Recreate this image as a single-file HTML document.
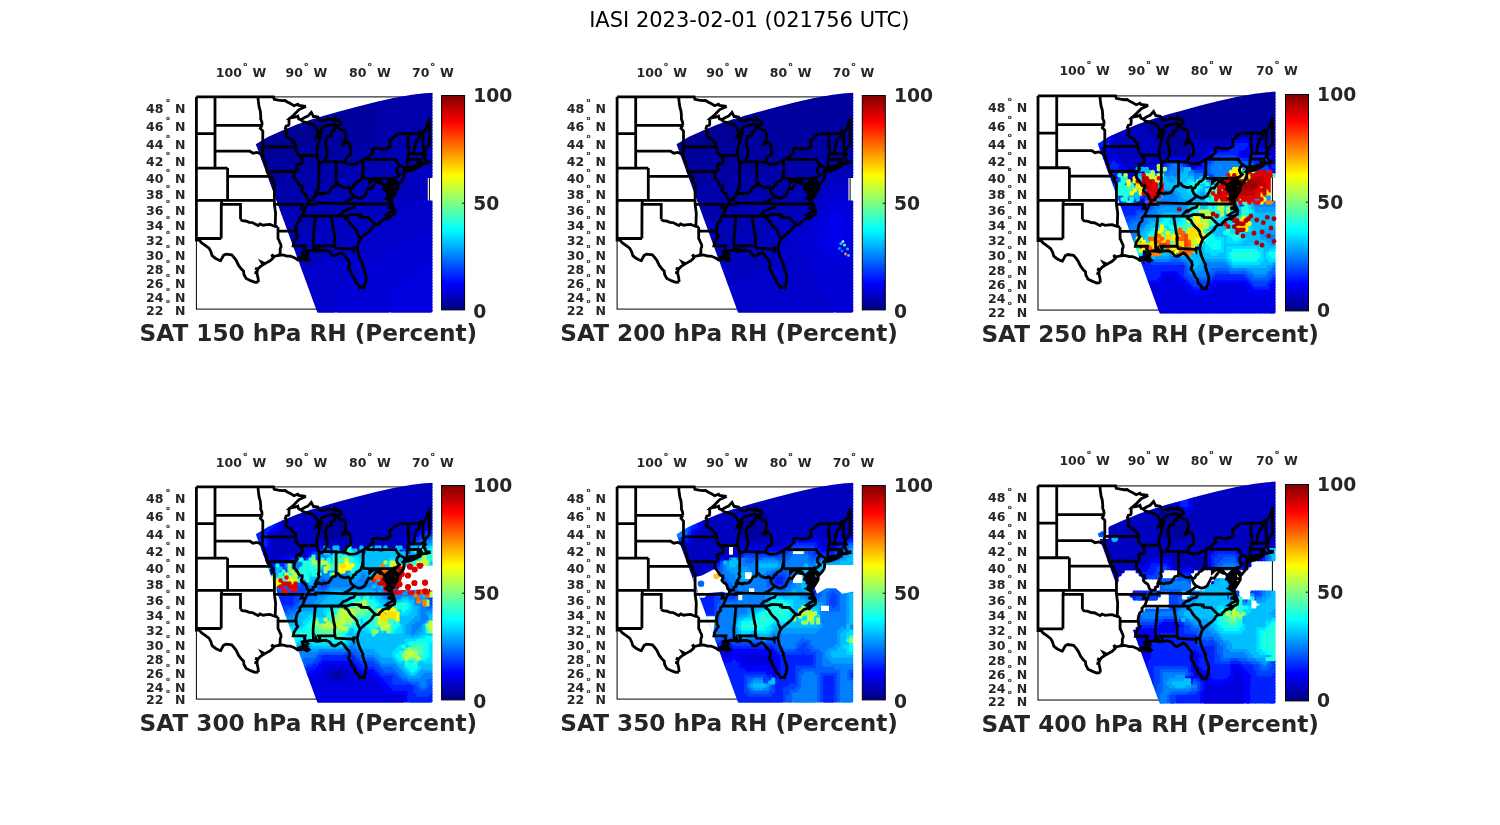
<!DOCTYPE html><html><head><meta charset="utf-8"><title>IASI</title><style>html,body{margin:0;padding:0;background:#fff}svg{display:block}text{font-family:"DejaVu Sans","Liberation Sans",sans-serif}.b{font-weight:bold;fill:#262626}.t{font-size:12.5px}.r{font-size:5.8px}.c{font-size:18.75px}.l{font-size:23.2px}</style></head><body>
<svg width="1500" height="825" viewBox="0 0 1500 825">
<defs>
<path id="st" d="M196.4,96.9 271.0,96.9 273.5,96.9 274.2,99.3 278.3,100.2 282.0,100.7 284.9,100.5 287.7,102.3 289.6,103.1 294.0,105.7 297.8,104.2 298.7,105.4 306.0,106.4M196.4,96.9 196.4,240.2 199.4,240.2M215.0,96.9 215.0,168.1M196.4,133.7 215.0,133.7M215.0,125.3 262.1,125.3M215.0,151.2 249.9,151.2 253.1,153.2 256.9,152.4 259.4,153.3 261.3,154.6 262.8,155.6M196.4,168.1 227.6,168.1M227.6,168.1 227.6,200.4M227.6,176.4 270.0,176.4M196.4,200.4 274.4,200.4M221.6,200.4 221.6,204.3 221.3,204.3 221.2,238.5M221.2,238.5 198.8,238.5 199.4,240.2M221.6,204.3 240.5,204.3 240.5,219.3M240.5,219.3 242.4,220.7 245.5,221.0 249.3,222.4 252.4,222.6 255.0,223.9 258.1,225.5 260.0,223.9 263.1,225.2 266.9,224.7 270.1,224.5 272.6,225.5 275.2,226.3 278.0,227.0M278.0,227.0 278.0,238.5 278.9,240.0 279.4,241.5 280.8,244.4 281.1,246.6 280.2,248.8 280.2,252.5 279.2,255.4M274.4,200.4 274.4,204.3 275.6,213.0 275.2,226.3M274.4,200.4 274.4,183.7 272.6,181.7 271.3,180.0 272.6,178.4 272.0,177.2 270.0,176.4M270.0,176.4 268.5,173.9 267.1,171.5 266.6,168.1 266.1,165.6 265.0,162.2 263.8,158.9 262.8,155.6M267.1,171.6 292.6,171.4 294.5,173.2M262.8,146.9 295.8,146.9M262.8,155.6 261.9,153.8 262.8,150.3 261.9,146.9M262.8,146.9 262.8,131.1 260.3,128.4 262.1,125.3M262.1,125.3 261.9,122.1 260.6,118.9 260.8,116.6 260.3,111.0 259.1,107.0 258.4,101.7 257.9,96.9M290.2,118.0 289.0,118.8 289.0,124.1 288.7,125.2 286.1,126.1 285.3,128.4 286.8,130.2 286.1,133.7 285.8,136.0 287.7,137.6 290.9,139.0 293.1,142.1 295.6,143.9 295.8,146.9M295.8,146.9 296.5,150.3 296.2,152.1 299.4,155.5 302.2,158.9 302.5,161.4 301.2,163.5 296.8,164.8 296.5,168.1 297.5,168.9 296.5,170.6 294.6,171.8 294.5,173.2M294.5,173.2 294.0,176.4 294.6,178.4 297.2,181.3 299.0,184.5 299.7,185.5 302.2,185.7 302.2,187.7 301.2,190.5 302.8,192.5 305.3,194.1 306.6,196.5 306.9,198.5 308.8,200.4M299.4,155.5 317.3,155.5M319.0,162.2 319.0,181.7 318.2,183.7 319.2,186.5 317.6,189.3 316.4,190.9 315.7,193.3 315.4,194.1M336.1,162.2 336.1,183.7M323.6,161.7 336.2,161.7 336.2,162.2 344.7,162.2M363.1,159.9 363.1,178.6M367.9,157.4 367.9,159.7 395.7,159.7 397.6,163.1 399.8,165.1M363.1,178.6 392.9,178.6 394.1,177.7 395.3,178.0M399.8,165.1 397.1,168.2 396.6,170.6 397.6,173.1 399.5,174.7 397.3,176.8 395.3,178.0 394.4,179.6M392.9,178.6 392.9,188.8 397.6,188.8M399.8,165.1 404.8,168.1M406.3,168.1 407.4,166.4 407.0,165.6 407.4,159.3 408.8,153.3 408.9,146.0 408.0,146.0 408.3,133.7M407.4,159.4 418.1,159.5 420.7,159.6 420.7,160.6 422.3,163.9M418.1,159.5 418.1,164.8 417.7,165.4M408.8,153.5 421.2,153.8 423.1,152.5 424.2,152.3M413.9,153.5 414.3,148.6 415.5,144.3 416.5,140.8 419.3,138.2 419.9,133.7M425.0,150.6 423.2,147.8 422.9,131.1M399.8,133.7 419.9,133.7 420.6,131.5 422.6,131.1 424.0,131.5 426.9,127.0 427.8,123.4 429.1,121.2 429.4,118.4 429.4,144.7M399.8,133.7 396.0,135.1 392.9,138.2 389.7,140.8 390.4,146.5 386.6,148.6 381.5,149.1 375.9,148.2 372.4,149.0 372.5,151.6 373.3,152.5 367.9,157.4 363.1,159.9 355.7,163.9 349.4,164.3 347.5,163.5 344.7,162.2 345.6,159.7 346.9,157.2 350.7,154.6 351.2,151.2 350.1,145.2 347.5,142.1 345.0,143.4 341.9,145.6 344.4,141.7 345.6,139.0 345.6,133.7 344.4,130.6 340.6,129.3 336.5,126.8 334.9,127.5 334.3,130.6 331.2,132.0 331.2,135.5 327.1,136.4 325.5,141.7 325.8,145.2 327.4,151.2 326.8,156.3 324.9,159.7 323.6,161.7 321.1,162.7 319.0,162.2 318.6,161.0 317.3,157.2 317.3,155.5 316.7,151.2 317.9,145.2 319.2,140.8 320.5,135.5 322.3,131.5 319.8,134.6 317.6,136.8 316.0,137.7 316.7,135.1 318.6,132.9M318.6,132.9 317.3,130.6 315.4,126.6 312.9,124.8 309.1,123.4 302.8,121.6 300.9,119.8M318.6,132.9 322.3,127.5 325.5,126.1 329.3,125.2 334.9,124.3 336.8,125.7 340.0,124.8 341.2,123.9 340.6,122.1 339.0,120.2 337.5,120.7 334.9,118.0 334.6,120.2 328.0,118.9 324.9,120.7 319.8,120.2 317.9,117.0 314.8,116.4 313.5,116.6 311.3,112.4 307.9,116.1 304.7,117.5 300.9,119.8 298.7,118.9 297.8,116.1 295.9,117.0 290.2,118.0 294.0,114.7 299.0,109.6 306.0,106.4M363.1,171.1 362.6,173.1 362.0,176.4 361.1,179.2 358.9,181.3 356.7,182.1 355.4,184.5 353.8,184.9 352.6,187.7 350.1,189.2 348.5,186.9 345.6,187.7 343.1,187.3 340.0,186.1 338.1,183.7 336.1,183.7 335.6,186.1 332.4,186.9 330.2,190.4 328.6,192.5 325.5,193.3 323.6,192.9 321.7,194.1 318.6,192.9 316.4,194.1 315.4,194.1 315.4,196.5 313.2,197.3 312.9,199.9 308.8,200.4M307.1,204.3 315.7,204.3 315.7,202.9 343.2,203.6 355.8,203.6 355.8,204.0 392.2,204.0M343.2,203.6 346.9,201.6 349.4,200.0 351.9,198.1 354.0,196.2 351.3,193.7 350.1,190.9 350.1,189.2M354.0,196.2 358.2,198.1 360.8,198.1 364.5,196.1 366.4,192.5 368.6,188.1 371.5,188.5 373.3,185.7 376.8,181.3 380.0,183.3 380.8,181.9M380.8,181.9 379.0,179.6 376.5,179.5 374.0,180.0 372.1,180.8 369.7,182.9 369.7,178.6M380.8,181.9 382.2,183.7 385.0,185.7 383.7,189.3 385.3,190.1 389.7,192.9M355.8,203.6 353.8,207.3 350.1,208.2 346.9,210.2 343.1,211.6 339.3,216.0M346.9,216.0 301.6,216.0M346.9,216.0 351.3,214.4 359.8,214.8 359.8,215.6 360.8,215.2 361.5,217.3 368.4,217.5 375.6,224.7M346.9,216.0 345.3,218.2 348.2,220.2 350.1,223.6 352.6,226.6 354.5,228.1 357.0,231.1 357.6,234.1 359.5,237.8 360.8,238.3M331.2,216.0 333.8,232.1 334.9,236.3 334.6,241.5 334.9,245.9 335.8,248.1 352.5,249.0 353.5,250.6 353.8,247.7 357.3,248.1M334.9,245.9 318.6,245.9 319.8,248.5 319.2,251.0M314.8,216.0 315.4,216.7 313.1,239.3 313.5,250.6M308.8,200.4 308.5,203.6 306.6,204.3 306.3,206.3 305.3,208.2 303.8,212.1 302.8,214.8 301.6,216.0 299.7,218.2 300.0,220.5 297.5,222.8 296.5,225.8 295.9,228.8 296.2,231.1 296.5,234.8 297.8,236.3 295.9,239.3 294.0,242.2 293.2,245.9 305.2,245.9 304.4,248.5 306.0,251.7M278.0,230.9 296.1,231.1M274.4,204.3 302.5,204.3 301.1,208.2 305.3,208.2M199.4,240.2 201.4,242.6 205.2,245.3 209.0,248.2 210.9,251.7 212.1,255.7 215.3,258.2 219.7,260.4 220.6,260.6 223.5,255.4 226.0,254.1 231.7,254.9 234.2,257.7 236.4,260.8 238.6,265.4 241.4,269.1 243.6,271.1 243.9,274.3 246.1,278.5 251.2,280.9 255.0,282.3 258.4,282.0M258.4,282.0 258.1,278.1 256.9,273.2 257.5,269.7 260.0,266.8 263.1,264.7 266.3,262.9 270.1,260.8 273.2,257.9 273.9,256.4 278.3,255.5 279.2,255.4 282.7,254.9 287.1,256.2 290.2,256.1 292.1,256.8 295.3,258.2 297.8,260.0 300.9,259.7 303.5,259.0 307.2,260.8 309.1,259.7 306.6,257.5 306.0,255.4 307.9,253.9 306.6,252.5 306.0,251.7 309.7,250.4 313.5,250.6 315.4,251.0 316.0,248.5 316.7,250.3 317.6,251.4 319.2,251.0 325.5,250.3 329.3,251.7 332.4,255.4 334.9,256.1 339.0,253.6 341.2,252.5 343.8,254.6 346.9,259.0 349.1,261.1 349.7,264.7 348.5,268.6 350.7,271.4 352.6,276.0 354.8,278.8 355.7,282.3 358.9,285.5 359.5,287.8 363.6,287.2 364.5,285.1 365.8,282.3 366.2,276.0 364.2,270.4 362.6,265.4 363.1,264.3 360.8,260.0 358.6,254.6 357.6,250.3 357.3,248.1 358.2,243.7 359.5,240.4 360.8,238.3 363.6,235.9 366.7,233.3 370.5,230.3 371.8,228.8 373.3,226.2 375.6,224.7 379.0,224.5 379.6,222.8 383.4,219.4 387.5,218.2 388.5,218.9 391.0,216.0 394.6,214.2 395.1,210.6 393.2,206.7 392.2,204.0 391.6,201.2 389.7,200.8 389.1,198.9 389.7,196.1 389.7,192.9 389.1,190.1 388.5,185.3 389.1,182.5 391.3,180.0 391.9,180.0 390.4,184.5 389.7,186.9 391.0,190.1 392.6,192.9 391.9,196.5 391.6,199.2 392.9,197.3 395.4,193.3 397.3,190.1 397.6,188.9 397.3,186.1 395.4,183.7 394.4,180.4 394.4,179.6 394.8,180.8 397.3,182.9 398.5,185.1 401.7,181.3 403.6,178.4 404.2,173.1 402.9,172.2 404.2,170.6 404.8,168.1 406.3,168.1 410.5,166.4 414.9,165.8 417.7,165.4 419.9,165.0 420.6,162.7 420.7,161.4 421.5,162.2 421.8,164.2 422.3,163.9 425.3,163.5 429.4,162.7 429.4,161.8 426.2,161.6 425.3,159.7 424.7,158.0 423.1,157.2 423.7,155.9 425.6,154.2 424.2,152.3 425.0,150.6 425.9,148.6 428.1,146.0 429.4,144.7M404.2,171.6 408.6,171.2 413.7,169.5 417.6,167.5 414.9,167.3 413.0,168.5 409.2,168.8 405.8,169.8 404.2,171.6M387.5,218.2 388.5,216.0 385.9,215.2 388.5,213.3 392.2,211.3 392.9,208.6 387.8,208.2 391.6,206.7 392.2,204.0M385.3,185.3 388.5,182.1 389.1,186.1 385.9,187.7 389.1,189.3 389.7,192.5 385.9,190.9 388.5,194.9 389.7,197.3 386.6,195.7 389.1,198.5 386.6,198.9 389.7,200.8M392.9,182.1 391.0,185.3 393.5,187.7 391.6,190.1 394.1,192.5 392.9,195.7M300.9,252.5 304.1,251.0 302.8,253.9 306.0,256.1 302.2,256.8 304.1,258.2 300.3,258.2 302.2,259.7 297.2,258.2M273.2,257.9 271.7,254.6 273.5,256.4M263.1,264.7 261.6,262.2 264.4,263.6M257.5,269.7 255.3,268.4 258.1,268.8M256.9,273.2 254.6,272.5 256.9,272.7M363.6,287.2 364.8,288.9" fill="none" stroke="#000" stroke-width="2.8" stroke-linejoin="miter" stroke-miterlimit="4" stroke-linecap="butt"/>
<linearGradient id="jet" x1="0" y1="0" x2="0" y2="1"><stop offset="0" stop-color="#800000"/><stop offset="0.125" stop-color="#ff0000"/><stop offset="0.375" stop-color="#ffff00"/><stop offset="0.625" stop-color="#00ffff"/><stop offset="0.875" stop-color="#0000ff"/><stop offset="1" stop-color="#000080"/></linearGradient>
<clipPath id="sw"><polygon points="255.8,144.3 267.8,137 282.3,130.4 296.9,124.6 311.4,119.5 325.9,115.2 337.3,112.1 356,106.9 374.7,102.3 393.4,98.1 412,94.8 424.2,93.3 429.8,92.9 436,92.4 436,316 319,316 316.6,310.5"/></clipPath>
</defs>
<rect width="1500" height="825" fill="#fff"/>
<text x="749.3" y="26.6" text-anchor="middle" font-size="21" fill="#000">IASI 2023-02-01 (021756 UTC)</text>
<g transform="translate(0.00,0.00)">
<g transform="translate(196.40,96.90) scale(1,1) translate(-196.40,-96.90)">
<rect x="196.4" y="96.9" width="233.0" height="212.2" fill="#fff" stroke="#000" stroke-width="1"/>
<g clip-path="url(#sw)" fill="none" stroke-width="4.6" stroke-linecap="round"><path stroke="#000095" d="M316.5,115.5h0m3,0h0m3,0h0M307.5,118.5h0m3,0h0m3,0h0m3,0h0m3,0h0m3,0h0M298.5,121.5h0m3,0h0m3,0h0m3,0h0m3,0h0m3,0h0m3,0h0m3,0h0m3,0h0M289.5,124.5h0m3,0h0m3,0h0m3,0h0m3,0h0m3,0h0m3,0h0m3,0h0m3,0h0m3,0h0m3,0h0m3,0h0M283.5,127.5h0m3,0h0m3,0h0m3,0h0m3,0h0m3,0h0m3,0h0m3,0h0m3,0h0m3,0h0m3,0h0m3,0h0m3,0h0m3,0h0M277.5,130.5h0m3,0h0m3,0h0m3,0h0m3,0h0m3,0h0m3,0h0m3,0h0m3,0h0m3,0h0m3,0h0m3,0h0m3,0h0m3,0h0m3,0h0m3,0h0M268.5,133.5h0m3,0h0m3,0h0m3,0h0m3,0h0m3,0h0m3,0h0m3,0h0m3,0h0m3,0h0m3,0h0m3,0h0m3,0h0m3,0h0m3,0h0m3,0h0m3,0h0m3,0h0m3,0h0M265.5,136.5h0m3,0h0m3,0h0m3,0h0m3,0h0m3,0h0m3,0h0m3,0h0m3,0h0m3,0h0m3,0h0m3,0h0m3,0h0m3,0h0m3,0h0m3,0h0m3,0h0m3,0h0m3,0h0m3,0h0M259.5,139.5h0m3,0h0m3,0h0m3,0h0m3,0h0m3,0h0m3,0h0m3,0h0m3,0h0m3,0h0m3,0h0m3,0h0m3,0h0m3,0h0m3,0h0m3,0h0m3,0h0m3,0h0m3,0h0m3,0h0m3,0h0m3,0h0M253.5,142.5h0m3,0h0m3,0h0m3,0h0m3,0h0m3,0h0m3,0h0m3,0h0m3,0h0m3,0h0m3,0h0m3,0h0m3,0h0m3,0h0m3,0h0m3,0h0m3,0h0m3,0h0m3,0h0m3,0h0M253.5,145.5h0m3,0h0m3,0h0m3,0h0m3,0h0m3,0h0m3,0h0m3,0h0m3,0h0m3,0h0m3,0h0m3,0h0m3,0h0m3,0h0m3,0h0m3,0h0m3,0h0m3,0h0M256.5,148.5h0m3,0h0m3,0h0m3,0h0m3,0h0m3,0h0m3,0h0m3,0h0m3,0h0m3,0h0m3,0h0m3,0h0m3,0h0m3,0h0M256.5,151.5h0m3,0h0m3,0h0m3,0h0m3,0h0m3,0h0m3,0h0m3,0h0m3,0h0m3,0h0m3,0h0M256.5,154.5h0m3,0h0m3,0h0m3,0h0m3,0h0m3,0h0m3,0h0m3,0h0m3,0h0M259.5,157.5h0m3,0h0m3,0h0m3,0h0m3,0h0m3,0h0"/><path stroke="#00009f" d="M370.5,100.5h0m3,0h0m3,0h0M358.5,103.5h0m3,0h0m3,0h0m3,0h0m3,0h0m3,0h0m3,0h0M346.5,106.5h0m3,0h0m3,0h0m3,0h0m3,0h0m3,0h0m3,0h0m3,0h0m3,0h0m3,0h0m3,0h0M337.5,109.5h0m3,0h0m3,0h0m3,0h0m3,0h0m3,0h0m3,0h0m3,0h0m3,0h0m3,0h0m3,0h0m3,0h0m3,0h0m3,0h0M325.5,112.5h0m3,0h0m3,0h0m3,0h0m3,0h0m3,0h0m3,0h0m3,0h0m3,0h0m3,0h0m3,0h0m3,0h0m3,0h0m3,0h0m3,0h0m3,0h0m3,0h0m3,0h0M325.5,115.5h0m3,0h0m3,0h0m3,0h0m3,0h0m3,0h0m3,0h0m3,0h0m3,0h0m3,0h0m3,0h0m3,0h0m3,0h0m3,0h0m3,0h0m3,0h0m3,0h0m3,0h0M325.5,118.5h0m3,0h0m3,0h0m3,0h0m3,0h0m3,0h0m3,0h0m3,0h0m3,0h0m3,0h0m3,0h0m3,0h0m3,0h0m3,0h0m3,0h0m3,0h0m3,0h0m3,0h0M325.5,121.5h0m3,0h0m3,0h0m3,0h0m3,0h0m3,0h0m3,0h0m3,0h0m3,0h0m3,0h0m3,0h0m3,0h0m3,0h0m3,0h0m3,0h0m3,0h0m3,0h0m3,0h0M325.5,124.5h0m3,0h0m3,0h0m3,0h0m3,0h0m3,0h0m3,0h0m3,0h0m3,0h0m3,0h0m3,0h0m3,0h0m3,0h0m3,0h0m3,0h0m3,0h0m3,0h0m3,0h0M325.5,127.5h0m3,0h0m3,0h0m3,0h0m3,0h0m3,0h0m3,0h0m3,0h0m3,0h0m3,0h0m3,0h0m3,0h0m3,0h0m3,0h0m3,0h0m3,0h0m3,0h0m3,0h0M325.5,130.5h0m3,0h0m3,0h0m3,0h0m3,0h0m3,0h0m3,0h0m3,0h0m3,0h0m3,0h0m3,0h0m3,0h0m3,0h0m3,0h0m3,0h0m3,0h0m3,0h0m3,0h0M325.5,133.5h0m3,0h0m3,0h0m3,0h0m3,0h0m3,0h0m3,0h0m3,0h0m3,0h0m3,0h0m3,0h0m3,0h0m3,0h0m3,0h0m3,0h0m3,0h0m3,0h0m3,0h0M325.5,136.5h0m3,0h0m3,0h0m3,0h0m3,0h0m3,0h0m3,0h0m3,0h0m3,0h0m3,0h0m3,0h0m3,0h0m3,0h0m3,0h0m3,0h0m3,0h0m3,0h0m3,0h0M325.5,139.5h0m3,0h0m3,0h0m3,0h0m3,0h0m3,0h0m3,0h0m3,0h0m3,0h0m3,0h0m3,0h0m3,0h0m3,0h0m3,0h0m3,0h0m3,0h0m3,0h0m3,0h0M313.5,142.5h0m3,0h0m3,0h0m3,0h0m3,0h0m3,0h0m3,0h0m3,0h0m3,0h0m3,0h0m3,0h0m3,0h0m3,0h0m3,0h0m3,0h0m3,0h0m3,0h0m3,0h0m3,0h0M307.5,145.5h0m3,0h0m3,0h0m3,0h0m3,0h0m3,0h0m3,0h0m3,0h0m3,0h0m3,0h0m3,0h0m3,0h0m3,0h0m3,0h0m3,0h0m3,0h0m3,0h0m3,0h0M298.5,148.5h0m3,0h0m3,0h0m3,0h0m3,0h0m3,0h0m3,0h0m3,0h0m3,0h0m3,0h0m3,0h0m3,0h0m3,0h0m3,0h0m3,0h0m3,0h0m3,0h0m3,0h0M289.5,151.5h0m3,0h0m3,0h0m3,0h0m3,0h0m3,0h0m3,0h0m3,0h0m3,0h0m3,0h0m3,0h0m3,0h0m3,0h0m3,0h0m3,0h0m3,0h0m3,0h0m3,0h0m3,0h0M283.5,154.5h0m3,0h0m3,0h0m3,0h0m3,0h0m3,0h0m3,0h0m3,0h0m3,0h0m3,0h0m3,0h0m3,0h0m3,0h0m3,0h0m3,0h0m3,0h0m3,0h0m3,0h0m3,0h0M277.5,157.5h0m3,0h0m3,0h0m3,0h0m3,0h0m3,0h0m3,0h0m3,0h0m3,0h0m3,0h0m3,0h0m3,0h0m3,0h0m3,0h0m3,0h0m3,0h0m3,0h0m3,0h0M259.5,160.5h0m3,0h0m3,0h0m3,0h0m3,0h0m3,0h0m3,0h0m3,0h0m3,0h0m3,0h0m3,0h0m3,0h0m3,0h0m3,0h0m3,0h0m3,0h0m3,0h0m3,0h0m3,0h0m3,0h0m3,0h0m3,0h0M262.5,163.5h0m3,0h0m3,0h0m3,0h0m3,0h0m3,0h0m3,0h0m3,0h0m3,0h0m3,0h0m3,0h0m3,0h0m3,0h0m3,0h0m3,0h0m3,0h0m3,0h0m3,0h0m3,0h0M262.5,166.5h0m3,0h0m3,0h0m3,0h0m3,0h0m3,0h0m3,0h0m3,0h0m3,0h0m3,0h0m3,0h0m3,0h0m3,0h0m3,0h0m3,0h0m3,0h0m3,0h0M262.5,169.5h0m3,0h0m3,0h0m3,0h0m3,0h0m3,0h0m3,0h0m3,0h0m3,0h0m3,0h0m3,0h0m3,0h0m3,0h0m3,0h0m3,0h0M265.5,172.5h0m3,0h0m3,0h0m3,0h0m3,0h0m3,0h0m3,0h0m3,0h0m3,0h0m3,0h0m3,0h0m3,0h0M265.5,175.5h0m3,0h0m3,0h0m3,0h0m3,0h0m3,0h0m3,0h0m3,0h0m3,0h0m3,0h0M265.5,178.5h0m3,0h0m3,0h0m3,0h0m3,0h0m3,0h0m3,0h0m3,0h0M268.5,181.5h0m3,0h0m3,0h0m3,0h0m3,0h0m3,0h0M268.5,184.5h0m3,0h0m3,0h0m3,0h0M268.5,187.5h0m3,0h0"/><path stroke="#0000aa" d="M415.5,91.5h0m3,0h0m3,0h0m3,0h0m3,0h0m3,0h0M397.5,94.5h0m3,0h0m3,0h0m3,0h0m3,0h0m3,0h0m3,0h0m3,0h0m3,0h0m3,0h0m3,0h0m3,0h0M382.5,97.5h0m3,0h0m3,0h0m3,0h0m3,0h0m3,0h0m3,0h0m3,0h0m3,0h0m3,0h0m3,0h0m3,0h0m3,0h0m3,0h0m3,0h0m3,0h0m3,0h0M379.5,100.5h0m3,0h0m3,0h0m3,0h0m3,0h0m3,0h0m3,0h0m3,0h0m3,0h0m3,0h0m3,0h0m3,0h0m3,0h0m3,0h0m3,0h0m3,0h0m3,0h0m3,0h0M379.5,103.5h0m3,0h0m3,0h0m3,0h0m3,0h0m3,0h0m3,0h0m3,0h0m3,0h0m3,0h0m3,0h0m3,0h0m3,0h0m3,0h0m3,0h0m3,0h0m3,0h0m3,0h0M379.5,106.5h0m3,0h0m3,0h0m3,0h0m3,0h0m3,0h0m3,0h0m3,0h0m3,0h0m3,0h0m3,0h0m3,0h0m3,0h0m3,0h0m3,0h0m3,0h0m3,0h0m3,0h0M379.5,109.5h0m3,0h0m3,0h0m3,0h0m3,0h0m3,0h0m3,0h0m3,0h0m3,0h0m3,0h0m3,0h0m3,0h0m3,0h0m3,0h0m3,0h0m3,0h0m3,0h0m3,0h0M379.5,112.5h0m3,0h0m3,0h0m3,0h0m3,0h0m3,0h0m3,0h0m3,0h0m3,0h0m3,0h0m3,0h0m3,0h0m3,0h0m3,0h0m3,0h0m3,0h0m3,0h0m3,0h0M379.5,115.5h0m3,0h0m3,0h0m3,0h0m3,0h0m3,0h0m3,0h0m3,0h0m3,0h0m3,0h0m3,0h0m3,0h0m3,0h0m3,0h0m3,0h0m3,0h0m3,0h0m3,0h0M379.5,118.5h0m3,0h0m3,0h0m3,0h0m3,0h0m3,0h0m3,0h0m3,0h0m3,0h0m3,0h0m3,0h0m3,0h0m3,0h0m3,0h0m3,0h0m3,0h0m3,0h0m3,0h0M379.5,121.5h0m3,0h0m3,0h0m3,0h0m3,0h0m3,0h0m3,0h0m3,0h0m3,0h0m3,0h0m3,0h0m3,0h0m3,0h0m3,0h0m3,0h0m3,0h0m3,0h0m3,0h0M379.5,124.5h0m3,0h0m3,0h0m3,0h0m3,0h0m3,0h0m3,0h0m3,0h0m3,0h0m3,0h0m3,0h0m3,0h0m3,0h0m3,0h0m3,0h0m3,0h0m3,0h0m3,0h0M379.5,127.5h0m3,0h0m3,0h0m3,0h0m3,0h0m3,0h0m3,0h0m3,0h0m3,0h0m3,0h0m3,0h0m3,0h0m3,0h0m3,0h0m3,0h0m3,0h0m3,0h0m3,0h0M379.5,130.5h0m3,0h0m3,0h0m3,0h0m3,0h0m3,0h0m3,0h0m3,0h0m3,0h0m3,0h0m3,0h0m3,0h0m3,0h0m3,0h0m3,0h0m3,0h0m3,0h0m3,0h0M379.5,133.5h0m3,0h0m3,0h0m3,0h0m3,0h0m3,0h0m3,0h0m3,0h0m3,0h0m3,0h0m3,0h0m3,0h0m3,0h0m3,0h0m3,0h0m3,0h0m3,0h0m3,0h0M379.5,136.5h0m3,0h0m3,0h0m3,0h0m3,0h0m3,0h0m3,0h0m3,0h0m3,0h0m3,0h0m3,0h0m3,0h0m3,0h0m3,0h0m3,0h0m3,0h0m3,0h0m3,0h0M379.5,139.5h0m3,0h0m3,0h0m3,0h0m3,0h0m3,0h0m3,0h0m3,0h0m3,0h0m3,0h0m3,0h0m3,0h0m3,0h0m3,0h0m3,0h0m3,0h0m3,0h0m3,0h0M370.5,142.5h0m3,0h0m3,0h0m3,0h0m3,0h0m3,0h0m3,0h0m3,0h0m3,0h0m3,0h0m3,0h0m3,0h0m3,0h0m3,0h0m3,0h0m3,0h0m3,0h0m3,0h0m3,0h0M361.5,145.5h0m3,0h0m3,0h0m3,0h0m3,0h0m3,0h0m3,0h0m3,0h0m3,0h0m3,0h0m3,0h0m3,0h0m3,0h0m3,0h0m3,0h0m3,0h0m3,0h0m3,0h0m3,0h0M352.5,148.5h0m3,0h0m3,0h0m3,0h0m3,0h0m3,0h0m3,0h0m3,0h0m3,0h0m3,0h0m3,0h0m3,0h0m3,0h0m3,0h0m3,0h0m3,0h0m3,0h0m3,0h0m3,0h0M346.5,151.5h0m3,0h0m3,0h0m3,0h0m3,0h0m3,0h0m3,0h0m3,0h0m3,0h0m3,0h0m3,0h0m3,0h0m3,0h0m3,0h0m3,0h0m3,0h0m3,0h0m3,0h0M340.5,154.5h0m3,0h0m3,0h0m3,0h0m3,0h0m3,0h0m3,0h0m3,0h0m3,0h0m3,0h0m3,0h0m3,0h0m3,0h0m3,0h0m3,0h0m3,0h0m3,0h0m3,0h0M331.5,157.5h0m3,0h0m3,0h0m3,0h0m3,0h0m3,0h0m3,0h0m3,0h0m3,0h0m3,0h0m3,0h0m3,0h0m3,0h0m3,0h0m3,0h0m3,0h0m3,0h0m3,0h0m3,0h0M325.5,160.5h0m3,0h0m3,0h0m3,0h0m3,0h0m3,0h0m3,0h0m3,0h0m3,0h0m3,0h0m3,0h0m3,0h0m3,0h0m3,0h0m3,0h0m3,0h0m3,0h0m3,0h0m3,0h0M319.5,163.5h0m3,0h0m3,0h0m3,0h0m3,0h0m3,0h0m3,0h0m3,0h0m3,0h0m3,0h0m3,0h0m3,0h0m3,0h0m3,0h0m3,0h0m3,0h0m3,0h0m3,0h0m3,0h0M313.5,166.5h0m3,0h0m3,0h0m3,0h0m3,0h0m3,0h0m3,0h0m3,0h0m3,0h0m3,0h0m3,0h0m3,0h0m3,0h0m3,0h0m3,0h0m3,0h0m3,0h0m3,0h0m3,0h0M307.5,169.5h0m3,0h0m3,0h0m3,0h0m3,0h0m3,0h0m3,0h0m3,0h0m3,0h0m3,0h0m3,0h0m3,0h0m3,0h0m3,0h0m3,0h0m3,0h0m3,0h0m3,0h0m3,0h0M301.5,172.5h0m3,0h0m3,0h0m3,0h0m3,0h0m3,0h0m3,0h0m3,0h0m3,0h0m3,0h0m3,0h0m3,0h0m3,0h0m3,0h0m3,0h0m3,0h0m3,0h0m3,0h0m3,0h0M295.5,175.5h0m3,0h0m3,0h0m3,0h0m3,0h0m3,0h0m3,0h0m3,0h0m3,0h0m3,0h0m3,0h0m3,0h0m3,0h0m3,0h0m3,0h0m3,0h0m3,0h0m3,0h0m3,0h0M289.5,178.5h0m3,0h0m3,0h0m3,0h0m3,0h0m3,0h0m3,0h0m3,0h0m3,0h0m3,0h0m3,0h0m3,0h0m3,0h0m3,0h0m3,0h0m3,0h0m3,0h0m3,0h0m3,0h0M286.5,181.5h0m3,0h0m3,0h0m3,0h0m3,0h0m3,0h0m3,0h0m3,0h0m3,0h0m3,0h0m3,0h0m3,0h0m3,0h0m3,0h0m3,0h0m3,0h0m3,0h0m3,0h0M280.5,184.5h0m3,0h0m3,0h0m3,0h0m3,0h0m3,0h0m3,0h0m3,0h0m3,0h0m3,0h0m3,0h0m3,0h0m3,0h0m3,0h0m3,0h0m3,0h0m3,0h0m3,0h0M274.5,187.5h0m3,0h0m3,0h0m3,0h0m3,0h0m3,0h0m3,0h0m3,0h0m3,0h0m3,0h0m3,0h0m3,0h0m3,0h0m3,0h0m3,0h0m3,0h0m3,0h0m3,0h0M271.5,190.5h0m3,0h0m3,0h0m3,0h0m3,0h0m3,0h0m3,0h0m3,0h0m3,0h0m3,0h0m3,0h0m3,0h0m3,0h0m3,0h0m3,0h0m3,0h0m3,0h0m3,0h0M271.5,193.5h0m3,0h0m3,0h0m3,0h0m3,0h0m3,0h0m3,0h0m3,0h0m3,0h0m3,0h0m3,0h0m3,0h0m3,0h0m3,0h0m3,0h0m3,0h0M274.5,196.5h0m3,0h0m3,0h0m3,0h0m3,0h0m3,0h0m3,0h0m3,0h0m3,0h0m3,0h0m3,0h0m3,0h0m3,0h0M274.5,199.5h0m3,0h0m3,0h0m3,0h0m3,0h0m3,0h0m3,0h0m3,0h0m3,0h0m3,0h0m3,0h0M274.5,202.5h0m3,0h0m3,0h0m3,0h0m3,0h0m3,0h0m3,0h0m3,0h0m3,0h0m3,0h0M277.5,205.5h0m3,0h0m3,0h0m3,0h0m3,0h0m3,0h0m3,0h0M277.5,208.5h0m3,0h0m3,0h0m3,0h0m3,0h0M277.5,211.5h0m3,0h0m3,0h0m3,0h0M280.5,214.5h0"/><path stroke="#0000b5" d="M427.5,142.5h0m3,0h0M418.5,145.5h0m3,0h0m3,0h0m3,0h0m3,0h0M409.5,148.5h0m3,0h0m3,0h0m3,0h0m3,0h0m3,0h0m3,0h0m3,0h0M400.5,151.5h0m3,0h0m3,0h0m3,0h0m3,0h0m3,0h0m3,0h0m3,0h0m3,0h0m3,0h0m3,0h0M394.5,154.5h0m3,0h0m3,0h0m3,0h0m3,0h0m3,0h0m3,0h0m3,0h0m3,0h0m3,0h0m3,0h0m3,0h0m3,0h0M388.5,157.5h0m3,0h0m3,0h0m3,0h0m3,0h0m3,0h0m3,0h0m3,0h0m3,0h0m3,0h0m3,0h0m3,0h0m3,0h0m3,0h0m3,0h0M382.5,160.5h0m3,0h0m3,0h0m3,0h0m3,0h0m3,0h0m3,0h0m3,0h0m3,0h0m3,0h0m3,0h0m3,0h0m3,0h0m3,0h0m3,0h0m3,0h0m3,0h0M376.5,163.5h0m3,0h0m3,0h0m3,0h0m3,0h0m3,0h0m3,0h0m3,0h0m3,0h0m3,0h0m3,0h0m3,0h0m3,0h0m3,0h0m3,0h0m3,0h0m3,0h0m3,0h0M370.5,166.5h0m3,0h0m3,0h0m3,0h0m3,0h0m3,0h0m3,0h0m3,0h0m3,0h0m3,0h0m3,0h0m3,0h0m3,0h0m3,0h0m3,0h0m3,0h0m3,0h0m3,0h0M364.5,169.5h0m3,0h0m3,0h0m3,0h0m3,0h0m3,0h0m3,0h0m3,0h0m3,0h0m3,0h0m3,0h0m3,0h0m3,0h0m3,0h0m3,0h0m3,0h0m3,0h0m3,0h0M358.5,172.5h0m3,0h0m3,0h0m3,0h0m3,0h0m3,0h0m3,0h0m3,0h0m3,0h0m3,0h0m3,0h0m3,0h0m3,0h0m3,0h0m3,0h0m3,0h0m3,0h0m3,0h0M352.5,175.5h0m3,0h0m3,0h0m3,0h0m3,0h0m3,0h0m3,0h0m3,0h0m3,0h0m3,0h0m3,0h0m3,0h0m3,0h0m3,0h0m3,0h0m3,0h0m3,0h0m3,0h0M346.5,178.5h0m3,0h0m3,0h0m3,0h0m3,0h0m3,0h0m3,0h0m3,0h0m3,0h0m3,0h0m3,0h0m3,0h0m3,0h0m3,0h0m3,0h0m3,0h0m3,0h0m3,0h0M340.5,181.5h0m3,0h0m3,0h0m3,0h0m3,0h0m3,0h0m3,0h0m3,0h0m3,0h0m3,0h0m3,0h0m3,0h0m3,0h0m3,0h0m3,0h0m3,0h0m3,0h0m3,0h0m3,0h0M334.5,184.5h0m3,0h0m3,0h0m3,0h0m3,0h0m3,0h0m3,0h0m3,0h0m3,0h0m3,0h0m3,0h0m3,0h0m3,0h0m3,0h0m3,0h0m3,0h0m3,0h0m3,0h0m3,0h0M328.5,187.5h0m3,0h0m3,0h0m3,0h0m3,0h0m3,0h0m3,0h0m3,0h0m3,0h0m3,0h0m3,0h0m3,0h0m3,0h0m3,0h0m3,0h0m3,0h0m3,0h0m3,0h0m3,0h0M325.5,190.5h0m3,0h0m3,0h0m3,0h0m3,0h0m3,0h0m3,0h0m3,0h0m3,0h0m3,0h0m3,0h0m3,0h0m3,0h0m3,0h0m3,0h0m3,0h0m3,0h0m3,0h0M319.5,193.5h0m3,0h0m3,0h0m3,0h0m3,0h0m3,0h0m3,0h0m3,0h0m3,0h0m3,0h0m3,0h0m3,0h0m3,0h0m3,0h0m3,0h0m3,0h0m3,0h0m3,0h0M313.5,196.5h0m3,0h0m3,0h0m3,0h0m3,0h0m3,0h0m3,0h0m3,0h0m3,0h0m3,0h0m3,0h0m3,0h0m3,0h0m3,0h0m3,0h0m3,0h0m3,0h0m3,0h0m3,0h0M307.5,199.5h0m3,0h0m3,0h0m3,0h0m3,0h0m3,0h0m3,0h0m3,0h0m3,0h0m3,0h0m3,0h0m3,0h0m3,0h0m3,0h0m3,0h0m3,0h0m3,0h0m3,0h0m3,0h0M304.5,202.5h0m3,0h0m3,0h0m3,0h0m3,0h0m3,0h0m3,0h0m3,0h0m3,0h0m3,0h0m3,0h0m3,0h0m3,0h0m3,0h0m3,0h0m3,0h0m3,0h0m3,0h0M298.5,205.5h0m3,0h0m3,0h0m3,0h0m3,0h0m3,0h0m3,0h0m3,0h0m3,0h0m3,0h0m3,0h0m3,0h0m3,0h0m3,0h0m3,0h0m3,0h0m3,0h0m3,0h0m3,0h0M292.5,208.5h0m3,0h0m3,0h0m3,0h0m3,0h0m3,0h0m3,0h0m3,0h0m3,0h0m3,0h0m3,0h0m3,0h0m3,0h0m3,0h0m3,0h0m3,0h0m3,0h0m3,0h0m3,0h0M289.5,211.5h0m3,0h0m3,0h0m3,0h0m3,0h0m3,0h0m3,0h0m3,0h0m3,0h0m3,0h0m3,0h0m3,0h0m3,0h0m3,0h0m3,0h0m3,0h0m3,0h0m3,0h0M283.5,214.5h0m3,0h0m3,0h0m3,0h0m3,0h0m3,0h0m3,0h0m3,0h0m3,0h0m3,0h0m3,0h0m3,0h0m3,0h0m3,0h0m3,0h0m3,0h0m3,0h0m3,0h0m3,0h0M280.5,217.5h0m3,0h0m3,0h0m3,0h0m3,0h0m3,0h0m3,0h0m3,0h0m3,0h0m3,0h0m3,0h0m3,0h0m3,0h0m3,0h0m3,0h0m3,0h0m3,0h0m3,0h0M280.5,220.5h0m3,0h0m3,0h0m3,0h0m3,0h0m3,0h0m3,0h0m3,0h0m3,0h0m3,0h0m3,0h0m3,0h0m3,0h0m3,0h0m3,0h0m3,0h0M283.5,223.5h0m3,0h0m3,0h0m3,0h0m3,0h0m3,0h0m3,0h0m3,0h0m3,0h0m3,0h0m3,0h0m3,0h0m3,0h0m3,0h0M283.5,226.5h0m3,0h0m3,0h0m3,0h0m3,0h0m3,0h0m3,0h0m3,0h0m3,0h0m3,0h0m3,0h0m3,0h0M286.5,229.5h0m3,0h0m3,0h0m3,0h0m3,0h0m3,0h0m3,0h0m3,0h0m3,0h0m3,0h0M286.5,232.5h0m3,0h0m3,0h0m3,0h0m3,0h0m3,0h0m3,0h0m3,0h0M286.5,235.5h0m3,0h0m3,0h0m3,0h0m3,0h0m3,0h0M289.5,238.5h0m3,0h0m3,0h0m3,0h0M289.5,241.5h0m3,0h0M289.5,244.5h0"/><path stroke="#0000bf" d="M430.5,163.5h0M424.5,166.5h0m3,0h0m3,0h0M418.5,169.5h0m3,0h0m3,0h0m3,0h0m3,0h0M412.5,172.5h0m3,0h0m3,0h0m3,0h0m3,0h0m3,0h0m3,0h0M406.5,175.5h0m3,0h0m3,0h0m3,0h0m3,0h0m3,0h0m3,0h0m3,0h0m3,0h0M400.5,178.5h0m3,0h0m3,0h0m3,0h0m3,0h0m3,0h0m3,0h0m3,0h0m3,0h0m3,0h0m3,0h0M397.5,181.5h0m3,0h0m3,0h0m3,0h0m3,0h0m3,0h0m3,0h0m3,0h0m3,0h0m3,0h0m3,0h0m3,0h0M391.5,184.5h0m3,0h0m3,0h0m3,0h0m3,0h0m3,0h0m3,0h0m3,0h0m3,0h0m3,0h0m3,0h0m3,0h0m3,0h0m3,0h0M385.5,187.5h0m3,0h0m3,0h0m3,0h0m3,0h0m3,0h0m3,0h0m3,0h0m3,0h0m3,0h0m3,0h0m3,0h0m3,0h0m3,0h0m3,0h0m3,0h0M379.5,190.5h0m3,0h0m3,0h0m3,0h0m3,0h0m3,0h0m3,0h0m3,0h0m3,0h0m3,0h0m3,0h0m3,0h0m3,0h0m3,0h0m3,0h0m3,0h0m3,0h0m3,0h0M373.5,193.5h0m3,0h0m3,0h0m3,0h0m3,0h0m3,0h0m3,0h0m3,0h0m3,0h0m3,0h0m3,0h0m3,0h0m3,0h0m3,0h0m3,0h0m3,0h0m3,0h0m3,0h0m3,0h0M370.5,196.5h0m3,0h0m3,0h0m3,0h0m3,0h0m3,0h0m3,0h0m3,0h0m3,0h0m3,0h0m3,0h0m3,0h0m3,0h0m3,0h0m3,0h0m3,0h0m3,0h0m3,0h0M364.5,199.5h0m3,0h0m3,0h0m3,0h0m3,0h0m3,0h0m3,0h0m3,0h0m3,0h0m3,0h0m3,0h0m3,0h0m3,0h0m3,0h0m3,0h0m3,0h0m3,0h0m3,0h0m3,0h0M358.5,202.5h0m3,0h0m3,0h0m3,0h0m3,0h0m3,0h0m3,0h0m3,0h0m3,0h0m3,0h0m3,0h0m3,0h0m3,0h0m3,0h0m3,0h0m3,0h0m3,0h0m3,0h0m3,0h0M355.5,205.5h0m3,0h0m3,0h0m3,0h0m3,0h0m3,0h0m3,0h0m3,0h0m3,0h0m3,0h0m3,0h0m3,0h0m3,0h0m3,0h0m3,0h0m3,0h0m3,0h0m3,0h0M349.5,208.5h0m3,0h0m3,0h0m3,0h0m3,0h0m3,0h0m3,0h0m3,0h0m3,0h0m3,0h0m3,0h0m3,0h0m3,0h0m3,0h0m3,0h0m3,0h0m3,0h0m3,0h0M343.5,211.5h0m3,0h0m3,0h0m3,0h0m3,0h0m3,0h0m3,0h0m3,0h0m3,0h0m3,0h0m3,0h0m3,0h0m3,0h0m3,0h0m3,0h0m3,0h0m3,0h0m3,0h0m3,0h0M340.5,214.5h0m3,0h0m3,0h0m3,0h0m3,0h0m3,0h0m3,0h0m3,0h0m3,0h0m3,0h0m3,0h0m3,0h0m3,0h0m3,0h0m3,0h0m3,0h0m3,0h0m3,0h0M334.5,217.5h0m3,0h0m3,0h0m3,0h0m3,0h0m3,0h0m3,0h0m3,0h0m3,0h0m3,0h0m3,0h0m3,0h0m3,0h0m3,0h0m3,0h0m3,0h0m3,0h0m3,0h0m3,0h0M328.5,220.5h0m3,0h0m3,0h0m3,0h0m3,0h0m3,0h0m3,0h0m3,0h0m3,0h0m3,0h0m3,0h0m3,0h0m3,0h0m3,0h0m3,0h0m3,0h0m3,0h0m3,0h0m3,0h0M325.5,223.5h0m3,0h0m3,0h0m3,0h0m3,0h0m3,0h0m3,0h0m3,0h0m3,0h0m3,0h0m3,0h0m3,0h0m3,0h0m3,0h0m3,0h0m3,0h0m3,0h0m3,0h0M319.5,226.5h0m3,0h0m3,0h0m3,0h0m3,0h0m3,0h0m3,0h0m3,0h0m3,0h0m3,0h0m3,0h0m3,0h0m3,0h0m3,0h0m3,0h0m3,0h0m3,0h0m3,0h0m3,0h0M316.5,229.5h0m3,0h0m3,0h0m3,0h0m3,0h0m3,0h0m3,0h0m3,0h0m3,0h0m3,0h0m3,0h0m3,0h0m3,0h0m3,0h0m3,0h0m3,0h0m3,0h0m3,0h0M310.5,232.5h0m3,0h0m3,0h0m3,0h0m3,0h0m3,0h0m3,0h0m3,0h0m3,0h0m3,0h0m3,0h0m3,0h0m3,0h0m3,0h0m3,0h0m3,0h0m3,0h0m3,0h0m3,0h0M304.5,235.5h0m3,0h0m3,0h0m3,0h0m3,0h0m3,0h0m3,0h0m3,0h0m3,0h0m3,0h0m3,0h0m3,0h0m3,0h0m3,0h0m3,0h0m3,0h0m3,0h0m3,0h0m3,0h0M301.5,238.5h0m3,0h0m3,0h0m3,0h0m3,0h0m3,0h0m3,0h0m3,0h0m3,0h0m3,0h0m3,0h0m3,0h0m3,0h0m3,0h0m3,0h0m3,0h0m3,0h0m3,0h0M295.5,241.5h0m3,0h0m3,0h0m3,0h0m3,0h0m3,0h0m3,0h0m3,0h0m3,0h0m3,0h0m3,0h0m3,0h0m3,0h0m3,0h0m3,0h0m3,0h0m3,0h0m3,0h0m3,0h0M292.5,244.5h0m3,0h0m3,0h0m3,0h0m3,0h0m3,0h0m3,0h0m3,0h0m3,0h0m3,0h0m3,0h0m3,0h0m3,0h0m3,0h0m3,0h0m3,0h0m3,0h0m3,0h0M292.5,247.5h0m3,0h0m3,0h0m3,0h0m3,0h0m3,0h0m3,0h0m3,0h0m3,0h0m3,0h0m3,0h0m3,0h0m3,0h0m3,0h0m3,0h0m3,0h0m3,0h0M292.5,250.5h0m3,0h0m3,0h0m3,0h0m3,0h0m3,0h0m3,0h0m3,0h0m3,0h0m3,0h0m3,0h0m3,0h0m3,0h0m3,0h0m3,0h0M295.5,253.5h0m3,0h0m3,0h0m3,0h0m3,0h0m3,0h0m3,0h0m3,0h0m3,0h0m3,0h0m3,0h0m3,0h0m3,0h0M295.5,256.5h0m3,0h0m3,0h0m3,0h0m3,0h0m3,0h0m3,0h0m3,0h0m3,0h0m3,0h0m3,0h0M295.5,259.5h0m3,0h0m3,0h0m3,0h0m3,0h0m3,0h0m3,0h0m3,0h0m3,0h0m3,0h0M298.5,262.5h0m3,0h0m3,0h0m3,0h0m3,0h0m3,0h0m3,0h0M298.5,265.5h0m3,0h0m3,0h0m3,0h0m3,0h0m3,0h0M298.5,268.5h0m3,0h0m3,0h0m3,0h0M301.5,271.5h0m3,0h0"/><path stroke="#0000ca" d="M430.5,193.5h0M424.5,196.5h0m3,0h0m3,0h0M421.5,199.5h0m3,0h0m3,0h0m3,0h0M415.5,202.5h0m3,0h0m3,0h0m3,0h0m3,0h0m3,0h0M409.5,205.5h0m3,0h0m3,0h0m3,0h0m3,0h0m3,0h0m3,0h0m3,0h0M403.5,208.5h0m3,0h0m3,0h0m3,0h0m3,0h0m3,0h0m3,0h0m3,0h0m3,0h0m3,0h0M400.5,211.5h0m3,0h0m3,0h0m3,0h0m3,0h0m3,0h0m3,0h0m3,0h0m3,0h0m3,0h0m3,0h0M394.5,214.5h0m3,0h0m3,0h0m3,0h0m3,0h0m3,0h0m3,0h0m3,0h0m3,0h0m3,0h0m3,0h0m3,0h0m3,0h0M391.5,217.5h0m3,0h0m3,0h0m3,0h0m3,0h0m3,0h0m3,0h0m3,0h0m3,0h0m3,0h0m3,0h0m3,0h0m3,0h0m3,0h0M385.5,220.5h0m3,0h0m3,0h0m3,0h0m3,0h0m3,0h0m3,0h0m3,0h0m3,0h0m3,0h0m3,0h0m3,0h0m3,0h0m3,0h0m3,0h0m3,0h0M379.5,223.5h0m3,0h0m3,0h0m3,0h0m3,0h0m3,0h0m3,0h0m3,0h0m3,0h0m3,0h0m3,0h0m3,0h0m3,0h0m3,0h0m3,0h0m3,0h0m3,0h0m3,0h0M376.5,226.5h0m3,0h0m3,0h0m3,0h0m3,0h0m3,0h0m3,0h0m3,0h0m3,0h0m3,0h0m3,0h0m3,0h0m3,0h0m3,0h0m3,0h0m3,0h0m3,0h0m3,0h0M370.5,229.5h0m3,0h0m3,0h0m3,0h0m3,0h0m3,0h0m3,0h0m3,0h0m3,0h0m3,0h0m3,0h0m3,0h0m3,0h0m3,0h0m3,0h0m3,0h0m3,0h0m3,0h0m3,0h0M367.5,232.5h0m3,0h0m3,0h0m3,0h0m3,0h0m3,0h0m3,0h0m3,0h0m3,0h0m3,0h0m3,0h0m3,0h0m3,0h0m3,0h0m3,0h0m3,0h0m3,0h0m3,0h0M361.5,235.5h0m3,0h0m3,0h0m3,0h0m3,0h0m3,0h0m3,0h0m3,0h0m3,0h0m3,0h0m3,0h0m3,0h0m3,0h0m3,0h0m3,0h0m3,0h0m3,0h0m3,0h0m3,0h0M355.5,238.5h0m3,0h0m3,0h0m3,0h0m3,0h0m3,0h0m3,0h0m3,0h0m3,0h0m3,0h0m3,0h0m3,0h0m3,0h0m3,0h0m3,0h0m3,0h0m3,0h0m3,0h0m3,0h0M352.5,241.5h0m3,0h0m3,0h0m3,0h0m3,0h0m3,0h0m3,0h0m3,0h0m3,0h0m3,0h0m3,0h0m3,0h0m3,0h0m3,0h0m3,0h0m3,0h0m3,0h0m3,0h0M346.5,244.5h0m3,0h0m3,0h0m3,0h0m3,0h0m3,0h0m3,0h0m3,0h0m3,0h0m3,0h0m3,0h0m3,0h0m3,0h0m3,0h0m3,0h0m3,0h0m3,0h0m3,0h0m3,0h0M343.5,247.5h0m3,0h0m3,0h0m3,0h0m3,0h0m3,0h0m3,0h0m3,0h0m3,0h0m3,0h0m3,0h0m3,0h0m3,0h0m3,0h0m3,0h0m3,0h0m3,0h0m3,0h0M337.5,250.5h0m3,0h0m3,0h0m3,0h0m3,0h0m3,0h0m3,0h0m3,0h0m3,0h0m3,0h0m3,0h0m3,0h0m3,0h0m3,0h0m3,0h0m3,0h0m3,0h0m3,0h0m3,0h0M334.5,253.5h0m3,0h0m3,0h0m3,0h0m3,0h0m3,0h0m3,0h0m3,0h0m3,0h0m3,0h0m3,0h0m3,0h0m3,0h0m3,0h0m3,0h0m3,0h0m3,0h0m3,0h0M328.5,256.5h0m3,0h0m3,0h0m3,0h0m3,0h0m3,0h0m3,0h0m3,0h0m3,0h0m3,0h0m3,0h0m3,0h0m3,0h0m3,0h0m3,0h0m3,0h0m3,0h0m3,0h0m3,0h0M325.5,259.5h0m3,0h0m3,0h0m3,0h0m3,0h0m3,0h0m3,0h0m3,0h0m3,0h0m3,0h0m3,0h0m3,0h0m3,0h0m3,0h0m3,0h0m3,0h0m3,0h0m3,0h0M319.5,262.5h0m3,0h0m3,0h0m3,0h0m3,0h0m3,0h0m3,0h0m3,0h0m3,0h0m3,0h0m3,0h0m3,0h0m3,0h0m3,0h0m3,0h0m3,0h0m3,0h0m3,0h0m3,0h0M316.5,265.5h0m3,0h0m3,0h0m3,0h0m3,0h0m3,0h0m3,0h0m3,0h0m3,0h0m3,0h0m3,0h0m3,0h0m3,0h0m3,0h0m3,0h0m3,0h0m3,0h0m3,0h0M310.5,268.5h0m3,0h0m3,0h0m3,0h0m3,0h0m3,0h0m3,0h0m3,0h0m3,0h0m3,0h0m3,0h0m3,0h0m3,0h0m3,0h0m3,0h0m3,0h0m3,0h0m3,0h0m3,0h0M307.5,271.5h0m3,0h0m3,0h0m3,0h0m3,0h0m3,0h0m3,0h0m3,0h0m3,0h0m3,0h0m3,0h0m3,0h0m3,0h0m3,0h0m3,0h0m3,0h0m3,0h0m3,0h0M301.5,274.5h0m3,0h0m3,0h0m3,0h0m3,0h0m3,0h0m3,0h0m3,0h0m3,0h0m3,0h0m3,0h0m3,0h0m3,0h0m3,0h0m3,0h0m3,0h0m3,0h0m3,0h0m3,0h0M301.5,277.5h0m3,0h0m3,0h0m3,0h0m3,0h0m3,0h0m3,0h0m3,0h0m3,0h0m3,0h0m3,0h0m3,0h0m3,0h0m3,0h0m3,0h0m3,0h0m3,0h0m3,0h0M304.5,280.5h0m3,0h0m3,0h0m3,0h0m3,0h0m3,0h0m3,0h0m3,0h0m3,0h0m3,0h0m3,0h0m3,0h0m3,0h0m3,0h0m3,0h0M304.5,283.5h0m3,0h0m3,0h0m3,0h0m3,0h0m3,0h0m3,0h0m3,0h0m3,0h0m3,0h0m3,0h0m3,0h0m3,0h0m3,0h0M307.5,286.5h0m3,0h0m3,0h0m3,0h0m3,0h0m3,0h0m3,0h0m3,0h0m3,0h0m3,0h0m3,0h0M307.5,289.5h0m3,0h0m3,0h0m3,0h0m3,0h0m3,0h0m3,0h0m3,0h0m3,0h0m3,0h0M307.5,292.5h0m3,0h0m3,0h0m3,0h0m3,0h0m3,0h0m3,0h0m3,0h0m3,0h0m3,0h0M310.5,295.5h0m3,0h0m3,0h0m3,0h0m3,0h0m3,0h0m3,0h0m3,0h0m3,0h0M310.5,298.5h0m3,0h0m3,0h0m3,0h0m3,0h0m3,0h0m3,0h0m3,0h0m3,0h0M310.5,301.5h0m3,0h0m3,0h0m3,0h0m3,0h0m3,0h0m3,0h0m3,0h0m3,0h0M313.5,304.5h0m3,0h0m3,0h0m3,0h0m3,0h0m3,0h0m3,0h0m3,0h0M313.5,307.5h0m3,0h0m3,0h0m3,0h0m3,0h0m3,0h0m3,0h0m3,0h0M313.5,310.5h0m3,0h0m3,0h0m3,0h0m3,0h0m3,0h0m3,0h0m3,0h0"/><path stroke="#0000d4" d="M430.5,226.5h0M427.5,229.5h0m3,0h0M421.5,232.5h0m3,0h0m3,0h0m3,0h0M418.5,235.5h0m3,0h0m3,0h0m3,0h0m3,0h0M412.5,238.5h0m3,0h0m3,0h0m3,0h0m3,0h0m3,0h0m3,0h0M406.5,241.5h0m3,0h0m3,0h0m3,0h0m3,0h0m3,0h0m3,0h0m3,0h0m3,0h0M403.5,244.5h0m3,0h0m3,0h0m3,0h0m3,0h0m3,0h0m3,0h0m3,0h0m3,0h0m3,0h0M397.5,247.5h0m3,0h0m3,0h0m3,0h0m3,0h0m3,0h0m3,0h0m3,0h0m3,0h0m3,0h0m3,0h0m3,0h0M394.5,250.5h0m3,0h0m3,0h0m3,0h0m3,0h0m3,0h0m3,0h0m3,0h0m3,0h0m3,0h0m3,0h0m3,0h0m3,0h0M388.5,253.5h0m3,0h0m3,0h0m3,0h0m3,0h0m3,0h0m3,0h0m3,0h0m3,0h0m3,0h0m3,0h0m3,0h0m3,0h0m3,0h0m3,0h0M385.5,256.5h0m3,0h0m3,0h0m3,0h0m3,0h0m3,0h0m3,0h0m3,0h0m3,0h0m3,0h0m3,0h0m3,0h0m3,0h0m3,0h0m3,0h0m3,0h0M379.5,259.5h0m3,0h0m3,0h0m3,0h0m3,0h0m3,0h0m3,0h0m3,0h0m3,0h0m3,0h0m3,0h0m3,0h0m3,0h0m3,0h0m3,0h0m3,0h0m3,0h0m3,0h0M376.5,262.5h0m3,0h0m3,0h0m3,0h0m3,0h0m3,0h0m3,0h0m3,0h0m3,0h0m3,0h0m3,0h0m3,0h0m3,0h0m3,0h0m3,0h0m3,0h0m3,0h0m3,0h0m3,0h0M370.5,265.5h0m3,0h0m3,0h0m3,0h0m3,0h0m3,0h0m3,0h0m3,0h0m3,0h0m3,0h0m3,0h0m3,0h0m3,0h0m3,0h0m3,0h0m3,0h0m3,0h0m3,0h0m3,0h0M367.5,268.5h0m3,0h0m3,0h0m3,0h0m3,0h0m3,0h0m3,0h0m3,0h0m3,0h0m3,0h0m3,0h0m3,0h0m3,0h0m3,0h0m3,0h0m3,0h0m3,0h0m3,0h0M361.5,271.5h0m3,0h0m3,0h0m3,0h0m3,0h0m3,0h0m3,0h0m3,0h0m3,0h0m3,0h0m3,0h0m3,0h0m3,0h0m3,0h0m3,0h0m3,0h0m3,0h0m3,0h0m3,0h0M358.5,274.5h0m3,0h0m3,0h0m3,0h0m3,0h0m3,0h0m3,0h0m3,0h0m3,0h0m3,0h0m3,0h0m3,0h0m3,0h0m3,0h0m3,0h0m3,0h0m3,0h0m3,0h0m3,0h0M355.5,277.5h0m3,0h0m3,0h0m3,0h0m3,0h0m3,0h0m3,0h0m3,0h0m3,0h0m3,0h0m3,0h0m3,0h0m3,0h0m3,0h0m3,0h0m3,0h0m3,0h0m3,0h0M349.5,280.5h0m3,0h0m3,0h0m3,0h0m3,0h0m3,0h0m3,0h0m3,0h0m3,0h0m3,0h0m3,0h0m3,0h0m3,0h0m3,0h0m3,0h0m3,0h0m3,0h0m3,0h0m3,0h0M346.5,283.5h0m3,0h0m3,0h0m3,0h0m3,0h0m3,0h0m3,0h0m3,0h0m3,0h0m3,0h0m3,0h0m3,0h0m3,0h0m3,0h0m3,0h0m3,0h0m3,0h0m3,0h0M340.5,286.5h0m3,0h0m3,0h0m3,0h0m3,0h0m3,0h0m3,0h0m3,0h0m3,0h0m3,0h0m3,0h0m3,0h0m3,0h0m3,0h0m3,0h0m3,0h0m3,0h0m3,0h0m3,0h0M337.5,289.5h0m3,0h0m3,0h0m3,0h0m3,0h0m3,0h0m3,0h0m3,0h0m3,0h0m3,0h0m3,0h0m3,0h0m3,0h0m3,0h0m3,0h0m3,0h0m3,0h0m3,0h0M337.5,292.5h0m3,0h0m3,0h0m3,0h0m3,0h0m3,0h0m3,0h0m3,0h0m3,0h0m3,0h0m3,0h0m3,0h0m3,0h0m3,0h0m3,0h0m3,0h0m3,0h0m3,0h0M337.5,295.5h0m3,0h0m3,0h0m3,0h0m3,0h0m3,0h0m3,0h0m3,0h0m3,0h0m3,0h0m3,0h0m3,0h0m3,0h0m3,0h0m3,0h0m3,0h0m3,0h0m3,0h0M337.5,298.5h0m3,0h0m3,0h0m3,0h0m3,0h0m3,0h0m3,0h0m3,0h0m3,0h0m3,0h0m3,0h0m3,0h0m3,0h0m3,0h0m3,0h0m3,0h0m3,0h0m3,0h0M337.5,301.5h0m3,0h0m3,0h0m3,0h0m3,0h0m3,0h0m3,0h0m3,0h0m3,0h0m3,0h0m3,0h0m3,0h0m3,0h0m3,0h0m3,0h0m3,0h0m3,0h0m3,0h0M337.5,304.5h0m3,0h0m3,0h0m3,0h0m3,0h0m3,0h0m3,0h0m3,0h0m3,0h0m3,0h0m3,0h0m3,0h0m3,0h0m3,0h0m3,0h0m3,0h0m3,0h0m3,0h0M337.5,307.5h0m3,0h0m3,0h0m3,0h0m3,0h0m3,0h0m3,0h0m3,0h0m3,0h0m3,0h0m3,0h0m3,0h0m3,0h0m3,0h0m3,0h0m3,0h0m3,0h0m3,0h0M337.5,310.5h0m3,0h0m3,0h0m3,0h0m3,0h0m3,0h0m3,0h0m3,0h0m3,0h0m3,0h0m3,0h0m3,0h0m3,0h0m3,0h0m3,0h0m3,0h0m3,0h0m3,0h0"/><path stroke="#0000df" d="M427.5,265.5h0m3,0h0M421.5,268.5h0m3,0h0m3,0h0m3,0h0M418.5,271.5h0m3,0h0m3,0h0m3,0h0m3,0h0M415.5,274.5h0m3,0h0m3,0h0m3,0h0m3,0h0m3,0h0M409.5,277.5h0m3,0h0m3,0h0m3,0h0m3,0h0m3,0h0m3,0h0m3,0h0M406.5,280.5h0m3,0h0m3,0h0m3,0h0m3,0h0m3,0h0m3,0h0m3,0h0m3,0h0M400.5,283.5h0m3,0h0m3,0h0m3,0h0m3,0h0m3,0h0m3,0h0m3,0h0m3,0h0m3,0h0m3,0h0M397.5,286.5h0m3,0h0m3,0h0m3,0h0m3,0h0m3,0h0m3,0h0m3,0h0m3,0h0m3,0h0m3,0h0m3,0h0M391.5,289.5h0m3,0h0m3,0h0m3,0h0m3,0h0m3,0h0m3,0h0m3,0h0m3,0h0m3,0h0m3,0h0m3,0h0m3,0h0m3,0h0M391.5,292.5h0m3,0h0m3,0h0m3,0h0m3,0h0m3,0h0m3,0h0m3,0h0m3,0h0m3,0h0m3,0h0m3,0h0m3,0h0m3,0h0M391.5,295.5h0m3,0h0m3,0h0m3,0h0m3,0h0m3,0h0m3,0h0m3,0h0m3,0h0m3,0h0m3,0h0m3,0h0m3,0h0m3,0h0M391.5,298.5h0m3,0h0m3,0h0m3,0h0m3,0h0m3,0h0m3,0h0m3,0h0m3,0h0m3,0h0m3,0h0m3,0h0m3,0h0m3,0h0M391.5,301.5h0m3,0h0m3,0h0m3,0h0m3,0h0m3,0h0m3,0h0m3,0h0m3,0h0m3,0h0m3,0h0m3,0h0m3,0h0m3,0h0M391.5,304.5h0m3,0h0m3,0h0m3,0h0m3,0h0m3,0h0m3,0h0m3,0h0m3,0h0m3,0h0m3,0h0m3,0h0m3,0h0m3,0h0M391.5,307.5h0m3,0h0m3,0h0m3,0h0m3,0h0m3,0h0m3,0h0m3,0h0m3,0h0m3,0h0m3,0h0m3,0h0m3,0h0m3,0h0M391.5,310.5h0m3,0h0m3,0h0m3,0h0m3,0h0m3,0h0m3,0h0m3,0h0m3,0h0m3,0h0m3,0h0m3,0h0m3,0h0m3,0h0"/><path d="M427.8,178h6v22.5h-6z" fill="#fff" stroke="none"/><path d="M429.4,177.5V201" stroke="#000" stroke-width="1" stroke-linecap="butt"/></g>
<use href="#st"/>
</g>
<text class="b t" x="241.9" y="76.8" text-anchor="end">100</text><text class="b r" x="245.3" y="65.8" text-anchor="middle">o</text><text class="b t" x="252.5" y="76.8">W</text>
<text class="b t" x="303.0" y="76.8" text-anchor="end">90</text><text class="b r" x="306.3" y="65.8" text-anchor="middle">o</text><text class="b t" x="313.5" y="76.8">W</text>
<text class="b t" x="366.4" y="76.8" text-anchor="end">80</text><text class="b r" x="369.8" y="65.8" text-anchor="middle">o</text><text class="b t" x="377.0" y="76.8">W</text>
<text class="b t" x="429.4" y="76.8" text-anchor="end">70</text><text class="b r" x="432.7" y="65.8" text-anchor="middle">o</text><text class="b t" x="439.9" y="76.8">W</text>
<text class="b t" x="163.5" y="314.7" text-anchor="end">22</text>
<text class="b r" x="167.9" y="303.4" text-anchor="middle">o</text>
<text class="b t" x="174.9" y="314.7">N</text>
<text class="b t" x="163.5" y="302.0" text-anchor="end">24</text>
<text class="b r" x="167.9" y="290.7" text-anchor="middle">o</text>
<text class="b t" x="174.9" y="302.0">N</text>
<text class="b t" x="163.5" y="288.1" text-anchor="end">26</text>
<text class="b r" x="167.9" y="276.8" text-anchor="middle">o</text>
<text class="b t" x="174.9" y="288.1">N</text>
<text class="b t" x="163.5" y="274.0" text-anchor="end">28</text>
<text class="b r" x="167.9" y="262.7" text-anchor="middle">o</text>
<text class="b t" x="174.9" y="274.0">N</text>
<text class="b t" x="163.5" y="259.7" text-anchor="end">30</text>
<text class="b r" x="167.9" y="248.4" text-anchor="middle">o</text>
<text class="b t" x="174.9" y="259.7">N</text>
<text class="b t" x="163.5" y="245.0" text-anchor="end">32</text>
<text class="b r" x="167.9" y="233.7" text-anchor="middle">o</text>
<text class="b t" x="174.9" y="245.0">N</text>
<text class="b t" x="163.5" y="230.1" text-anchor="end">34</text>
<text class="b r" x="167.9" y="218.8" text-anchor="middle">o</text>
<text class="b t" x="174.9" y="230.1">N</text>
<text class="b t" x="163.5" y="214.7" text-anchor="end">36</text>
<text class="b r" x="167.9" y="203.4" text-anchor="middle">o</text>
<text class="b t" x="174.9" y="214.7">N</text>
<text class="b t" x="163.5" y="199.0" text-anchor="end">38</text>
<text class="b r" x="167.9" y="187.7" text-anchor="middle">o</text>
<text class="b t" x="174.9" y="199.0">N</text>
<text class="b t" x="163.5" y="182.9" text-anchor="end">40</text>
<text class="b r" x="167.9" y="171.6" text-anchor="middle">o</text>
<text class="b t" x="174.9" y="182.9">N</text>
<text class="b t" x="163.5" y="166.2" text-anchor="end">42</text>
<text class="b r" x="167.9" y="154.9" text-anchor="middle">o</text>
<text class="b t" x="174.9" y="166.2">N</text>
<text class="b t" x="163.5" y="149.0" text-anchor="end">44</text>
<text class="b r" x="167.9" y="137.7" text-anchor="middle">o</text>
<text class="b t" x="174.9" y="149.0">N</text>
<text class="b t" x="163.5" y="131.3" text-anchor="end">46</text>
<text class="b r" x="167.9" y="120.0" text-anchor="middle">o</text>
<text class="b t" x="174.9" y="131.3">N</text>
<text class="b t" x="163.5" y="112.9" text-anchor="end">48</text>
<text class="b r" x="167.9" y="101.6" text-anchor="middle">o</text>
<text class="b t" x="174.9" y="112.9">N</text>
<rect x="441.6" y="95.5" width="23" height="214.4" fill="url(#jet)" stroke="#000" stroke-width="1"/>
<path d="M464.6,203.2h-2.6" stroke="#111" stroke-width="1"/>
<text class="b c" x="473.2" y="102.3">100</text>
<text class="b c" x="473.2" y="209.8">50</text>
<text class="b c" x="473.2" y="317.6">0</text>
<text class="b l" x="139.6" y="340.8">SAT 150 hPa RH (Percent)</text>
</g>
<g transform="translate(420.70,0.00)">
<g transform="translate(196.40,96.90) scale(1,1) translate(-196.40,-96.90)">
<rect x="196.4" y="96.9" width="233.0" height="212.2" fill="#fff" stroke="#000" stroke-width="1"/>
<g clip-path="url(#sw)" fill="none" stroke-width="4.6" stroke-linecap="round"><path stroke="#000095" d="M316.5,115.5h0m3,0h0m3,0h0M307.5,118.5h0m3,0h0m3,0h0m3,0h0m3,0h0m3,0h0M298.5,121.5h0m3,0h0m3,0h0m3,0h0m3,0h0m3,0h0m3,0h0m3,0h0m3,0h0M289.5,124.5h0m3,0h0m3,0h0m3,0h0m3,0h0m3,0h0m3,0h0m3,0h0m3,0h0m3,0h0m3,0h0m3,0h0M283.5,127.5h0m3,0h0m3,0h0m3,0h0m3,0h0m3,0h0m3,0h0m3,0h0m3,0h0m3,0h0m3,0h0m3,0h0m3,0h0m3,0h0M277.5,130.5h0m3,0h0m3,0h0m3,0h0m3,0h0m3,0h0m3,0h0m3,0h0m3,0h0m3,0h0m3,0h0m3,0h0m3,0h0m3,0h0m3,0h0m3,0h0M268.5,133.5h0m3,0h0m3,0h0m3,0h0m3,0h0m3,0h0m3,0h0m3,0h0m3,0h0m3,0h0m3,0h0m3,0h0m3,0h0m3,0h0m3,0h0m3,0h0m3,0h0m3,0h0m3,0h0M265.5,136.5h0m3,0h0m3,0h0m3,0h0m3,0h0m3,0h0m3,0h0m3,0h0m3,0h0m3,0h0m3,0h0m3,0h0m3,0h0m3,0h0m3,0h0m3,0h0m3,0h0m3,0h0m3,0h0m3,0h0M259.5,139.5h0m3,0h0m3,0h0m3,0h0m3,0h0m3,0h0m3,0h0m3,0h0m3,0h0m3,0h0m3,0h0m3,0h0m3,0h0m3,0h0m3,0h0m3,0h0m3,0h0m3,0h0m3,0h0m3,0h0m3,0h0m3,0h0M253.5,142.5h0m3,0h0m3,0h0m3,0h0m3,0h0m3,0h0m3,0h0m3,0h0m3,0h0m3,0h0m3,0h0m3,0h0m3,0h0m3,0h0m3,0h0m3,0h0m3,0h0m3,0h0m3,0h0m3,0h0m3,0h0M253.5,145.5h0m3,0h0m3,0h0m3,0h0m3,0h0m3,0h0m3,0h0m3,0h0m3,0h0m3,0h0m3,0h0m3,0h0m3,0h0m3,0h0m3,0h0m3,0h0m3,0h0M256.5,148.5h0m3,0h0m3,0h0m3,0h0m3,0h0m3,0h0m3,0h0m3,0h0m3,0h0m3,0h0m3,0h0m3,0h0M256.5,151.5h0m3,0h0m3,0h0m3,0h0m3,0h0m3,0h0m3,0h0m3,0h0"/><path stroke="#00009f" d="M415.5,91.5h0m3,0h0m3,0h0m3,0h0m3,0h0m3,0h0M397.5,94.5h0m3,0h0m3,0h0m3,0h0m3,0h0m3,0h0m3,0h0m3,0h0m3,0h0m3,0h0m3,0h0m3,0h0M382.5,97.5h0m3,0h0m3,0h0m3,0h0m3,0h0m3,0h0m3,0h0m3,0h0m3,0h0m3,0h0m3,0h0m3,0h0m3,0h0m3,0h0m3,0h0m3,0h0m3,0h0M370.5,100.5h0m3,0h0m3,0h0m3,0h0m3,0h0m3,0h0m3,0h0m3,0h0m3,0h0m3,0h0m3,0h0m3,0h0m3,0h0m3,0h0m3,0h0m3,0h0m3,0h0m3,0h0m3,0h0m3,0h0m3,0h0M358.5,103.5h0m3,0h0m3,0h0m3,0h0m3,0h0m3,0h0m3,0h0m3,0h0m3,0h0m3,0h0m3,0h0m3,0h0m3,0h0m3,0h0m3,0h0m3,0h0m3,0h0m3,0h0m3,0h0m3,0h0m3,0h0m3,0h0m3,0h0m3,0h0m3,0h0M346.5,106.5h0m3,0h0m3,0h0m3,0h0m3,0h0m3,0h0m3,0h0m3,0h0m3,0h0m3,0h0m3,0h0m3,0h0m3,0h0m3,0h0m3,0h0m3,0h0m3,0h0m3,0h0m3,0h0m3,0h0m3,0h0m3,0h0m3,0h0m3,0h0m3,0h0m3,0h0m3,0h0m3,0h0m3,0h0M337.5,109.5h0m3,0h0m3,0h0m3,0h0m3,0h0m3,0h0m3,0h0m3,0h0m3,0h0m3,0h0m3,0h0m3,0h0m3,0h0m3,0h0m3,0h0m3,0h0m3,0h0m3,0h0m3,0h0m3,0h0m3,0h0m3,0h0m3,0h0m3,0h0m3,0h0m3,0h0m3,0h0m3,0h0m3,0h0m3,0h0m3,0h0m3,0h0M325.5,112.5h0m3,0h0m3,0h0m3,0h0m3,0h0m3,0h0m3,0h0m3,0h0m3,0h0m3,0h0m3,0h0m3,0h0m3,0h0m3,0h0m3,0h0m3,0h0m3,0h0m3,0h0m3,0h0m3,0h0m3,0h0m3,0h0m3,0h0m3,0h0m3,0h0m3,0h0m3,0h0m3,0h0m3,0h0m3,0h0m3,0h0m3,0h0m3,0h0m3,0h0m3,0h0m3,0h0M325.5,115.5h0m3,0h0m3,0h0m3,0h0m3,0h0m3,0h0m3,0h0m3,0h0m3,0h0m3,0h0m3,0h0m3,0h0m3,0h0m3,0h0m3,0h0m3,0h0m3,0h0m3,0h0m3,0h0m3,0h0m3,0h0m3,0h0m3,0h0m3,0h0m3,0h0m3,0h0m3,0h0m3,0h0m3,0h0m3,0h0m3,0h0m3,0h0m3,0h0m3,0h0m3,0h0m3,0h0M325.5,118.5h0m3,0h0m3,0h0m3,0h0m3,0h0m3,0h0m3,0h0m3,0h0m3,0h0m3,0h0m3,0h0m3,0h0m3,0h0m3,0h0m3,0h0m3,0h0m3,0h0m3,0h0m3,0h0m3,0h0m3,0h0m3,0h0m3,0h0m3,0h0m3,0h0m3,0h0m3,0h0m3,0h0m3,0h0m3,0h0m3,0h0m3,0h0m3,0h0m3,0h0m3,0h0m3,0h0M325.5,121.5h0m3,0h0m3,0h0m3,0h0m3,0h0m3,0h0m3,0h0m3,0h0m3,0h0m3,0h0m3,0h0m3,0h0m3,0h0m3,0h0m3,0h0m3,0h0m3,0h0m3,0h0m3,0h0m3,0h0m3,0h0m3,0h0m3,0h0m3,0h0m3,0h0m3,0h0m3,0h0m3,0h0m3,0h0m3,0h0m3,0h0m3,0h0m3,0h0m3,0h0m3,0h0m3,0h0M325.5,124.5h0m3,0h0m3,0h0m3,0h0m3,0h0m3,0h0m3,0h0m3,0h0m3,0h0m3,0h0m3,0h0m3,0h0m3,0h0m3,0h0m3,0h0m3,0h0m3,0h0m3,0h0m3,0h0m3,0h0m3,0h0m3,0h0m3,0h0m3,0h0m3,0h0m3,0h0m3,0h0m3,0h0m3,0h0m3,0h0m3,0h0m3,0h0m3,0h0m3,0h0m3,0h0m3,0h0M325.5,127.5h0m3,0h0m3,0h0m3,0h0m3,0h0m3,0h0m3,0h0m3,0h0m3,0h0m3,0h0m3,0h0m3,0h0m3,0h0m3,0h0m3,0h0m3,0h0m3,0h0m3,0h0m3,0h0m3,0h0m3,0h0m3,0h0m3,0h0m3,0h0m3,0h0m3,0h0m3,0h0m3,0h0m3,0h0m3,0h0m3,0h0m3,0h0m3,0h0m3,0h0m3,0h0m3,0h0M325.5,130.5h0m3,0h0m3,0h0m3,0h0m3,0h0m3,0h0m3,0h0m3,0h0m3,0h0m3,0h0m3,0h0m3,0h0m3,0h0m3,0h0m3,0h0m3,0h0m3,0h0m3,0h0m3,0h0m3,0h0m3,0h0m3,0h0m3,0h0m3,0h0m3,0h0m3,0h0m3,0h0m3,0h0m3,0h0m3,0h0m3,0h0m3,0h0m3,0h0m3,0h0m3,0h0m3,0h0M325.5,133.5h0m3,0h0m3,0h0m3,0h0m3,0h0m3,0h0m3,0h0m3,0h0m3,0h0m3,0h0m3,0h0m3,0h0m3,0h0m3,0h0m3,0h0m3,0h0m3,0h0m3,0h0m3,0h0m3,0h0m3,0h0m3,0h0m3,0h0m3,0h0m3,0h0m3,0h0m3,0h0m3,0h0m3,0h0m3,0h0m3,0h0m3,0h0m3,0h0m3,0h0m3,0h0m3,0h0M325.5,136.5h0m3,0h0m3,0h0m3,0h0m3,0h0m3,0h0m3,0h0m3,0h0m3,0h0m3,0h0m3,0h0m3,0h0m3,0h0m3,0h0m3,0h0m3,0h0m3,0h0m3,0h0m3,0h0m3,0h0m3,0h0m3,0h0m3,0h0m3,0h0m3,0h0m3,0h0m3,0h0m3,0h0m3,0h0m3,0h0m3,0h0m3,0h0m3,0h0m3,0h0m3,0h0m3,0h0M325.5,139.5h0m3,0h0m3,0h0m3,0h0m3,0h0m3,0h0m3,0h0m3,0h0m3,0h0m3,0h0m3,0h0m3,0h0m3,0h0m3,0h0m3,0h0m3,0h0m3,0h0m3,0h0m3,0h0m3,0h0m3,0h0m3,0h0m3,0h0m3,0h0m3,0h0m3,0h0m3,0h0m3,0h0m3,0h0m3,0h0m3,0h0m3,0h0m3,0h0m3,0h0m3,0h0m3,0h0M316.5,142.5h0m3,0h0m3,0h0m3,0h0m3,0h0m3,0h0m3,0h0m3,0h0m3,0h0m3,0h0m3,0h0m3,0h0m3,0h0m3,0h0m3,0h0m3,0h0m3,0h0m3,0h0m3,0h0m3,0h0m3,0h0m3,0h0m3,0h0m3,0h0m3,0h0m3,0h0m3,0h0m3,0h0m3,0h0m3,0h0m3,0h0m3,0h0m3,0h0m3,0h0m3,0h0m3,0h0m3,0h0m3,0h0m3,0h0M304.5,145.5h0m3,0h0m3,0h0m3,0h0m3,0h0m3,0h0m3,0h0m3,0h0m3,0h0m3,0h0m3,0h0m3,0h0m3,0h0m3,0h0m3,0h0m3,0h0m3,0h0m3,0h0m3,0h0m3,0h0m3,0h0m3,0h0m3,0h0m3,0h0m3,0h0m3,0h0m3,0h0m3,0h0m3,0h0m3,0h0m3,0h0m3,0h0m3,0h0m3,0h0m3,0h0m3,0h0M292.5,148.5h0m3,0h0m3,0h0m3,0h0m3,0h0m3,0h0m3,0h0m3,0h0m3,0h0m3,0h0m3,0h0m3,0h0m3,0h0m3,0h0m3,0h0m3,0h0m3,0h0m3,0h0m3,0h0m3,0h0m3,0h0m3,0h0m3,0h0m3,0h0m3,0h0m3,0h0m3,0h0m3,0h0m3,0h0m3,0h0m3,0h0m3,0h0m3,0h0m3,0h0m3,0h0m3,0h0m3,0h0M280.5,151.5h0m3,0h0m3,0h0m3,0h0m3,0h0m3,0h0m3,0h0m3,0h0m3,0h0m3,0h0m3,0h0m3,0h0m3,0h0m3,0h0m3,0h0m3,0h0m3,0h0m3,0h0m3,0h0m3,0h0m3,0h0m3,0h0m3,0h0m3,0h0m3,0h0m3,0h0m3,0h0m3,0h0m3,0h0m3,0h0m3,0h0m3,0h0m3,0h0m3,0h0m3,0h0m3,0h0m3,0h0m3,0h0m3,0h0m3,0h0M256.5,154.5h0m3,0h0m3,0h0m3,0h0m3,0h0m3,0h0m3,0h0m3,0h0m3,0h0m3,0h0m3,0h0m3,0h0m3,0h0m3,0h0m3,0h0m3,0h0m3,0h0m3,0h0m3,0h0m3,0h0m3,0h0m3,0h0m3,0h0m3,0h0m3,0h0m3,0h0m3,0h0m3,0h0m3,0h0m3,0h0m3,0h0m3,0h0m3,0h0m3,0h0m3,0h0m3,0h0m3,0h0m3,0h0m3,0h0m3,0h0m3,0h0m3,0h0m3,0h0m3,0h0m3,0h0m3,0h0M259.5,157.5h0m3,0h0m3,0h0m3,0h0m3,0h0m3,0h0m3,0h0m3,0h0m3,0h0m3,0h0m3,0h0m3,0h0m3,0h0m3,0h0m3,0h0m3,0h0m3,0h0m3,0h0m3,0h0m3,0h0m3,0h0m3,0h0m3,0h0m3,0h0m3,0h0m3,0h0m3,0h0m3,0h0m3,0h0m3,0h0m3,0h0m3,0h0m3,0h0m3,0h0m3,0h0m3,0h0m3,0h0m3,0h0m3,0h0m3,0h0m3,0h0m3,0h0m3,0h0M259.5,160.5h0m3,0h0m3,0h0m3,0h0m3,0h0m3,0h0m3,0h0m3,0h0m3,0h0m3,0h0m3,0h0m3,0h0m3,0h0m3,0h0m3,0h0m3,0h0m3,0h0m3,0h0m3,0h0m3,0h0m3,0h0m3,0h0m3,0h0m3,0h0m3,0h0m3,0h0m3,0h0m3,0h0m3,0h0m3,0h0m3,0h0m3,0h0m3,0h0m3,0h0m3,0h0m3,0h0m3,0h0m3,0h0m3,0h0m3,0h0M262.5,163.5h0m3,0h0m3,0h0m3,0h0m3,0h0m3,0h0m3,0h0m3,0h0m3,0h0m3,0h0m3,0h0m3,0h0m3,0h0m3,0h0m3,0h0m3,0h0m3,0h0m3,0h0m3,0h0m3,0h0m3,0h0m3,0h0m3,0h0m3,0h0m3,0h0m3,0h0m3,0h0m3,0h0m3,0h0m3,0h0m3,0h0m3,0h0m3,0h0m3,0h0m3,0h0m3,0h0M262.5,166.5h0m3,0h0m3,0h0m3,0h0m3,0h0m3,0h0m3,0h0m3,0h0m3,0h0m3,0h0m3,0h0m3,0h0m3,0h0m3,0h0m3,0h0m3,0h0m3,0h0m3,0h0m3,0h0m3,0h0m3,0h0m3,0h0m3,0h0m3,0h0m3,0h0m3,0h0m3,0h0m3,0h0m3,0h0m3,0h0m3,0h0m3,0h0M262.5,169.5h0m3,0h0m3,0h0m3,0h0m3,0h0m3,0h0m3,0h0m3,0h0m3,0h0m3,0h0m3,0h0m3,0h0m3,0h0m3,0h0m3,0h0m3,0h0m3,0h0m3,0h0m3,0h0m3,0h0m3,0h0m3,0h0m3,0h0m3,0h0m3,0h0m3,0h0m3,0h0m3,0h0M265.5,172.5h0m3,0h0m3,0h0m3,0h0m3,0h0m3,0h0m3,0h0m3,0h0m3,0h0m3,0h0m3,0h0m3,0h0m3,0h0m3,0h0m3,0h0m3,0h0m3,0h0m3,0h0m3,0h0m3,0h0m3,0h0m3,0h0m3,0h0M265.5,175.5h0m3,0h0m3,0h0m3,0h0m3,0h0m3,0h0m3,0h0m3,0h0m3,0h0m3,0h0m3,0h0m3,0h0m3,0h0m3,0h0m3,0h0m3,0h0m3,0h0m3,0h0m3,0h0M265.5,178.5h0m3,0h0m3,0h0m3,0h0m3,0h0m3,0h0m3,0h0m3,0h0m3,0h0m3,0h0m3,0h0m3,0h0m3,0h0m3,0h0m3,0h0M268.5,181.5h0m3,0h0m3,0h0m3,0h0m3,0h0m3,0h0m3,0h0m3,0h0m3,0h0m3,0h0M268.5,184.5h0m3,0h0m3,0h0m3,0h0m3,0h0m3,0h0M268.5,187.5h0m3,0h0"/><path stroke="#0000aa" d="M412.5,145.5h0m3,0h0m3,0h0m3,0h0m3,0h0m3,0h0m3,0h0M403.5,148.5h0m3,0h0m3,0h0m3,0h0m3,0h0m3,0h0m3,0h0m3,0h0m3,0h0m3,0h0M400.5,151.5h0m3,0h0m3,0h0m3,0h0m3,0h0m3,0h0m3,0h0m3,0h0m3,0h0m3,0h0m3,0h0M394.5,154.5h0m3,0h0m3,0h0m3,0h0m3,0h0m3,0h0m3,0h0m3,0h0m3,0h0m3,0h0m3,0h0m3,0h0m3,0h0M388.5,157.5h0m3,0h0m3,0h0m3,0h0m3,0h0m3,0h0m3,0h0m3,0h0m3,0h0m3,0h0m3,0h0m3,0h0m3,0h0m3,0h0m3,0h0M379.5,160.5h0m3,0h0m3,0h0m3,0h0m3,0h0m3,0h0m3,0h0m3,0h0m3,0h0m3,0h0m3,0h0m3,0h0m3,0h0m3,0h0m3,0h0m3,0h0m3,0h0m3,0h0M370.5,163.5h0m3,0h0m3,0h0m3,0h0m3,0h0m3,0h0m3,0h0m3,0h0m3,0h0m3,0h0m3,0h0m3,0h0m3,0h0M358.5,166.5h0m3,0h0m3,0h0m3,0h0m3,0h0m3,0h0m3,0h0m3,0h0m3,0h0m3,0h0m3,0h0m3,0h0m3,0h0m3,0h0m3,0h0m3,0h0M346.5,169.5h0m3,0h0m3,0h0m3,0h0m3,0h0m3,0h0m3,0h0m3,0h0m3,0h0m3,0h0m3,0h0m3,0h0m3,0h0m3,0h0m3,0h0m3,0h0m3,0h0m3,0h0m3,0h0M334.5,172.5h0m3,0h0m3,0h0m3,0h0m3,0h0m3,0h0m3,0h0m3,0h0m3,0h0m3,0h0m3,0h0m3,0h0m3,0h0m3,0h0m3,0h0m3,0h0m3,0h0m3,0h0m3,0h0m3,0h0m3,0h0m3,0h0M322.5,175.5h0m3,0h0m3,0h0m3,0h0m3,0h0m3,0h0m3,0h0m3,0h0m3,0h0m3,0h0m3,0h0m3,0h0m3,0h0m3,0h0m3,0h0m3,0h0m3,0h0m3,0h0m3,0h0m3,0h0m3,0h0m3,0h0m3,0h0m3,0h0m3,0h0M310.5,178.5h0m3,0h0m3,0h0m3,0h0m3,0h0m3,0h0m3,0h0m3,0h0m3,0h0m3,0h0m3,0h0m3,0h0m3,0h0m3,0h0m3,0h0m3,0h0m3,0h0m3,0h0m3,0h0m3,0h0m3,0h0m3,0h0m3,0h0m3,0h0m3,0h0m3,0h0m3,0h0m3,0h0M298.5,181.5h0m3,0h0m3,0h0m3,0h0m3,0h0m3,0h0m3,0h0m3,0h0m3,0h0m3,0h0m3,0h0m3,0h0m3,0h0m3,0h0m3,0h0m3,0h0m3,0h0m3,0h0m3,0h0m3,0h0m3,0h0m3,0h0m3,0h0m3,0h0m3,0h0m3,0h0m3,0h0m3,0h0m3,0h0m3,0h0m3,0h0M286.5,184.5h0m3,0h0m3,0h0m3,0h0m3,0h0m3,0h0m3,0h0m3,0h0m3,0h0m3,0h0m3,0h0m3,0h0m3,0h0m3,0h0m3,0h0m3,0h0m3,0h0m3,0h0m3,0h0m3,0h0m3,0h0m3,0h0m3,0h0m3,0h0m3,0h0m3,0h0m3,0h0m3,0h0m3,0h0m3,0h0m3,0h0m3,0h0m3,0h0m3,0h0M274.5,187.5h0m3,0h0m3,0h0m3,0h0m3,0h0m3,0h0m3,0h0m3,0h0m3,0h0m3,0h0m3,0h0m3,0h0m3,0h0m3,0h0m3,0h0m3,0h0m3,0h0m3,0h0m3,0h0m3,0h0m3,0h0m3,0h0m3,0h0m3,0h0m3,0h0m3,0h0m3,0h0m3,0h0m3,0h0m3,0h0m3,0h0m3,0h0m3,0h0m3,0h0m3,0h0m3,0h0m3,0h0M271.5,190.5h0m3,0h0m3,0h0m3,0h0m3,0h0m3,0h0m3,0h0m3,0h0m3,0h0m3,0h0m3,0h0m3,0h0m3,0h0m3,0h0m3,0h0m3,0h0m3,0h0m3,0h0m3,0h0m3,0h0m3,0h0m3,0h0m3,0h0m3,0h0m3,0h0m3,0h0m3,0h0m3,0h0m3,0h0m3,0h0m3,0h0m3,0h0m3,0h0m3,0h0m3,0h0m3,0h0M271.5,193.5h0m3,0h0m3,0h0m3,0h0m3,0h0m3,0h0m3,0h0m3,0h0m3,0h0m3,0h0m3,0h0m3,0h0m3,0h0m3,0h0m3,0h0m3,0h0m3,0h0m3,0h0m3,0h0m3,0h0m3,0h0m3,0h0m3,0h0m3,0h0m3,0h0m3,0h0m3,0h0m3,0h0m3,0h0m3,0h0m3,0h0m3,0h0m3,0h0m3,0h0M274.5,196.5h0m3,0h0m3,0h0m3,0h0m3,0h0m3,0h0m3,0h0m3,0h0m3,0h0m3,0h0m3,0h0m3,0h0m3,0h0m3,0h0m3,0h0m3,0h0m3,0h0m3,0h0m3,0h0m3,0h0m3,0h0m3,0h0m3,0h0m3,0h0m3,0h0m3,0h0m3,0h0m3,0h0m3,0h0m3,0h0M274.5,199.5h0m3,0h0m3,0h0m3,0h0m3,0h0m3,0h0m3,0h0m3,0h0m3,0h0m3,0h0m3,0h0m3,0h0m3,0h0m3,0h0m3,0h0m3,0h0m3,0h0m3,0h0m3,0h0m3,0h0m3,0h0m3,0h0m3,0h0m3,0h0m3,0h0m3,0h0m3,0h0m3,0h0M274.5,202.5h0m3,0h0m3,0h0m3,0h0m3,0h0m3,0h0m3,0h0m3,0h0m3,0h0m3,0h0m3,0h0m3,0h0m3,0h0m3,0h0m3,0h0m3,0h0m3,0h0m3,0h0m3,0h0m3,0h0m3,0h0m3,0h0m3,0h0m3,0h0m3,0h0M277.5,205.5h0m3,0h0m3,0h0m3,0h0m3,0h0m3,0h0m3,0h0m3,0h0m3,0h0m3,0h0m3,0h0m3,0h0m3,0h0m3,0h0m3,0h0m3,0h0m3,0h0m3,0h0m3,0h0m3,0h0m3,0h0M277.5,208.5h0m3,0h0m3,0h0m3,0h0m3,0h0m3,0h0m3,0h0m3,0h0m3,0h0m3,0h0m3,0h0m3,0h0m3,0h0m3,0h0m3,0h0m3,0h0m3,0h0M277.5,211.5h0m3,0h0m3,0h0m3,0h0m3,0h0m3,0h0m3,0h0m3,0h0m3,0h0m3,0h0m3,0h0m3,0h0m3,0h0M280.5,214.5h0m3,0h0m3,0h0m3,0h0m3,0h0m3,0h0m3,0h0m3,0h0M280.5,217.5h0m3,0h0m3,0h0m3,0h0"/><path stroke="#0000b5" d="M409.5,163.5h0m3,0h0m3,0h0m3,0h0m3,0h0m3,0h0m3,0h0m3,0h0M406.5,166.5h0m3,0h0m3,0h0m3,0h0m3,0h0m3,0h0m3,0h0m3,0h0m3,0h0M403.5,169.5h0m3,0h0m3,0h0m3,0h0m3,0h0m3,0h0m3,0h0m3,0h0m3,0h0m3,0h0M400.5,172.5h0m3,0h0m3,0h0m3,0h0m3,0h0m3,0h0m6,0h0m3,0h0m3,0h0m3,0h0M397.5,175.5h0m3,0h0m3,0h0m3,0h0m3,0h0m21,0h0M394.5,178.5h0m3,0h0m3,0h0m3,0h0M391.5,181.5h0m3,0h0m3,0h0m3,0h0M388.5,184.5h0m3,0h0m3,0h0m3,0h0m3,0h0M385.5,187.5h0m3,0h0m3,0h0m3,0h0m3,0h0M379.5,190.5h0m3,0h0m3,0h0m3,0h0m3,0h0m3,0h0M373.5,193.5h0m3,0h0m3,0h0m3,0h0m3,0h0m3,0h0m3,0h0m3,0h0M364.5,196.5h0m3,0h0m3,0h0m3,0h0m3,0h0m3,0h0m3,0h0m3,0h0m3,0h0m3,0h0M358.5,199.5h0m3,0h0m3,0h0m3,0h0m3,0h0m3,0h0m3,0h0m3,0h0m3,0h0m3,0h0m3,0h0M349.5,202.5h0m3,0h0m3,0h0m3,0h0m3,0h0m3,0h0m3,0h0m3,0h0m3,0h0m3,0h0m3,0h0m3,0h0m3,0h0M340.5,205.5h0m3,0h0m3,0h0m3,0h0m3,0h0m3,0h0m3,0h0m3,0h0m3,0h0m3,0h0m3,0h0m3,0h0m3,0h0m3,0h0m3,0h0M328.5,208.5h0m3,0h0m3,0h0m3,0h0m3,0h0m3,0h0m3,0h0m3,0h0m3,0h0m3,0h0m3,0h0m3,0h0m3,0h0m3,0h0m3,0h0m3,0h0m3,0h0m3,0h0M316.5,211.5h0m3,0h0m3,0h0m3,0h0m3,0h0m3,0h0m3,0h0m3,0h0m3,0h0m3,0h0m3,0h0m3,0h0m3,0h0m3,0h0m3,0h0m3,0h0m3,0h0m3,0h0m3,0h0m3,0h0M304.5,214.5h0m3,0h0m3,0h0m3,0h0m3,0h0m3,0h0m3,0h0m3,0h0m3,0h0m3,0h0m3,0h0m3,0h0m3,0h0m3,0h0m3,0h0m3,0h0m3,0h0m3,0h0m3,0h0m3,0h0m3,0h0m3,0h0m3,0h0M292.5,217.5h0m3,0h0m3,0h0m3,0h0m3,0h0m3,0h0m3,0h0m3,0h0m3,0h0m3,0h0m3,0h0m3,0h0m3,0h0m3,0h0m3,0h0m3,0h0m3,0h0m3,0h0m3,0h0m3,0h0m3,0h0m3,0h0m3,0h0m3,0h0m3,0h0M280.5,220.5h0m3,0h0m3,0h0m3,0h0m3,0h0m3,0h0m3,0h0m3,0h0m3,0h0m3,0h0m3,0h0m3,0h0m3,0h0m3,0h0m3,0h0m3,0h0m3,0h0m3,0h0m3,0h0m3,0h0m3,0h0m3,0h0m3,0h0m3,0h0m3,0h0m3,0h0m3,0h0m3,0h0M283.5,223.5h0m3,0h0m3,0h0m3,0h0m3,0h0m3,0h0m3,0h0m3,0h0m3,0h0m3,0h0m3,0h0m3,0h0m3,0h0m3,0h0m3,0h0m3,0h0m3,0h0m3,0h0m3,0h0m3,0h0m3,0h0m3,0h0m3,0h0m3,0h0m3,0h0m3,0h0M283.5,226.5h0m3,0h0m3,0h0m3,0h0m3,0h0m3,0h0m3,0h0m3,0h0m3,0h0m3,0h0m3,0h0m3,0h0m3,0h0m3,0h0m3,0h0m3,0h0m3,0h0m3,0h0m3,0h0m3,0h0m3,0h0m3,0h0m3,0h0m3,0h0m3,0h0M286.5,229.5h0m3,0h0m3,0h0m3,0h0m3,0h0m3,0h0m3,0h0m3,0h0m3,0h0m3,0h0m3,0h0m3,0h0m3,0h0m3,0h0m3,0h0m3,0h0m3,0h0m3,0h0m3,0h0m3,0h0m3,0h0m3,0h0M286.5,232.5h0m3,0h0m3,0h0m3,0h0m3,0h0m3,0h0m3,0h0m3,0h0m3,0h0m3,0h0m3,0h0m3,0h0m3,0h0m3,0h0m3,0h0m3,0h0m3,0h0m3,0h0m3,0h0m3,0h0m3,0h0M286.5,235.5h0m3,0h0m3,0h0m3,0h0m3,0h0m3,0h0m3,0h0m3,0h0m3,0h0m3,0h0m3,0h0m3,0h0m3,0h0m3,0h0m3,0h0m3,0h0m3,0h0m3,0h0m3,0h0m3,0h0M289.5,238.5h0m3,0h0m3,0h0m3,0h0m3,0h0m3,0h0m3,0h0m3,0h0m3,0h0m3,0h0m3,0h0m3,0h0m3,0h0m3,0h0m3,0h0m3,0h0m3,0h0M289.5,241.5h0m3,0h0m3,0h0m3,0h0m3,0h0m3,0h0m3,0h0m3,0h0m3,0h0m3,0h0m3,0h0m3,0h0m3,0h0m3,0h0m3,0h0M289.5,244.5h0m3,0h0m3,0h0m3,0h0m3,0h0m3,0h0m3,0h0m3,0h0m3,0h0m3,0h0m3,0h0M292.5,247.5h0m3,0h0m3,0h0m3,0h0m3,0h0m3,0h0M292.5,250.5h0m3,0h0m3,0h0"/><path stroke="#0000bf" d="M418.5,172.5h0M412.5,175.5h0m3,0h0m3,0h0m3,0h0m3,0h0m3,0h0M406.5,178.5h0m3,0h0m3,0h0m3,0h0m3,0h0m3,0h0m3,0h0m3,0h0m3,0h0M403.5,181.5h0m3,0h0m3,0h0m3,0h0m3,0h0m3,0h0m3,0h0m3,0h0m3,0h0m3,0h0M403.5,184.5h0m3,0h0m3,0h0m18,0h0m3,0h0M400.5,187.5h0m3,0h0m3,0h0m24,0h0M397.5,190.5h0m3,0h0m3,0h0M397.5,193.5h0m3,0h0M394.5,196.5h0m3,0h0m3,0h0M391.5,199.5h0m3,0h0m3,0h0M388.5,202.5h0m3,0h0m3,0h0m3,0h0M385.5,205.5h0m3,0h0m3,0h0m3,0h0M382.5,208.5h0m3,0h0m3,0h0m3,0h0M376.5,211.5h0m3,0h0m3,0h0m3,0h0m3,0h0m3,0h0M373.5,214.5h0m3,0h0m3,0h0m3,0h0m3,0h0m3,0h0M367.5,217.5h0m3,0h0m3,0h0m3,0h0m3,0h0m3,0h0m3,0h0M364.5,220.5h0m3,0h0m3,0h0m3,0h0m3,0h0m3,0h0m3,0h0M361.5,223.5h0m3,0h0m3,0h0m3,0h0m3,0h0m3,0h0m3,0h0M358.5,226.5h0m3,0h0m3,0h0m3,0h0m3,0h0m3,0h0m3,0h0M352.5,229.5h0m3,0h0m3,0h0m3,0h0m3,0h0m3,0h0m3,0h0m3,0h0M349.5,232.5h0m3,0h0m3,0h0m3,0h0m3,0h0m3,0h0m3,0h0m3,0h0M346.5,235.5h0m3,0h0m3,0h0m3,0h0m3,0h0m3,0h0m3,0h0m3,0h0M340.5,238.5h0m3,0h0m3,0h0m3,0h0m3,0h0m3,0h0m3,0h0m3,0h0m3,0h0m3,0h0M334.5,241.5h0m3,0h0m3,0h0m3,0h0m3,0h0m3,0h0m3,0h0m3,0h0m3,0h0m3,0h0m3,0h0M322.5,244.5h0m3,0h0m3,0h0m3,0h0m3,0h0m3,0h0m3,0h0m3,0h0m3,0h0m3,0h0m3,0h0m3,0h0m3,0h0m3,0h0m3,0h0M310.5,247.5h0m3,0h0m3,0h0m3,0h0m3,0h0m3,0h0m3,0h0m3,0h0m3,0h0m3,0h0m3,0h0m3,0h0m3,0h0m3,0h0m3,0h0m3,0h0m3,0h0m3,0h0M301.5,250.5h0m3,0h0m3,0h0m3,0h0m3,0h0m3,0h0m3,0h0m3,0h0m3,0h0m3,0h0m3,0h0m3,0h0m3,0h0m3,0h0m3,0h0m3,0h0m3,0h0m3,0h0m3,0h0m3,0h0m3,0h0M295.5,253.5h0m3,0h0m3,0h0m3,0h0m3,0h0m3,0h0m3,0h0m3,0h0m3,0h0m3,0h0m3,0h0m3,0h0m3,0h0m3,0h0m3,0h0m3,0h0m3,0h0m3,0h0m3,0h0m3,0h0m3,0h0m3,0h0m3,0h0M295.5,256.5h0m3,0h0m3,0h0m3,0h0m3,0h0m3,0h0m3,0h0m3,0h0m3,0h0m3,0h0m3,0h0m3,0h0m3,0h0m3,0h0m3,0h0m3,0h0m3,0h0m3,0h0m3,0h0m3,0h0m3,0h0m3,0h0M295.5,259.5h0m3,0h0m3,0h0m3,0h0m3,0h0m3,0h0m3,0h0m3,0h0m3,0h0m3,0h0m3,0h0m3,0h0m3,0h0m3,0h0m3,0h0m3,0h0m3,0h0m3,0h0m3,0h0m3,0h0m3,0h0m3,0h0M298.5,262.5h0m3,0h0m3,0h0m3,0h0m3,0h0m3,0h0m3,0h0m3,0h0m3,0h0m3,0h0m3,0h0m3,0h0m3,0h0m3,0h0m3,0h0m3,0h0m3,0h0m3,0h0m3,0h0m3,0h0M298.5,265.5h0m3,0h0m3,0h0m3,0h0m3,0h0m3,0h0m3,0h0m3,0h0m3,0h0m3,0h0m3,0h0m3,0h0m3,0h0m3,0h0m3,0h0m3,0h0m3,0h0m3,0h0m3,0h0M298.5,268.5h0m3,0h0m3,0h0m3,0h0m3,0h0m3,0h0m3,0h0m3,0h0m3,0h0m3,0h0m3,0h0m3,0h0m3,0h0m3,0h0m3,0h0m3,0h0m3,0h0m3,0h0M301.5,271.5h0m3,0h0m3,0h0m3,0h0m3,0h0m3,0h0m3,0h0m3,0h0m3,0h0m3,0h0m3,0h0m3,0h0m3,0h0m3,0h0m3,0h0m3,0h0M301.5,274.5h0m3,0h0m3,0h0m3,0h0m3,0h0m3,0h0m3,0h0m3,0h0m3,0h0m3,0h0m3,0h0m3,0h0m3,0h0M301.5,277.5h0m3,0h0m3,0h0m3,0h0m3,0h0m3,0h0m3,0h0m3,0h0m3,0h0m3,0h0M304.5,280.5h0m3,0h0m3,0h0m3,0h0m3,0h0M304.5,283.5h0"/><path stroke="#0000ca" d="M412.5,184.5h0m3,0h0m3,0h0m3,0h0m3,0h0M409.5,187.5h0m3,0h0m3,0h0m3,0h0m3,0h0m3,0h0m3,0h0M406.5,190.5h0m3,0h0m3,0h0m3,0h0m3,0h0m3,0h0m3,0h0m3,0h0m3,0h0M403.5,193.5h0m3,0h0m3,0h0m15,0h0m3,0h0m3,0h0M403.5,196.5h0m3,0h0m21,0h0m3,0h0M400.5,199.5h0m3,0h0m3,0h0m24,0h0M400.5,202.5h0m3,0h0M397.5,205.5h0m3,0h0M394.5,208.5h0m3,0h0m3,0h0M394.5,211.5h0m3,0h0M391.5,214.5h0m3,0h0m3,0h0M388.5,217.5h0m3,0h0m3,0h0M385.5,220.5h0m3,0h0m3,0h0M382.5,223.5h0m3,0h0m3,0h0m3,0h0M379.5,226.5h0m3,0h0m3,0h0m3,0h0M376.5,229.5h0m3,0h0m3,0h0m3,0h0M373.5,232.5h0m3,0h0m3,0h0m3,0h0m3,0h0M370.5,235.5h0m3,0h0m3,0h0m3,0h0m3,0h0M370.5,238.5h0m3,0h0m3,0h0m3,0h0m3,0h0M367.5,241.5h0m3,0h0m3,0h0m3,0h0m3,0h0M367.5,244.5h0m3,0h0m3,0h0m3,0h0m3,0h0M364.5,247.5h0m3,0h0m3,0h0m3,0h0m3,0h0m3,0h0M364.5,250.5h0m3,0h0m3,0h0m3,0h0m3,0h0m3,0h0M364.5,253.5h0m3,0h0m3,0h0m3,0h0m3,0h0m3,0h0M361.5,256.5h0m3,0h0m3,0h0m3,0h0m3,0h0m3,0h0m3,0h0M361.5,259.5h0m3,0h0m3,0h0m3,0h0m3,0h0m3,0h0m3,0h0m3,0h0M358.5,262.5h0m3,0h0m3,0h0m3,0h0m3,0h0m3,0h0m3,0h0m3,0h0m3,0h0M355.5,265.5h0m3,0h0m3,0h0m3,0h0m3,0h0m3,0h0m3,0h0m3,0h0m3,0h0m3,0h0m3,0h0M352.5,268.5h0m3,0h0m3,0h0m3,0h0m3,0h0m3,0h0m3,0h0m3,0h0m3,0h0m3,0h0m3,0h0m3,0h0m3,0h0M349.5,271.5h0m3,0h0m3,0h0m3,0h0m3,0h0m3,0h0m3,0h0m3,0h0m3,0h0m3,0h0m3,0h0m3,0h0m3,0h0m3,0h0M340.5,274.5h0m3,0h0m3,0h0m3,0h0m3,0h0m3,0h0m3,0h0m3,0h0m3,0h0m3,0h0m3,0h0m3,0h0m3,0h0m3,0h0m3,0h0m3,0h0m3,0h0m3,0h0M331.5,277.5h0m3,0h0m3,0h0m3,0h0m3,0h0m3,0h0m3,0h0m3,0h0m3,0h0m3,0h0m3,0h0m3,0h0m3,0h0m3,0h0m3,0h0m3,0h0m3,0h0m3,0h0m3,0h0m3,0h0m3,0h0m3,0h0M319.5,280.5h0m3,0h0m3,0h0m3,0h0m3,0h0m3,0h0m3,0h0m3,0h0m3,0h0m3,0h0m3,0h0m3,0h0m3,0h0m3,0h0m3,0h0m3,0h0m3,0h0m3,0h0m3,0h0m3,0h0m3,0h0m3,0h0m3,0h0m3,0h0m3,0h0m3,0h0M307.5,283.5h0m3,0h0m3,0h0m3,0h0m3,0h0m3,0h0m3,0h0m3,0h0m3,0h0m3,0h0m3,0h0m3,0h0m3,0h0m3,0h0m3,0h0m3,0h0m3,0h0m3,0h0m3,0h0m3,0h0m3,0h0m3,0h0m3,0h0m3,0h0m3,0h0m3,0h0m3,0h0m3,0h0m3,0h0m3,0h0m3,0h0M307.5,286.5h0m3,0h0m3,0h0m3,0h0m3,0h0m3,0h0m3,0h0m3,0h0m3,0h0m3,0h0m3,0h0m3,0h0m3,0h0m3,0h0m3,0h0m3,0h0m3,0h0m3,0h0m3,0h0m3,0h0m3,0h0m3,0h0m3,0h0m3,0h0m3,0h0m3,0h0m3,0h0m3,0h0m3,0h0m3,0h0m3,0h0M307.5,289.5h0m3,0h0m3,0h0m3,0h0m3,0h0m3,0h0m3,0h0m3,0h0m3,0h0m3,0h0m3,0h0m3,0h0m3,0h0m3,0h0m3,0h0m3,0h0m3,0h0m3,0h0m3,0h0m3,0h0m3,0h0m3,0h0m3,0h0m3,0h0m3,0h0m3,0h0m3,0h0m3,0h0m3,0h0m3,0h0M307.5,292.5h0m3,0h0m3,0h0m3,0h0m3,0h0m3,0h0m3,0h0m3,0h0m3,0h0m3,0h0m3,0h0m3,0h0m3,0h0m3,0h0m3,0h0m3,0h0m3,0h0m3,0h0m3,0h0m3,0h0m3,0h0m3,0h0m3,0h0m3,0h0m3,0h0m3,0h0m3,0h0m3,0h0m3,0h0m3,0h0m3,0h0M310.5,295.5h0m3,0h0m3,0h0m3,0h0m3,0h0m3,0h0m3,0h0m3,0h0m3,0h0m3,0h0m3,0h0m3,0h0m3,0h0m3,0h0m3,0h0m3,0h0m3,0h0m3,0h0m3,0h0m3,0h0m3,0h0m3,0h0m3,0h0m3,0h0m3,0h0m3,0h0m3,0h0m3,0h0m3,0h0m3,0h0m3,0h0M310.5,298.5h0m3,0h0m3,0h0m3,0h0m3,0h0m3,0h0m3,0h0m3,0h0m3,0h0m3,0h0m3,0h0m3,0h0m3,0h0m3,0h0m3,0h0m3,0h0m3,0h0m3,0h0m3,0h0m3,0h0m3,0h0m3,0h0m3,0h0m3,0h0m3,0h0m3,0h0m3,0h0m3,0h0m3,0h0m3,0h0m3,0h0m3,0h0M310.5,301.5h0m3,0h0m3,0h0m3,0h0m3,0h0m3,0h0m3,0h0m3,0h0m3,0h0m3,0h0m3,0h0m3,0h0m3,0h0m3,0h0m3,0h0m3,0h0m3,0h0m3,0h0m3,0h0m3,0h0m3,0h0m3,0h0m3,0h0m3,0h0m3,0h0m3,0h0m3,0h0m3,0h0m3,0h0m3,0h0m3,0h0m3,0h0m3,0h0M313.5,304.5h0m3,0h0m3,0h0m3,0h0m3,0h0m3,0h0m3,0h0m3,0h0m3,0h0m3,0h0m3,0h0m3,0h0m3,0h0m3,0h0m3,0h0m3,0h0m3,0h0m3,0h0m3,0h0m3,0h0m3,0h0m3,0h0m3,0h0m3,0h0m3,0h0m3,0h0m3,0h0m3,0h0m3,0h0m3,0h0m3,0h0m3,0h0m3,0h0M313.5,307.5h0m3,0h0m3,0h0m3,0h0m3,0h0m3,0h0m3,0h0m3,0h0m3,0h0m3,0h0m3,0h0m3,0h0m3,0h0m3,0h0m3,0h0m3,0h0m3,0h0m3,0h0m3,0h0m3,0h0m3,0h0m3,0h0m3,0h0m3,0h0m3,0h0m3,0h0m3,0h0m3,0h0m3,0h0m3,0h0m3,0h0m3,0h0m3,0h0m3,0h0M313.5,310.5h0m3,0h0m3,0h0m3,0h0m3,0h0m3,0h0m3,0h0m3,0h0m3,0h0m3,0h0m3,0h0m3,0h0m3,0h0m3,0h0m3,0h0m3,0h0m3,0h0m3,0h0m3,0h0m3,0h0m3,0h0m3,0h0m3,0h0m3,0h0m3,0h0m3,0h0m3,0h0m3,0h0m3,0h0m3,0h0m3,0h0m3,0h0m3,0h0m3,0h0"/><path stroke="#0000d4" d="M412.5,193.5h0m3,0h0m3,0h0m3,0h0M409.5,196.5h0m3,0h0m3,0h0m3,0h0m3,0h0m3,0h0M409.5,199.5h0m3,0h0m3,0h0m3,0h0m3,0h0m3,0h0m3,0h0M406.5,202.5h0m3,0h0m3,0h0m12,0h0m3,0h0m3,0h0M403.5,205.5h0m3,0h0m3,0h0m18,0h0m3,0h0M403.5,208.5h0m3,0h0m21,0h0m3,0h0M400.5,211.5h0m3,0h0m27,0h0M400.5,214.5h0m3,0h0m27,0h0M397.5,217.5h0m3,0h0m30,0h0M394.5,220.5h0m3,0h0m3,0h0m30,0h0M394.5,223.5h0m3,0h0M391.5,226.5h0m3,0h0m3,0h0M388.5,229.5h0m3,0h0m3,0h0m3,0h0M388.5,232.5h0m3,0h0m3,0h0M385.5,235.5h0m3,0h0m3,0h0m3,0h0M385.5,238.5h0m3,0h0m3,0h0m3,0h0m36,0h0M382.5,241.5h0m3,0h0m3,0h0m3,0h0m3,0h0m36,0h0M382.5,244.5h0m3,0h0m3,0h0m3,0h0m3,0h0m36,0h0M382.5,247.5h0m3,0h0m3,0h0m3,0h0m3,0h0m36,0h0M382.5,250.5h0m3,0h0m3,0h0m3,0h0m3,0h0m33,0h0m3,0h0M382.5,253.5h0m3,0h0m3,0h0m3,0h0m3,0h0m3,0h0m30,0h0m3,0h0M382.5,256.5h0m3,0h0m3,0h0m3,0h0m3,0h0m3,0h0m3,0h0m24,0h0m3,0h0m3,0h0M385.5,259.5h0m3,0h0m3,0h0m3,0h0m3,0h0m3,0h0m3,0h0m18,0h0m3,0h0m3,0h0m3,0h0M385.5,262.5h0m3,0h0m3,0h0m3,0h0m3,0h0m3,0h0m3,0h0m3,0h0m3,0h0m3,0h0m3,0h0m3,0h0m3,0h0m3,0h0m3,0h0m3,0h0M388.5,265.5h0m3,0h0m3,0h0m3,0h0m3,0h0m3,0h0m3,0h0m3,0h0m3,0h0m3,0h0m3,0h0m3,0h0m3,0h0m3,0h0m3,0h0M391.5,268.5h0m3,0h0m3,0h0m3,0h0m3,0h0m3,0h0m3,0h0m3,0h0m3,0h0m3,0h0m3,0h0m3,0h0m3,0h0m3,0h0M391.5,271.5h0m3,0h0m3,0h0m3,0h0m3,0h0m3,0h0m3,0h0m3,0h0m3,0h0m3,0h0m3,0h0m3,0h0m3,0h0m3,0h0M394.5,274.5h0m3,0h0m3,0h0m3,0h0m3,0h0m3,0h0m3,0h0m3,0h0m3,0h0m3,0h0m3,0h0m3,0h0m3,0h0M397.5,277.5h0m3,0h0m3,0h0m3,0h0m3,0h0m3,0h0m3,0h0m3,0h0m3,0h0m3,0h0m3,0h0m3,0h0M397.5,280.5h0m3,0h0m3,0h0m3,0h0m3,0h0m3,0h0m3,0h0m3,0h0m3,0h0m3,0h0m3,0h0m3,0h0M400.5,283.5h0m3,0h0m3,0h0m3,0h0m3,0h0m3,0h0m3,0h0m3,0h0m3,0h0m3,0h0m3,0h0M400.5,286.5h0m3,0h0m3,0h0m3,0h0m3,0h0m3,0h0m3,0h0m3,0h0m3,0h0m3,0h0m3,0h0M397.5,289.5h0m3,0h0m3,0h0m3,0h0m3,0h0m3,0h0m3,0h0m3,0h0m3,0h0m3,0h0m3,0h0m3,0h0M400.5,292.5h0m3,0h0m3,0h0m3,0h0m3,0h0m3,0h0m3,0h0m3,0h0m3,0h0m3,0h0m3,0h0M403.5,295.5h0m3,0h0m3,0h0m3,0h0m3,0h0m3,0h0m3,0h0m3,0h0m3,0h0m3,0h0M406.5,298.5h0m3,0h0m3,0h0m3,0h0m3,0h0m3,0h0m3,0h0m3,0h0m3,0h0M409.5,301.5h0m3,0h0m3,0h0m3,0h0m3,0h0m3,0h0m3,0h0m3,0h0M412.5,304.5h0m3,0h0m3,0h0m3,0h0m3,0h0m3,0h0m3,0h0M415.5,307.5h0m3,0h0m3,0h0m3,0h0m3,0h0m3,0h0M415.5,310.5h0m3,0h0m3,0h0m3,0h0m3,0h0m3,0h0"/><path stroke="#0000df" d="M415.5,202.5h0m3,0h0m3,0h0M412.5,205.5h0m3,0h0m3,0h0m3,0h0m3,0h0M409.5,208.5h0m3,0h0m3,0h0m3,0h0m3,0h0m3,0h0M406.5,211.5h0m3,0h0m3,0h0m3,0h0m3,0h0m3,0h0m3,0h0m3,0h0M406.5,214.5h0m3,0h0m12,0h0m3,0h0m3,0h0M403.5,217.5h0m3,0h0m3,0h0m15,0h0m3,0h0M403.5,220.5h0m3,0h0m18,0h0m3,0h0M400.5,223.5h0m3,0h0m3,0h0m18,0h0m3,0h0m3,0h0M400.5,226.5h0m3,0h0m3,0h0m21,0h0m3,0h0M400.5,229.5h0m3,0h0m24,0h0m3,0h0M397.5,232.5h0m3,0h0m3,0h0m21,0h0m3,0h0m3,0h0M397.5,235.5h0m3,0h0m3,0h0m21,0h0m3,0h0m3,0h0M397.5,238.5h0m3,0h0m3,0h0m21,0h0m3,0h0M397.5,241.5h0m3,0h0m3,0h0m21,0h0m3,0h0M397.5,244.5h0m3,0h0m3,0h0m3,0h0m15,0h0m3,0h0m3,0h0M397.5,247.5h0m3,0h0m3,0h0m3,0h0m3,0h0m3,0h0m3,0h0m3,0h0m3,0h0m3,0h0m3,0h0M397.5,250.5h0m3,0h0m3,0h0m3,0h0m3,0h0m3,0h0m3,0h0m3,0h0m3,0h0m3,0h0M400.5,253.5h0m3,0h0m3,0h0m3,0h0m3,0h0m3,0h0m3,0h0m3,0h0m3,0h0M403.5,256.5h0m3,0h0m3,0h0m3,0h0m3,0h0m3,0h0m3,0h0M406.5,259.5h0m3,0h0m3,0h0m3,0h0m3,0h0"/><path stroke="#0000ea" d="M412.5,214.5h0m3,0h0m3,0h0M412.5,217.5h0m3,0h0m3,0h0m3,0h0M409.5,220.5h0m3,0h0m3,0h0m3,0h0m3,0h0M409.5,223.5h0m3,0h0m3,0h0m3,0h0m3,0h0M409.5,226.5h0m3,0h0m3,0h0m3,0h0m3,0h0m3,0h0M406.5,229.5h0m3,0h0m3,0h0m3,0h0m3,0h0m3,0h0m3,0h0M406.5,232.5h0m3,0h0m3,0h0m3,0h0m3,0h0m3,0h0M406.5,235.5h0m3,0h0m3,0h0m3,0h0m3,0h0m3,0h0M406.5,238.5h0m3,0h0m3,0h0m3,0h0m3,0h0m3,0h0M406.5,241.5h0m3,0h0m3,0h0m3,0h0m3,0h0m3,0h0M409.5,244.5h0m3,0h0m3,0h0m3,0h0"/><path d="M427.8,178h6v22.5h-6z" fill="#fff" stroke="none"/><path d="M429.4,177.5V201" stroke="#000" stroke-width="1" stroke-linecap="butt"/><circle cx="420.3" cy="243.5" r="1.6" fill="#00d0ff" stroke="none"/><circle cx="423.8" cy="245.0" r="1.6" fill="#30ffd0" stroke="none"/><circle cx="426.8" cy="249.0" r="1.5" fill="#00c0ff" stroke="none"/><circle cx="422.3" cy="241.5" r="1.3" fill="#c0ffff" stroke="none"/><circle cx="424.8" cy="254.0" r="1.4" fill="#ff9000" stroke="none"/><circle cx="418.8" cy="248.5" r="1.4" fill="#00a0ff" stroke="none"/><circle cx="427.8" cy="255.5" r="1.3" fill="#40e0ff" stroke="none"/><circle cx="421.3" cy="251.0" r="1.3" fill="#0090ff" stroke="none"/></g>
<use href="#st"/>
</g>
<text class="b t" x="241.9" y="76.8" text-anchor="end">100</text><text class="b r" x="245.3" y="65.8" text-anchor="middle">o</text><text class="b t" x="252.5" y="76.8">W</text>
<text class="b t" x="303.0" y="76.8" text-anchor="end">90</text><text class="b r" x="306.3" y="65.8" text-anchor="middle">o</text><text class="b t" x="313.5" y="76.8">W</text>
<text class="b t" x="366.4" y="76.8" text-anchor="end">80</text><text class="b r" x="369.8" y="65.8" text-anchor="middle">o</text><text class="b t" x="377.0" y="76.8">W</text>
<text class="b t" x="429.4" y="76.8" text-anchor="end">70</text><text class="b r" x="432.7" y="65.8" text-anchor="middle">o</text><text class="b t" x="439.9" y="76.8">W</text>
<text class="b t" x="163.5" y="314.7" text-anchor="end">22</text>
<text class="b r" x="167.9" y="303.4" text-anchor="middle">o</text>
<text class="b t" x="174.9" y="314.7">N</text>
<text class="b t" x="163.5" y="302.0" text-anchor="end">24</text>
<text class="b r" x="167.9" y="290.7" text-anchor="middle">o</text>
<text class="b t" x="174.9" y="302.0">N</text>
<text class="b t" x="163.5" y="288.1" text-anchor="end">26</text>
<text class="b r" x="167.9" y="276.8" text-anchor="middle">o</text>
<text class="b t" x="174.9" y="288.1">N</text>
<text class="b t" x="163.5" y="274.0" text-anchor="end">28</text>
<text class="b r" x="167.9" y="262.7" text-anchor="middle">o</text>
<text class="b t" x="174.9" y="274.0">N</text>
<text class="b t" x="163.5" y="259.7" text-anchor="end">30</text>
<text class="b r" x="167.9" y="248.4" text-anchor="middle">o</text>
<text class="b t" x="174.9" y="259.7">N</text>
<text class="b t" x="163.5" y="245.0" text-anchor="end">32</text>
<text class="b r" x="167.9" y="233.7" text-anchor="middle">o</text>
<text class="b t" x="174.9" y="245.0">N</text>
<text class="b t" x="163.5" y="230.1" text-anchor="end">34</text>
<text class="b r" x="167.9" y="218.8" text-anchor="middle">o</text>
<text class="b t" x="174.9" y="230.1">N</text>
<text class="b t" x="163.5" y="214.7" text-anchor="end">36</text>
<text class="b r" x="167.9" y="203.4" text-anchor="middle">o</text>
<text class="b t" x="174.9" y="214.7">N</text>
<text class="b t" x="163.5" y="199.0" text-anchor="end">38</text>
<text class="b r" x="167.9" y="187.7" text-anchor="middle">o</text>
<text class="b t" x="174.9" y="199.0">N</text>
<text class="b t" x="163.5" y="182.9" text-anchor="end">40</text>
<text class="b r" x="167.9" y="171.6" text-anchor="middle">o</text>
<text class="b t" x="174.9" y="182.9">N</text>
<text class="b t" x="163.5" y="166.2" text-anchor="end">42</text>
<text class="b r" x="167.9" y="154.9" text-anchor="middle">o</text>
<text class="b t" x="174.9" y="166.2">N</text>
<text class="b t" x="163.5" y="149.0" text-anchor="end">44</text>
<text class="b r" x="167.9" y="137.7" text-anchor="middle">o</text>
<text class="b t" x="174.9" y="149.0">N</text>
<text class="b t" x="163.5" y="131.3" text-anchor="end">46</text>
<text class="b r" x="167.9" y="120.0" text-anchor="middle">o</text>
<text class="b t" x="174.9" y="131.3">N</text>
<text class="b t" x="163.5" y="112.9" text-anchor="end">48</text>
<text class="b r" x="167.9" y="101.6" text-anchor="middle">o</text>
<text class="b t" x="174.9" y="112.9">N</text>
<rect x="441.6" y="95.5" width="23" height="214.4" fill="url(#jet)" stroke="#000" stroke-width="1"/>
<path d="M464.6,203.2h-2.6" stroke="#111" stroke-width="1"/>
<text class="b c" x="473.2" y="102.3">100</text>
<text class="b c" x="473.2" y="209.8">50</text>
<text class="b c" x="473.2" y="317.6">0</text>
<text class="b l" x="139.6" y="340.8">SAT 200 hPa RH (Percent)</text>
</g>
<g transform="translate(841.60,-1.00)">
<g transform="translate(196.40,96.90) scale(1.006,1.0092) translate(-196.40,-96.90)">
<rect x="196.4" y="96.9" width="233.0" height="212.2" fill="#fff" stroke="#000" stroke-width="1"/>
<g clip-path="url(#sw)" fill="none" stroke-width="4.6" stroke-linecap="round"><path stroke="#00009f" d="M415.5,91.5h0m3,0h0m3,0h0m3,0h0m3,0h0m3,0h0M397.5,94.5h0m3,0h0m3,0h0m3,0h0m3,0h0m3,0h0m3,0h0m3,0h0m3,0h0m3,0h0m3,0h0m3,0h0M382.5,97.5h0m3,0h0m3,0h0m3,0h0m3,0h0m3,0h0m3,0h0m3,0h0m3,0h0m3,0h0m3,0h0m3,0h0m3,0h0m3,0h0m3,0h0m3,0h0m3,0h0M370.5,100.5h0m3,0h0m3,0h0m3,0h0m3,0h0m3,0h0m3,0h0m3,0h0m3,0h0m3,0h0m3,0h0m3,0h0m3,0h0m3,0h0m3,0h0m3,0h0m3,0h0m3,0h0m3,0h0m3,0h0m3,0h0M358.5,103.5h0m3,0h0m3,0h0m3,0h0m3,0h0m3,0h0m3,0h0m3,0h0m3,0h0m3,0h0m3,0h0m3,0h0m3,0h0m3,0h0m3,0h0m3,0h0m3,0h0m3,0h0m3,0h0m3,0h0m3,0h0m3,0h0m3,0h0m3,0h0m3,0h0M346.5,106.5h0m3,0h0m3,0h0m3,0h0m3,0h0m3,0h0m3,0h0m3,0h0m3,0h0m3,0h0m3,0h0m3,0h0m3,0h0m3,0h0m3,0h0m3,0h0m3,0h0m3,0h0m3,0h0m3,0h0m3,0h0m3,0h0m3,0h0m3,0h0m3,0h0m3,0h0m3,0h0m3,0h0m3,0h0M337.5,109.5h0m3,0h0m3,0h0m3,0h0m3,0h0m3,0h0m3,0h0m3,0h0m3,0h0m3,0h0m3,0h0m3,0h0m3,0h0m3,0h0m3,0h0m3,0h0m3,0h0m3,0h0m3,0h0m3,0h0m3,0h0m3,0h0m3,0h0m3,0h0m3,0h0m3,0h0m3,0h0m3,0h0m3,0h0m3,0h0m3,0h0m3,0h0M325.5,112.5h0m3,0h0m3,0h0m3,0h0m3,0h0m3,0h0m3,0h0m3,0h0m3,0h0m3,0h0m3,0h0m3,0h0m3,0h0m3,0h0m3,0h0m3,0h0m3,0h0m3,0h0m3,0h0m3,0h0m3,0h0m3,0h0m3,0h0m3,0h0m3,0h0m3,0h0m3,0h0m3,0h0m3,0h0m3,0h0m3,0h0m3,0h0m3,0h0m3,0h0m3,0h0m3,0h0M316.5,115.5h0m3,0h0m3,0h0m3,0h0m3,0h0m3,0h0m3,0h0m3,0h0m3,0h0m3,0h0m3,0h0m3,0h0m3,0h0m3,0h0m3,0h0m3,0h0m3,0h0m3,0h0m3,0h0m3,0h0m3,0h0m3,0h0m3,0h0m3,0h0m3,0h0m3,0h0m3,0h0m3,0h0m3,0h0m3,0h0m3,0h0m3,0h0m3,0h0m3,0h0m3,0h0m3,0h0m3,0h0m3,0h0m3,0h0M307.5,118.5h0m3,0h0m3,0h0m3,0h0m3,0h0m3,0h0m3,0h0m3,0h0m3,0h0m3,0h0m3,0h0m3,0h0m3,0h0m3,0h0m3,0h0m3,0h0m3,0h0m3,0h0m3,0h0m3,0h0m3,0h0m3,0h0m3,0h0m3,0h0m3,0h0m3,0h0m3,0h0m3,0h0m3,0h0m3,0h0m3,0h0m3,0h0m3,0h0m3,0h0m3,0h0m3,0h0m3,0h0m3,0h0m3,0h0m3,0h0m3,0h0m3,0h0M298.5,121.5h0m3,0h0m3,0h0m3,0h0m3,0h0m3,0h0m3,0h0m3,0h0m3,0h0m3,0h0m3,0h0m3,0h0m3,0h0m3,0h0m3,0h0m3,0h0m3,0h0m3,0h0m3,0h0m3,0h0m3,0h0m3,0h0m3,0h0m3,0h0m3,0h0m3,0h0m3,0h0m3,0h0m3,0h0m3,0h0m3,0h0m3,0h0m3,0h0m3,0h0m3,0h0m3,0h0m3,0h0m3,0h0m3,0h0m3,0h0m3,0h0m3,0h0m3,0h0m3,0h0m3,0h0M289.5,124.5h0m3,0h0m3,0h0m3,0h0m3,0h0m3,0h0m3,0h0m3,0h0m3,0h0m3,0h0m3,0h0m3,0h0m3,0h0m3,0h0m3,0h0m3,0h0m3,0h0m3,0h0m3,0h0m3,0h0m3,0h0m3,0h0m3,0h0m3,0h0m3,0h0m3,0h0m3,0h0m3,0h0m3,0h0m3,0h0m3,0h0m3,0h0m3,0h0m3,0h0m3,0h0m3,0h0m3,0h0m3,0h0m3,0h0m3,0h0m3,0h0m3,0h0m3,0h0m3,0h0m3,0h0m3,0h0m3,0h0m3,0h0M286.5,127.5h0m3,0h0m3,0h0m3,0h0m3,0h0m3,0h0m3,0h0m3,0h0m3,0h0m3,0h0m3,0h0m3,0h0m3,0h0m3,0h0m3,0h0m3,0h0m3,0h0m3,0h0m3,0h0m3,0h0m3,0h0m3,0h0m3,0h0m3,0h0m3,0h0m3,0h0m3,0h0m3,0h0m3,0h0m3,0h0m3,0h0m3,0h0m3,0h0m3,0h0m3,0h0m3,0h0m3,0h0m3,0h0m3,0h0m3,0h0m3,0h0m3,0h0m3,0h0m3,0h0m3,0h0m3,0h0m3,0h0m3,0h0m3,0h0M304.5,130.5h0m3,0h0m3,0h0m3,0h0m3,0h0m3,0h0m3,0h0m3,0h0m3,0h0m3,0h0m3,0h0m3,0h0m3,0h0m3,0h0m3,0h0m3,0h0m3,0h0m3,0h0m3,0h0m3,0h0m3,0h0m3,0h0m3,0h0m3,0h0m3,0h0m3,0h0m3,0h0m3,0h0m3,0h0m3,0h0m3,0h0m3,0h0m3,0h0m3,0h0m3,0h0m3,0h0m3,0h0m3,0h0m3,0h0m3,0h0m3,0h0m3,0h0m3,0h0M307.5,133.5h0m3,0h0m3,0h0m3,0h0m3,0h0m3,0h0m3,0h0m3,0h0m3,0h0m3,0h0m3,0h0m3,0h0m3,0h0m3,0h0m3,0h0m3,0h0m3,0h0m3,0h0m3,0h0m3,0h0m3,0h0m3,0h0m3,0h0m3,0h0m3,0h0m3,0h0m3,0h0m3,0h0m3,0h0m3,0h0m3,0h0m3,0h0m3,0h0m3,0h0m3,0h0m3,0h0m3,0h0m3,0h0m3,0h0m3,0h0m3,0h0m3,0h0M310.5,136.5h0m3,0h0m3,0h0m3,0h0m3,0h0m3,0h0m3,0h0m3,0h0m3,0h0m3,0h0m3,0h0m3,0h0m3,0h0m3,0h0m3,0h0m3,0h0m3,0h0m3,0h0m3,0h0m3,0h0m3,0h0m3,0h0m3,0h0m3,0h0m3,0h0m3,0h0m3,0h0m3,0h0m3,0h0m3,0h0m3,0h0m3,0h0m3,0h0m3,0h0m3,0h0m3,0h0m3,0h0m3,0h0m3,0h0m3,0h0m3,0h0M313.5,139.5h0m3,0h0m3,0h0m3,0h0m3,0h0m3,0h0m3,0h0m3,0h0m3,0h0m3,0h0m3,0h0m3,0h0m3,0h0m3,0h0m3,0h0m3,0h0m3,0h0m3,0h0m3,0h0m3,0h0m3,0h0m3,0h0m3,0h0m3,0h0m30,0h0m3,0h0m3,0h0m3,0h0m3,0h0m3,0h0m3,0h0M316.5,142.5h0m3,0h0m3,0h0m3,0h0m3,0h0m3,0h0m3,0h0m3,0h0m3,0h0m3,0h0m3,0h0M319.5,145.5h0m3,0h0m3,0h0m3,0h0m3,0h0m3,0h0m3,0h0m3,0h0m3,0h0m3,0h0M319.5,148.5h0m3,0h0m3,0h0m3,0h0m3,0h0m3,0h0m3,0h0m3,0h0m3,0h0m3,0h0M319.5,151.5h0m3,0h0m3,0h0m3,0h0m3,0h0m3,0h0m3,0h0m3,0h0m3,0h0m3,0h0M319.5,154.5h0m3,0h0m3,0h0m3,0h0m3,0h0m3,0h0m3,0h0m3,0h0m3,0h0m3,0h0"/><path stroke="#0000bf" d="M283.5,127.5h0M277.5,130.5h0m3,0h0m3,0h0m3,0h0m3,0h0m3,0h0m3,0h0m3,0h0m3,0h0M271.5,133.5h0m3,0h0m3,0h0m3,0h0m3,0h0m3,0h0m3,0h0m3,0h0m3,0h0m3,0h0m3,0h0m3,0h0M271.5,136.5h0m3,0h0m3,0h0m3,0h0m3,0h0m3,0h0m3,0h0m3,0h0m3,0h0m3,0h0m3,0h0m3,0h0m3,0h0M271.5,139.5h0m3,0h0m3,0h0m3,0h0m3,0h0m3,0h0m3,0h0m3,0h0m3,0h0m3,0h0m3,0h0m3,0h0m3,0h0m3,0h0m75,0h0m3,0h0m18,0h0m3,0h0M271.5,142.5h0m3,0h0m3,0h0m3,0h0m3,0h0m3,0h0m3,0h0m3,0h0m3,0h0m3,0h0m3,0h0m3,0h0m3,0h0m3,0h0m3,0h0m36,0h0m3,0h0m3,0h0m3,0h0m3,0h0m3,0h0m3,0h0m3,0h0m3,0h0m3,0h0m3,0h0m3,0h0m3,0h0m24,0h0m3,0h0m3,0h0m3,0h0m3,0h0m3,0h0m3,0h0m3,0h0M271.5,145.5h0m3,0h0m3,0h0m3,0h0m3,0h0m3,0h0m3,0h0m3,0h0m3,0h0m3,0h0m3,0h0m3,0h0m3,0h0m3,0h0m3,0h0m3,0h0m33,0h0m3,0h0m3,0h0m3,0h0m3,0h0m3,0h0m3,0h0m3,0h0m3,0h0m3,0h0m3,0h0m3,0h0m30,0h0m3,0h0m3,0h0m3,0h0m3,0h0m3,0h0m3,0h0M271.5,148.5h0m3,0h0m3,0h0m3,0h0m3,0h0m3,0h0m3,0h0m3,0h0m3,0h0m3,0h0m3,0h0m3,0h0m3,0h0m3,0h0m3,0h0m3,0h0m33,0h0m3,0h0m3,0h0m3,0h0m3,0h0m3,0h0m3,0h0m60,0h0m3,0h0M271.5,151.5h0m3,0h0m3,0h0m3,0h0m3,0h0m3,0h0m3,0h0m3,0h0m3,0h0m3,0h0m3,0h0m3,0h0m3,0h0m3,0h0m3,0h0m3,0h0m33,0h0m3,0h0m3,0h0m3,0h0m3,0h0m3,0h0m66,0h0M256.5,154.5h0m3,0h0m3,0h0m3,0h0m3,0h0m3,0h0m3,0h0m3,0h0m3,0h0m3,0h0m3,0h0m3,0h0m3,0h0m3,0h0m3,0h0m3,0h0m3,0h0m3,0h0m3,0h0m3,0h0m3,0h0m33,0h0m3,0h0m3,0h0m3,0h0m3,0h0m69,0h0M259.5,157.5h0m3,0h0m3,0h0m3,0h0m9,0h0m3,0h0m3,0h0m3,0h0m3,0h0m3,0h0m3,0h0m3,0h0m3,0h0m3,0h0m3,0h0m3,0h0m3,0h0m3,0h0m3,0h0m3,0h0m3,0h0m3,0h0m3,0h0m3,0h0m3,0h0m3,0h0m3,0h0m3,0h0m3,0h0m3,0h0m3,0h0m3,0h0m72,0h0M280.5,160.5h0m3,0h0m3,0h0m3,0h0m3,0h0m3,0h0m3,0h0m3,0h0m3,0h0m3,0h0m3,0h0m3,0h0m3,0h0m33,0h0m3,0h0m3,0h0m75,0h0M283.5,163.5h0m3,0h0m3,0h0m3,0h0m3,0h0m3,0h0m3,0h0m3,0h0m3,0h0m3,0h0m3,0h0m39,0h0m78,0h0M283.5,166.5h0m3,0h0m3,0h0m3,0h0m3,0h0m3,0h0m3,0h0m3,0h0m3,0h0m3,0h0m3,0h0m6,0h0m27,0h0m3,0h0m75,0h0m3,0h0M289.5,169.5h0m3,0h0m15,0h0m42,0h0M292.5,172.5h0m3,0h0m3,0h0m3,0h0M286.5,175.5h0m3,0h0m3,0h0M298.5,199.5h0m3,0h0M295.5,202.5h0m3,0h0m3,0h0"/><path stroke="#0000df" d="M268.5,133.5h0M265.5,136.5h0m3,0h0M268.5,139.5h0m123,0h0m3,0h0m3,0h0m3,0h0m3,0h0M268.5,142.5h0m120,0h0m18,0h0M268.5,145.5h0m117,0h0m24,0h0M268.5,148.5h0m102,0h0m3,0h0m3,0h0m3,0h0m3,0h0m27,0h0m3,0h0m3,0h0m3,0h0m3,0h0m3,0h0M256.5,151.5h0m3,0h0m3,0h0m3,0h0m3,0h0m99,0h0m36,0h0m24,0h0M364.5,154.5h0m36,0h0m3,0h0m3,0h0m21,0h0M271.5,157.5h0m3,0h0m87,0h0m3,0h0m39,0h0M259.5,160.5h0m3,0h0m3,0h0m3,0h0m6,0h0m3,0h0m42,0h0m3,0h0m21,0h0m3,0h0m12,0h0M262.5,163.5h0m15,0h0m3,0h0m36,0h0m33,0h0m6,0h0M280.5,166.5h0m72,0h0m3,0h0M283.5,169.5h0m3,0h0m24,0h0m3,0h0m114,0h0m3,0h0M289.5,172.5h0m24,0h0m3,0h0m114,0h0M286.5,178.5h0m3,0h0m6,0h0M289.5,181.5h0M304.5,196.5h0M310.5,199.5h0M301.5,205.5h0m3,0h0M301.5,253.5h0m3,0h0M298.5,256.5h0m3,0h0m3,0h0M304.5,259.5h0M301.5,262.5h0M322.5,274.5h0m3,0h0m3,0h0m3,0h0M322.5,277.5h0m3,0h0m3,0h0m3,0h0m3,0h0M319.5,280.5h0m3,0h0m3,0h0m3,0h0m3,0h0m3,0h0M304.5,283.5h0m3,0h0m3,0h0m3,0h0m3,0h0m3,0h0m3,0h0m3,0h0m3,0h0m3,0h0m3,0h0m3,0h0m3,0h0m33,0h0m3,0h0m3,0h0m3,0h0m3,0h0m3,0h0m3,0h0m3,0h0m3,0h0m3,0h0M307.5,286.5h0m3,0h0m3,0h0m3,0h0m3,0h0m3,0h0m3,0h0m3,0h0m3,0h0m3,0h0m3,0h0m3,0h0m3,0h0m30,0h0m3,0h0m3,0h0m3,0h0m3,0h0m3,0h0m3,0h0m3,0h0m3,0h0m3,0h0m3,0h0m27,0h0M307.5,289.5h0m3,0h0m3,0h0m3,0h0m3,0h0m3,0h0m3,0h0m3,0h0m3,0h0m3,0h0m3,0h0m3,0h0m3,0h0m27,0h0m3,0h0m3,0h0m3,0h0m3,0h0m3,0h0m3,0h0m3,0h0m3,0h0m3,0h0m3,0h0m3,0h0m27,0h0M307.5,292.5h0m3,0h0m3,0h0m3,0h0m3,0h0m3,0h0m3,0h0m3,0h0m3,0h0m3,0h0m3,0h0m3,0h0m3,0h0m3,0h0m3,0h0m18,0h0m3,0h0m3,0h0m3,0h0m3,0h0m3,0h0m3,0h0m3,0h0m3,0h0m3,0h0m3,0h0m3,0h0m3,0h0m3,0h0m3,0h0m15,0h0m3,0h0m3,0h0M310.5,295.5h0m3,0h0m3,0h0m3,0h0m3,0h0m3,0h0m3,0h0m3,0h0m3,0h0m3,0h0m3,0h0m3,0h0m3,0h0m3,0h0m3,0h0m3,0h0m3,0h0m3,0h0m3,0h0m3,0h0m3,0h0m3,0h0m3,0h0m3,0h0m3,0h0m3,0h0m3,0h0m3,0h0m3,0h0m3,0h0m3,0h0m3,0h0m3,0h0m3,0h0m3,0h0m3,0h0m3,0h0m3,0h0m3,0h0m3,0h0m3,0h0M310.5,298.5h0m3,0h0m3,0h0m3,0h0m3,0h0m3,0h0m3,0h0m3,0h0m3,0h0m3,0h0m3,0h0m3,0h0m3,0h0m3,0h0m3,0h0m3,0h0m3,0h0m3,0h0m3,0h0m3,0h0m3,0h0m3,0h0m3,0h0m3,0h0m3,0h0m3,0h0m3,0h0m3,0h0m3,0h0m3,0h0m3,0h0m3,0h0m3,0h0m3,0h0m3,0h0m3,0h0m3,0h0m3,0h0m3,0h0m3,0h0m3,0h0M310.5,301.5h0m3,0h0m3,0h0m3,0h0m3,0h0m3,0h0m3,0h0m3,0h0m3,0h0m3,0h0m3,0h0m3,0h0m3,0h0m3,0h0m3,0h0m3,0h0m3,0h0m3,0h0m3,0h0m3,0h0m3,0h0m3,0h0m3,0h0m3,0h0m3,0h0m3,0h0m3,0h0m3,0h0m3,0h0m3,0h0m3,0h0m3,0h0m3,0h0m3,0h0m3,0h0m3,0h0m3,0h0m3,0h0m3,0h0m3,0h0m3,0h0M313.5,304.5h0m3,0h0m3,0h0m3,0h0m3,0h0m3,0h0m3,0h0m3,0h0m3,0h0m3,0h0m3,0h0m3,0h0m3,0h0m3,0h0m3,0h0m3,0h0m3,0h0m3,0h0m3,0h0m3,0h0m3,0h0m3,0h0m3,0h0m3,0h0m3,0h0m3,0h0m3,0h0m3,0h0m3,0h0m3,0h0m3,0h0m3,0h0m3,0h0m3,0h0m3,0h0m3,0h0m3,0h0m3,0h0m3,0h0m3,0h0M313.5,307.5h0m3,0h0m3,0h0m3,0h0m3,0h0m3,0h0m3,0h0m3,0h0m3,0h0m3,0h0m3,0h0m3,0h0m3,0h0m3,0h0m3,0h0m3,0h0m3,0h0m3,0h0m3,0h0m3,0h0m3,0h0m3,0h0m3,0h0m3,0h0m3,0h0m3,0h0m3,0h0m3,0h0m3,0h0m3,0h0m3,0h0m3,0h0m3,0h0m3,0h0m3,0h0m3,0h0m3,0h0m3,0h0m3,0h0m3,0h0M313.5,310.5h0m3,0h0m3,0h0m3,0h0m3,0h0m3,0h0m3,0h0m3,0h0m3,0h0m3,0h0m3,0h0m3,0h0m3,0h0m3,0h0m3,0h0m3,0h0m3,0h0m3,0h0m3,0h0m3,0h0m3,0h0m3,0h0m3,0h0m3,0h0m3,0h0m3,0h0m3,0h0m3,0h0m3,0h0m3,0h0m3,0h0m3,0h0m3,0h0m3,0h0m3,0h0m3,0h0m3,0h0m3,0h0m3,0h0m3,0h0"/><path stroke="#0000ff" d="M262.5,139.5h0m3,0h0M265.5,142.5h0m126,0h0m3,0h0m3,0h0m3,0h0m3,0h0M388.5,145.5h0m18,0h0M256.5,148.5h0m3,0h0m3,0h0m3,0h0m120,0h0m18,0h0m3,0h0M370.5,151.5h0m3,0h0m3,0h0m3,0h0m3,0h0m3,0h0m12,0h0m3,0h0m6,0h0m3,0h0m3,0h0m3,0h0m3,0h0m3,0h0m3,0h0M367.5,154.5h0m30,0h0m12,0h0m15,0h0M367.5,157.5h0m30,0h0m3,0h0m6,0h0m21,0h0M271.5,160.5h0m54,0h0m3,0h0m3,0h0m3,0h0m3,0h0m3,0h0m21,0h0m3,0h0m63,0h0M265.5,163.5h0m3,0h0m6,0h0m45,0h0m24,0h0m3,0h0m12,0h0m69,0h0M262.5,166.5h0m3,0h0m12,0h0m81,0h0M262.5,169.5h0m15,0h0m3,0h0m72,0h0M283.5,172.5h0m3,0h0M292.5,184.5h0M298.5,205.5h0M301.5,208.5h0M298.5,247.5h0M301.5,250.5h0M319.5,271.5h0m3,0h0m3,0h0m3,0h0m3,0h0m3,0h0M319.5,274.5h0m15,0h0m3,0h0M316.5,277.5h0m3,0h0m18,0h0m3,0h0M304.5,280.5h0m3,0h0m3,0h0m3,0h0m3,0h0m21,0h0m3,0h0m3,0h0m27,0h0m3,0h0m3,0h0m3,0h0m3,0h0m3,0h0m3,0h0m3,0h0m3,0h0m3,0h0m3,0h0m3,0h0m27,0h0M343.5,283.5h0m3,0h0m21,0h0m3,0h0m33,0h0m3,0h0m21,0h0m3,0h0M346.5,286.5h0m3,0h0m18,0h0m3,0h0m36,0h0m3,0h0m18,0h0M346.5,289.5h0m3,0h0m3,0h0m3,0h0m3,0h0m3,0h0m3,0h0m3,0h0m39,0h0m3,0h0m3,0h0m3,0h0m3,0h0m3,0h0m3,0h0m3,0h0M352.5,292.5h0m3,0h0m3,0h0m3,0h0m3,0h0m48,0h0m3,0h0m3,0h0m3,0h0"/><path stroke="#0020ff" d="M259.5,139.5h0M253.5,142.5h0m3,0h0m3,0h0m3,0h0M253.5,145.5h0m3,0h0m3,0h0m3,0h0m3,0h0m126,0h0m3,0h0m3,0h0m3,0h0m3,0h0M388.5,148.5h0m3,0h0m3,0h0m3,0h0m3,0h0M388.5,151.5h0m3,0h0m3,0h0M370.5,154.5h0m3,0h0m3,0h0m3,0h0m3,0h0m3,0h0m3,0h0m3,0h0m3,0h0m18,0h0m3,0h0m3,0h0m3,0h0M370.5,157.5h0m24,0h0m15,0h0m3,0h0m3,0h0m3,0h0m3,0h0m3,0h0M367.5,160.5h0m33,0h0m3,0h0m3,0h0m3,0h0m3,0h0m3,0h0m3,0h0m3,0h0m3,0h0M271.5,163.5h0m51,0h0m3,0h0m15,0h0m21,0h0m3,0h0m48,0h0m3,0h0m3,0h0m3,0h0m3,0h0M268.5,166.5h0m3,0h0m3,0h0m48,0h0m21,0h0m18,0h0m69,0h0M265.5,169.5h0m3,0h0m3,0h0m3,0h0m81,0h0m3,0h0m3,0h0M265.5,172.5h0m3,0h0m3,0h0m3,0h0m3,0h0m3,0h0M265.5,175.5h0m3,0h0m3,0h0m3,0h0m6,0h0m81,0h0M265.5,178.5h0m3,0h0m3,0h0m3,0h0M268.5,181.5h0m3,0h0M268.5,184.5h0m3,0h0M301.5,196.5h0M277.5,205.5h0m3,0h0m3,0h0m3,0h0m3,0h0m3,0h0m3,0h0m12,0h0M277.5,208.5h0m3,0h0m3,0h0m3,0h0m3,0h0m3,0h0m3,0h0m3,0h0m6,0h0M277.5,211.5h0m3,0h0m3,0h0m3,0h0m3,0h0m3,0h0M280.5,214.5h0m3,0h0m3,0h0m3,0h0m3,0h0M301.5,259.5h0M298.5,262.5h0m6,0h0m3,0h0M298.5,265.5h0m3,0h0m3,0h0m3,0h0m3,0h0m3,0h0m3,0h0m3,0h0m3,0h0m3,0h0m3,0h0m3,0h0m3,0h0m3,0h0m3,0h0M298.5,268.5h0m3,0h0m3,0h0m3,0h0m3,0h0m3,0h0m3,0h0m3,0h0m3,0h0m3,0h0m3,0h0m3,0h0m3,0h0m3,0h0m3,0h0M301.5,271.5h0m3,0h0m3,0h0m3,0h0m3,0h0m3,0h0m21,0h0m3,0h0M301.5,274.5h0m3,0h0m3,0h0m3,0h0m3,0h0m3,0h0m24,0h0m33,0h0m3,0h0m3,0h0m3,0h0m3,0h0m3,0h0m3,0h0m3,0h0m3,0h0m3,0h0M301.5,277.5h0m3,0h0m3,0h0m3,0h0m3,0h0m30,0h0m27,0h0m3,0h0m3,0h0m3,0h0m3,0h0m3,0h0m3,0h0m3,0h0m3,0h0m3,0h0m3,0h0m3,0h0m27,0h0M346.5,280.5h0m21,0h0m39,0h0m21,0h0M349.5,283.5h0m15,0h0m45,0h0m15,0h0M352.5,286.5h0m3,0h0m3,0h0m3,0h0m3,0h0m48,0h0m3,0h0m3,0h0m3,0h0m3,0h0"/><path stroke="#0040ff" d="M373.5,157.5h0m3,0h0m3,0h0m3,0h0m3,0h0m3,0h0m3,0h0M370.5,160.5h0m24,0h0m3,0h0M328.5,163.5h0m3,0h0m3,0h0m3,0h0m30,0h0m39,0h0m3,0h0M325.5,166.5h0m15,0h0m24,0h0m39,0h0m3,0h0m6,0h0m3,0h0m3,0h0m3,0h0M364.5,169.5h0m39,0h0m9,0h0m3,0h0m3,0h0m3,0h0m3,0h0M352.5,172.5h0m3,0h0m3,0h0m3,0h0m3,0h0M364.5,175.5h0m3,0h0m3,0h0M277.5,178.5h0m90,0h0m3,0h0M274.5,181.5h0m3,0h0M274.5,184.5h0m9,0h0M268.5,187.5h0m3,0h0m3,0h0M274.5,196.5h0m3,0h0m3,0h0m18,0h0M277.5,199.5h0m9,0h0m6,0h0m12,0h0M277.5,202.5h0m3,0h0m3,0h0m9,0h0M397.5,205.5h0m3,0h0M307.5,208.5h0m81,0h0M295.5,211.5h0m3,0h0m3,0h0m3,0h0M295.5,214.5h0M280.5,217.5h0m3,0h0m3,0h0m3,0h0m3,0h0M280.5,220.5h0m3,0h0m3,0h0M295.5,256.5h0m12,0h0M310.5,259.5h0M310.5,262.5h0m3,0h0m3,0h0m3,0h0m3,0h0m3,0h0m3,0h0m3,0h0m3,0h0m3,0h0m3,0h0M343.5,265.5h0M343.5,268.5h0M343.5,271.5h0m30,0h0m3,0h0m3,0h0m3,0h0m3,0h0M343.5,274.5h0m3,0h0m24,0h0m33,0h0m27,0h0M346.5,277.5h0m3,0h0m18,0h0m39,0h0m21,0h0M349.5,280.5h0m3,0h0m3,0h0m3,0h0m3,0h0m3,0h0m45,0h0m3,0h0m3,0h0m3,0h0m3,0h0m3,0h0M352.5,283.5h0m3,0h0m3,0h0m3,0h0m51,0h0m3,0h0m3,0h0m3,0h0"/><path stroke="#0060ff" d="M373.5,160.5h0m3,0h0m3,0h0m3,0h0m3,0h0m3,0h0m3,0h0M370.5,163.5h0m24,0h0m3,0h0m3,0h0m3,0h0M328.5,166.5h0m9,0h0m30,0h0M325.5,169.5h0m3,0h0m39,0h0M325.5,172.5h0m42,0h0m45,0h0m12,0h0M271.5,190.5h0m33,0h0M391.5,199.5h0M310.5,205.5h0M310.5,208.5h0M307.5,211.5h0M298.5,214.5h0m3,0h0M295.5,217.5h0m3,0h0M289.5,220.5h0m3,0h0m3,0h0M283.5,223.5h0m3,0h0m3,0h0M283.5,226.5h0m3,0h0M328.5,259.5h0m3,0h0m3,0h0m3,0h0M343.5,262.5h0M346.5,265.5h0M346.5,268.5h0m21,0h0m3,0h0m3,0h0m3,0h0m3,0h0m3,0h0m3,0h0m45,0h0M346.5,271.5h0m21,0h0m3,0h0m18,0h0m3,0h0m3,0h0m3,0h0m3,0h0m3,0h0m24,0h0m3,0h0M349.5,274.5h0m15,0h0m3,0h0m39,0h0m3,0h0m15,0h0m3,0h0M352.5,277.5h0m3,0h0m3,0h0m3,0h0m3,0h0m45,0h0m3,0h0m3,0h0m3,0h0m3,0h0m3,0h0"/><path stroke="#0080ff" d="M373.5,163.5h0m3,0h0m3,0h0m3,0h0m3,0h0m3,0h0m3,0h0M331.5,166.5h0m3,0h0m36,0h0m3,0h0m3,0h0m3,0h0m3,0h0m3,0h0m3,0h0m3,0h0m3,0h0m3,0h0m3,0h0m9,0h0M319.5,169.5h0m12,0h0m3,0h0m3,0h0m3,0h0m30,0h0m3,0h0m3,0h0m3,0h0m3,0h0m3,0h0m3,0h0m12,0h0M319.5,172.5h0m3,0h0m6,0h0m3,0h0m3,0h0m3,0h0m9,0h0m3,0h0m21,0h0m3,0h0m3,0h0m3,0h0m3,0h0m3,0h0M322.5,175.5h0m3,0h0m3,0h0m3,0h0m3,0h0m18,0h0m3,0h0m3,0h0m15,0h0m3,0h0m3,0h0m3,0h0M352.5,178.5h0m3,0h0m18,0h0m3,0h0M352.5,181.5h0m12,0h0m3,0h0M370.5,184.5h0M364.5,187.5h0M322.5,190.5h0M322.5,193.5h0m3,0h0m3,0h0m3,0h0M322.5,196.5h0m3,0h0m3,0h0m3,0h0m3,0h0m27,0h0m3,0h0m30,0h0M319.5,199.5h0m3,0h0m3,0h0m3,0h0m3,0h0m3,0h0M304.5,202.5h0m9,0h0m3,0h0m3,0h0m3,0h0m3,0h0m3,0h0m3,0h0m3,0h0m3,0h0m3,0h0m24,0h0m57,0h0m9,0h0M313.5,205.5h0m3,0h0m3,0h0m3,0h0m3,0h0m3,0h0m3,0h0m3,0h0m3,0h0m3,0h0m3,0h0m69,0h0m3,0h0m3,0h0m3,0h0m3,0h0m3,0h0m3,0h0M313.5,208.5h0m3,0h0M310.5,211.5h0m3,0h0M304.5,214.5h0m3,0h0m3,0h0m3,0h0M301.5,217.5h0m3,0h0m3,0h0m3,0h0M298.5,220.5h0m3,0h0m3,0h0M292.5,223.5h0m3,0h0m3,0h0m3,0h0m3,0h0M289.5,226.5h0m3,0h0m3,0h0m3,0h0m3,0h0M286.5,229.5h0m3,0h0m3,0h0m3,0h0M286.5,232.5h0m3,0h0m3,0h0m3,0h0M286.5,235.5h0m3,0h0m3,0h0m3,0h0m126,0h0m3,0h0m3,0h0m3,0h0M289.5,238.5h0m3,0h0m135,0h0m3,0h0M430.5,241.5h0M430.5,244.5h0M328.5,253.5h0m6,0h0M328.5,256.5h0m3,0h0m3,0h0m3,0h0M313.5,259.5h0m3,0h0m3,0h0m3,0h0m3,0h0m15,0h0m3,0h0M346.5,262.5h0m18,0h0m3,0h0m3,0h0m3,0h0m3,0h0m3,0h0m3,0h0M361.5,265.5h0m3,0h0m3,0h0m3,0h0m3,0h0m3,0h0m3,0h0m3,0h0m3,0h0m45,0h0M349.5,268.5h0m12,0h0m3,0h0m24,0h0m3,0h0m3,0h0m3,0h0m3,0h0m3,0h0m24,0h0M349.5,271.5h0m6,0h0m3,0h0m3,0h0m3,0h0m42,0h0m3,0h0m15,0h0M352.5,274.5h0m3,0h0m3,0h0m3,0h0m51,0h0m3,0h0m3,0h0m3,0h0"/><path stroke="#009fff" d="M340.5,172.5h0m60,0h0M313.5,175.5h0m24,0h0m9,0h0m3,0h0M325.5,178.5h0m3,0h0m3,0h0m3,0h0m3,0h0m42,0h0m3,0h0M325.5,181.5h0m3,0h0m3,0h0m48,0h0M316.5,184.5h0m57,0h0m3,0h0M316.5,187.5h0m51,0h0M274.5,190.5h0m42,0h0m9,0h0m3,0h0m3,0h0m3,0h0m27,0h0M271.5,193.5h0m48,0h0m15,0h0m3,0h0m21,0h0m3,0h0M319.5,196.5h0m18,0h0m21,0h0m9,0h0m54,0h0m3,0h0m3,0h0M274.5,199.5h0m39,0h0m3,0h0m21,0h0m3,0h0m3,0h0m15,0h0m3,0h0m51,0h0m3,0h0m9,0h0m3,0h0M343.5,202.5h0m3,0h0m63,0h0M346.5,205.5h0M319.5,208.5h0m3,0h0m3,0h0m3,0h0m3,0h0m3,0h0m3,0h0m3,0h0m3,0h0m69,0h0m3,0h0m3,0h0m3,0h0m3,0h0m3,0h0m3,0h0M316.5,211.5h0m3,0h0m3,0h0m3,0h0m3,0h0m3,0h0m3,0h0m3,0h0m3,0h0m72,0h0m3,0h0m3,0h0m3,0h0m3,0h0m3,0h0m3,0h0M316.5,214.5h0m3,0h0M313.5,217.5h0M307.5,220.5h0m3,0h0m3,0h0M307.5,223.5h0M304.5,226.5h0M298.5,229.5h0m3,0h0m120,0h0m3,0h0m3,0h0m3,0h0M298.5,232.5h0m120,0h0m3,0h0m3,0h0m3,0h0m3,0h0M418.5,235.5h0M301.5,238.5h0m117,0h0m3,0h0m3,0h0M289.5,241.5h0m3,0h0m6,0h0m126,0h0m3,0h0M427.5,244.5h0M331.5,250.5h0m6,0h0M313.5,256.5h0m3,0h0m3,0h0m3,0h0m3,0h0m15,0h0m3,0h0M346.5,259.5h0m15,0h0m3,0h0m3,0h0m3,0h0m3,0h0m3,0h0m3,0h0m3,0h0M349.5,262.5h0m9,0h0m3,0h0m24,0h0m45,0h0M349.5,265.5h0m6,0h0m3,0h0m30,0h0m36,0h0m3,0h0M352.5,268.5h0m3,0h0m3,0h0m48,0h0m3,0h0m3,0h0m3,0h0m3,0h0m3,0h0m3,0h0M352.5,271.5h0m60,0h0m3,0h0m3,0h0m3,0h0"/><path stroke="#00bfff" d="M295.5,169.5h0m3,0h0m3,0h0m3,0h0m39,0h0m3,0h0M304.5,172.5h0m3,0h0m36,0h0M295.5,175.5h0m3,0h0m42,0h0m3,0h0M319.5,178.5h0m3,0h0m18,0h0m3,0h0m3,0h0m3,0h0m9,0h0m3,0h0M322.5,181.5h0m12,0h0m3,0h0m3,0h0m3,0h0m27,0h0M322.5,184.5h0m3,0h0m3,0h0m3,0h0m3,0h0m3,0h0m3,0h0m18,0h0m3,0h0m6,0h0M322.5,187.5h0m3,0h0m3,0h0m3,0h0m3,0h0m3,0h0m3,0h0m3,0h0m18,0h0M337.5,190.5h0m3,0h0m3,0h0m15,0h0M292.5,193.5h0m3,0h0m45,0h0m3,0h0m3,0h0m9,0h0m9,0h0M286.5,196.5h0m3,0h0m3,0h0m3,0h0m45,0h0m3,0h0m3,0h0m3,0h0m3,0h0m3,0h0M295.5,199.5h0m51,0h0m3,0h0m3,0h0m3,0h0M289.5,202.5h0m60,0h0m3,0h0m3,0h0m3,0h0m3,0h0M349.5,205.5h0m3,0h0m6,0h0m3,0h0m3,0h0m27,0h0m3,0h0m15,0h0M346.5,208.5h0m12,0h0m3,0h0m30,0h0m3,0h0m3,0h0m12,0h0M343.5,211.5h0m39,0h0m6,0h0m3,0h0m3,0h0m3,0h0M322.5,214.5h0m3,0h0m3,0h0m3,0h0m3,0h0m3,0h0m3,0h0m3,0h0m33,0h0m6,0h0m3,0h0m3,0h0m3,0h0m3,0h0m3,0h0m15,0h0m3,0h0m3,0h0m3,0h0m3,0h0m3,0h0m3,0h0M316.5,217.5h0m3,0h0m12,0h0m3,0h0m9,0h0m39,0h0m3,0h0m24,0h0m3,0h0m3,0h0m3,0h0m3,0h0m3,0h0m3,0h0m3,0h0M316.5,220.5h0m15,0h0m51,0h0m27,0h0m3,0h0m3,0h0m3,0h0m3,0h0m3,0h0m3,0h0m3,0h0M310.5,223.5h0m3,0h0m63,0h0m3,0h0m30,0h0m3,0h0m3,0h0m3,0h0m3,0h0m3,0h0m3,0h0m3,0h0M307.5,226.5h0m3,0h0m3,0h0m3,0h0m54,0h0m3,0h0m3,0h0m3,0h0m3,0h0m27,0h0m3,0h0m3,0h0m3,0h0m3,0h0m3,0h0m3,0h0m3,0h0M304.5,229.5h0m3,0h0m63,0h0m3,0h0m3,0h0m3,0h0m3,0h0m27,0h0m3,0h0m3,0h0m3,0h0M301.5,232.5h0m3,0h0m66,0h0m3,0h0m3,0h0m3,0h0m24,0h0m3,0h0m3,0h0m3,0h0m3,0h0M298.5,235.5h0m3,0h0m3,0h0m69,0h0m3,0h0m3,0h0m3,0h0m21,0h0m3,0h0m3,0h0m3,0h0m3,0h0M382.5,238.5h0m21,0h0m3,0h0m3,0h0m3,0h0m3,0h0M361.5,241.5h0m21,0h0m18,0h0m3,0h0m3,0h0m3,0h0m3,0h0m3,0h0m3,0h0m3,0h0M361.5,244.5h0m21,0h0m3,0h0m3,0h0m3,0h0m3,0h0m3,0h0m3,0h0m3,0h0m3,0h0m3,0h0m3,0h0m3,0h0m3,0h0m3,0h0m3,0h0M358.5,247.5h0m3,0h0m21,0h0m39,0h0m3,0h0m3,0h0m3,0h0M304.5,250.5h0m51,0h0m3,0h0m3,0h0m21,0h0m39,0h0m3,0h0M307.5,253.5h0m12,0h0m3,0h0m3,0h0m18,0h0m6,0h0m3,0h0m3,0h0m3,0h0m3,0h0m3,0h0m3,0h0m9,0h0m3,0h0m3,0h0m39,0h0M310.5,256.5h0m36,0h0m3,0h0m3,0h0m3,0h0m3,0h0m3,0h0m3,0h0m3,0h0m3,0h0m3,0h0m3,0h0m3,0h0m3,0h0m39,0h0M307.5,259.5h0m42,0h0m3,0h0m3,0h0m3,0h0m27,0h0m36,0h0m3,0h0M352.5,262.5h0m3,0h0m33,0h0m30,0h0m3,0h0m3,0h0m3,0h0M352.5,265.5h0m39,0h0m3,0h0m3,0h0m3,0h0m3,0h0m3,0h0m3,0h0m3,0h0m3,0h0m3,0h0m3,0h0"/><path stroke="#00dfff" d="M298.5,178.5h0M298.5,181.5h0m21,0h0m27,0h0m3,0h0M343.5,184.5h0m3,0h0M292.5,187.5h0m54,0h0m12,0h0M289.5,190.5h0m6,0h0m6,0h0m45,0h0m3,0h0m6,0h0M349.5,193.5h0m3,0h0M367.5,199.5h0M370.5,202.5h0M370.5,205.5h0m12,0h0m3,0h0m21,0h0M349.5,208.5h0m15,0h0m6,0h0m12,0h0m24,0h0M346.5,211.5h0m3,0h0m60,0h0M346.5,214.5h0m63,0h0M322.5,217.5h0m3,0h0m3,0h0m9,0h0m3,0h0m9,0h0m30,0h0m9,0h0m6,0h0m3,0h0m6,0h0m3,0h0M319.5,220.5h0m9,0h0m6,0h0m3,0h0m36,0h0m3,0h0m3,0h0m6,0h0m3,0h0m15,0h0m3,0h0M316.5,223.5h0m12,0h0m3,0h0m3,0h0m39,0h0m12,0h0m3,0h0M322.5,226.5h0m3,0h0m42,0h0m21,0h0m18,0h0M310.5,229.5h0m15,0h0m3,0h0m36,0h0m3,0h0m21,0h0m3,0h0m15,0h0M307.5,232.5h0m81,0h0m3,0h0m6,0h0m3,0h0M370.5,235.5h0m15,0h0m15,0h0M304.5,238.5h0m69,0h0m3,0h0m3,0h0m6,0h0m3,0h0m9,0h0m3,0h0M304.5,241.5h0m3,0h0m72,0h0m6,0h0m3,0h0m3,0h0m3,0h0m3,0h0M355.5,244.5h0m9,0h0m15,0h0M313.5,247.5h0m3,0h0m6,0h0m18,0h0m15,0h0m9,0h0m3,0h0m12,0h0m6,0h0m3,0h0m3,0h0m3,0h0m3,0h0m3,0h0m3,0h0m3,0h0m3,0h0m3,0h0m3,0h0m3,0h0M319.5,250.5h0m3,0h0m42,0h0m3,0h0m3,0h0m3,0h0m3,0h0m3,0h0m6,0h0m3,0h0m27,0h0m3,0h0m9,0h0m3,0h0M298.5,253.5h0m72,0h0m3,0h0m12,0h0m33,0h0m6,0h0M385.5,256.5h0m33,0h0m6,0h0m3,0h0M295.5,259.5h0m3,0h0m90,0h0m27,0h0m3,0h0m9,0h0m3,0h0M391.5,262.5h0m3,0h0m3,0h0m3,0h0m3,0h0m3,0h0m3,0h0m3,0h0m3,0h0"/><path stroke="#00ffff" d="M349.5,184.5h0M349.5,187.5h0m6,0h0M352.5,190.5h0M406.5,211.5h0M349.5,214.5h0m57,0h0M373.5,217.5h0m3,0h0M322.5,220.5h0m3,0h0m15,0h0M319.5,223.5h0m6,0h0m12,0h0m3,0h0m51,0h0M310.5,232.5h0M367.5,235.5h0m21,0h0m9,0h0M364.5,238.5h0m3,0h0m3,0h0m21,0h0m3,0h0M364.5,241.5h0m3,0h0m3,0h0m3,0h0m3,0h0M367.5,244.5h0m9,0h0M292.5,247.5h0m3,0h0m75,0h0m3,0h0m3,0h0M292.5,250.5h0m3,0h0m96,0h0m3,0h0m3,0h0m3,0h0m3,0h0m3,0h0m3,0h0m3,0h0M295.5,253.5h0m93,0h0m27,0h0m12,0h0m3,0h0M388.5,256.5h0m27,0h0m15,0h0M391.5,259.5h0m3,0h0m3,0h0m3,0h0m3,0h0m3,0h0m3,0h0m3,0h0"/><path stroke="#20ffdf" d="M277.5,175.5h0M280.5,178.5h0m3,0h0m81,0h0M280.5,181.5h0m3,0h0m72,0h0m3,0h0m3,0h0m12,0h0M277.5,184.5h0m3,0h0m72,0h0m3,0h0m9,0h0M277.5,187.5h0m3,0h0m3,0h0m69,0h0M277.5,190.5h0m3,0h0m3,0h0m81,0h0M274.5,193.5h0m3,0h0m3,0h0m3,0h0m3,0h0M283.5,196.5h0M280.5,199.5h0m3,0h0m6,0h0m75,0h0M274.5,202.5h0m12,0h0m81,0h0m27,0h0M367.5,205.5h0m6,0h0m30,0h0M352.5,208.5h0m3,0h0m12,0h0m6,0h0m27,0h0m3,0h0M352.5,211.5h0m3,0h0m15,0h0m3,0h0m3,0h0m24,0h0m3,0h0M352.5,214.5h0m21,0h0m27,0h0m3,0h0M346.5,217.5h0m24,0h0M343.5,220.5h0m27,0h0M322.5,223.5h0m21,0h0m27,0h0M328.5,226.5h0m3,0h0m3,0h0m3,0h0M313.5,229.5h0m3,0h0m15,0h0m3,0h0M313.5,232.5h0m18,0h0m33,0h0m18,0h0m3,0h0M307.5,235.5h0m3,0h0m54,0h0m27,0h0m3,0h0M358.5,244.5h0m12,0h0m3,0h0M391.5,253.5h0m3,0h0m3,0h0m3,0h0m3,0h0m3,0h0m3,0h0m3,0h0M391.5,256.5h0m3,0h0m3,0h0m3,0h0m3,0h0m3,0h0m3,0h0m3,0h0"/><path stroke="#40ffbf" d="M430.5,175.5h0M430.5,178.5h0M376.5,181.5h0M289.5,184.5h0M286.5,187.5h0m3,0h0m81,0h0m3,0h0M286.5,190.5h0m81,0h0m3,0h0m3,0h0M367.5,193.5h0M370.5,196.5h0M370.5,199.5h0m27,0h0M373.5,202.5h0m6,0h0m21,0h0m3,0h0M376.5,205.5h0M367.5,211.5h0M355.5,214.5h0m3,0h0m12,0h0M358.5,217.5h0m3,0h0M349.5,220.5h0m18,0h0M346.5,223.5h0m3,0h0m18,0h0M340.5,226.5h0m3,0h0m3,0h0m3,0h0M322.5,229.5h0m18,0h0m3,0h0m18,0h0m24,0h0M319.5,232.5h0m3,0h0m6,0h0m6,0h0m9,0h0m18,0h0M313.5,235.5h0m9,0h0m6,0h0m6,0h0M322.5,238.5h0M328.5,241.5h0m3,0h0M328.5,244.5h0m6,0h0"/><path stroke="#60ff9f" d="M379.5,190.5h0M373.5,193.5h0M313.5,244.5h0"/><path stroke="#9fff60" d="M316.5,166.5h0M316.5,169.5h0m6,0h0M310.5,172.5h0M304.5,175.5h0m15,0h0M355.5,205.5h0m33,0h0M385.5,208.5h0M379.5,211.5h0m6,0h0M379.5,214.5h0M367.5,232.5h0M352.5,250.5h0"/><path stroke="#bfff40" d="M397.5,172.5h0m6,0h0m6,0h0M307.5,175.5h0m3,0h0m6,0h0m81,0h0m3,0h0m3,0h0m3,0h0M307.5,178.5h0m3,0h0m3,0h0m84,0h0m3,0h0M316.5,181.5h0M376.5,199.5h0M376.5,202.5h0m6,0h0m3,0h0M379.5,205.5h0M376.5,208.5h0m3,0h0M358.5,211.5h0m3,0h0m3,0h0M361.5,214.5h0m3,0h0m3,0h0M364.5,217.5h0m3,0h0M352.5,220.5h0m6,0h0m3,0h0m3,0h0M352.5,223.5h0m3,0h0m3,0h0m3,0h0m3,0h0M361.5,226.5h0m3,0h0M355.5,229.5h0m3,0h0M355.5,232.5h0M346.5,238.5h0m6,0h0M349.5,241.5h0m3,0h0M352.5,244.5h0M349.5,247.5h0m3,0h0"/><path stroke="#dfff20" d="M283.5,175.5h0M406.5,178.5h0M313.5,181.5h0m90,0h0M385.5,196.5h0"/><path stroke="#ffff00" d="M391.5,169.5h0m3,0h0m3,0h0M388.5,172.5h0m3,0h0m3,0h0M388.5,175.5h0M292.5,178.5h0M286.5,181.5h0m6,0h0M286.5,184.5h0M292.5,190.5h0m6,0h0M289.5,193.5h0m9,0h0M421.5,199.5h0M418.5,202.5h0M352.5,217.5h0m3,0h0m45,0h0M346.5,220.5h0m9,0h0M406.5,223.5h0M319.5,226.5h0M319.5,229.5h0m84,0h0M316.5,232.5h0m9,0h0m33,0h0M331.5,235.5h0m27,0h0m3,0h0M295.5,238.5h0m3,0h0m33,0h0m24,0h0m3,0h0m3,0h0M295.5,241.5h0m6,0h0m54,0h0m3,0h0M301.5,247.5h0m30,0h0M298.5,250.5h0m30,0h0m6,0h0M331.5,253.5h0"/><path stroke="#ffdf00" d="M394.5,175.5h0M391.5,178.5h0m3,0h0M394.5,181.5h0M295.5,184.5h0m3,0h0M295.5,187.5h0m3,0h0m3,0h0M424.5,190.5h0M418.5,193.5h0m6,0h0m3,0h0M418.5,196.5h0M397.5,220.5h0m3,0h0M403.5,223.5h0M352.5,226.5h0m3,0h0m3,0h0m36,0h0m3,0h0m3,0h0m3,0h0M346.5,229.5h0m3,0h0m3,0h0M346.5,232.5h0m3,0h0m3,0h0M319.5,235.5h0m6,0h0m12,0h0m9,0h0m3,0h0m3,0h0m3,0h0M316.5,238.5h0m9,0h0m3,0h0m21,0h0M310.5,241.5h0m9,0h0m3,0h0m12,0h0m3,0h0m3,0h0M289.5,244.5h0m3,0h0m3,0h0m3,0h0m3,0h0m3,0h0m3,0h0m3,0h0m6,0h0m15,0h0m6,0h0m3,0h0m9,0h0M310.5,247.5h0m18,0h0m6,0h0"/><path stroke="#ffbf00" d="M385.5,184.5h0M418.5,187.5h0"/><path stroke="#ff8000" d="M424.5,202.5h0m3,0h0M307.5,250.5h0m42,0h0M310.5,253.5h0m3,0h0m3,0h0m21,0h0m3,0h0m6,0h0"/><path stroke="#ff6000" d="M430.5,196.5h0M430.5,199.5h0M337.5,229.5h0M337.5,232.5h0m3,0h0M316.5,235.5h0m24,0h0M307.5,238.5h0m3,0h0m3,0h0m6,0h0m15,0h0m3,0h0m3,0h0M313.5,241.5h0m3,0h0m9,0h0m21,0h0M325.5,244.5h0m21,0h0M304.5,247.5h0m3,0h0m12,0h0m6,0h0m12,0h0m6,0h0m3,0h0M310.5,250.5h0m3,0h0m3,0h0m9,0h0m15,0h0m3,0h0m3,0h0"/><path stroke="#ff4000" d="M343.5,235.5h0M343.5,238.5h0M343.5,241.5h0M319.5,244.5h0m3,0h0m21,0h0"/><path stroke="#ff2000" d="M307.5,202.5h0"/><path stroke="#ff0000" d="M406.5,169.5h0m3,0h0M406.5,172.5h0m21,0h0M385.5,175.5h0M316.5,178.5h0m69,0h0M319.5,184.5h0M319.5,187.5h0M319.5,190.5h0M304.5,193.5h0m3,0h0M307.5,196.5h0m9,0h0M307.5,199.5h0m111,0h0M310.5,202.5h0m87,0h0m9,0h0m6,0h0m3,0h0"/><path stroke="#df0000" d="M415.5,172.5h0m3,0h0m3,0h0M301.5,175.5h0m108,0h0m3,0h0m3,0h0m3,0h0m3,0h0m3,0h0m3,0h0M409.5,178.5h0m12,0h0m3,0h0m3,0h0M310.5,181.5h0m72,0h0m6,0h0m33,0h0m3,0h0m3,0h0m3,0h0M304.5,184.5h0m3,0h0m3,0h0m3,0h0m66,0h0m3,0h0m42,0h0m3,0h0m3,0h0M307.5,187.5h0m3,0h0m3,0h0m63,0h0m3,0h0m3,0h0m33,0h0m6,0h0m3,0h0m3,0h0m3,0h0M307.5,190.5h0m3,0h0m3,0h0m63,0h0m6,0h0m30,0h0m3,0h0m3,0h0m9,0h0m3,0h0M301.5,193.5h0m9,0h0m3,0h0m3,0h0m54,0h0m6,0h0m3,0h0m3,0h0m30,0h0m3,0h0m6,0h0m9,0h0M310.5,196.5h0m3,0h0m60,0h0m3,0h0m3,0h0m3,0h0m15,0h0m3,0h0m3,0h0m3,0h0m3,0h0m3,0h0m3,0h0M373.5,199.5h0m6,0h0m3,0h0m3,0h0m15,0h0m3,0h0m3,0h0m3,0h0M388.5,202.5h0m3,0h0M391.5,217.5h0M382.5,223.5h0"/><path stroke="#bf0000" d="M391.5,175.5h0M301.5,178.5h0m3,0h0m84,0h0m15,0h0m9,0h0m3,0h0m3,0h0M295.5,181.5h0m6,0h0m3,0h0m3,0h0m78,0h0m27,0h0m3,0h0m3,0h0M415.5,184.5h0m3,0h0m3,0h0M385.5,187.5h0m3,0h0m24,0h0M385.5,190.5h0m3,0h0m12,0h0m3,0h0m3,0h0m3,0h0m12,0h0M385.5,193.5h0m3,0h0m9,0h0m3,0h0m3,0h0m3,0h0m3,0h0M388.5,199.5h0m6,0h0M391.5,220.5h0m3,0h0M397.5,223.5h0m3,0h0M385.5,226.5h0M394.5,229.5h0m3,0h0m3,0h0M394.5,232.5h0"/><path stroke="#9f0000" d="M391.5,181.5h0m6,0h0m3,0h0m6,0h0m3,0h0M301.5,184.5h0m87,0h0m3,0h0m3,0h0m3,0h0m3,0h0m3,0h0m3,0h0m3,0h0m3,0h0M304.5,187.5h0m87,0h0m3,0h0m3,0h0m3,0h0m3,0h0m3,0h0m3,0h0M391.5,190.5h0m3,0h0m3,0h0M391.5,193.5h0m3,0h0M388.5,196.5h0m3,0h0M394.5,223.5h0M391.5,226.5h0"/><path d="M427.8,178h6v22.5h-6z" fill="#fff" stroke="none"/><path d="M429.4,177.5V201" stroke="#000" stroke-width="1" stroke-linecap="butt"/><circle cx="405.8" cy="218.6" r="2.4" fill="#b00000" stroke="none"/><circle cx="408.1" cy="215.9" r="2.4" fill="#b00000" stroke="none"/><circle cx="403.2" cy="220.4" r="2.4" fill="#b00000" stroke="none"/><circle cx="413.8" cy="219.9" r="2.4" fill="#b00000" stroke="none"/><circle cx="420.4" cy="222.5" r="2.4" fill="#b00000" stroke="none"/><circle cx="424.3" cy="217.2" r="2.4" fill="#b00000" stroke="none"/><circle cx="431.0" cy="218.6" r="2.4" fill="#b00000" stroke="none"/><circle cx="411.1" cy="233.0" r="2.4" fill="#b00000" stroke="none"/><circle cx="419.1" cy="231.8" r="2.4" fill="#b00000" stroke="none"/><circle cx="425.7" cy="235.7" r="2.4" fill="#b00000" stroke="none"/><circle cx="413.8" cy="242.4" r="2.4" fill="#b00000" stroke="none"/><circle cx="419.1" cy="244.9" r="2.4" fill="#b00000" stroke="none"/><circle cx="431.0" cy="241.0" r="2.4" fill="#b00000" stroke="none"/><circle cx="336.9" cy="209.3" r="2.4" fill="#b00000" stroke="none"/><circle cx="344.8" cy="211.2" r="2.4" fill="#b00000" stroke="none"/><circle cx="374.0" cy="215.9" r="2.4" fill="#b00000" stroke="none"/><circle cx="370.4" cy="213.9" r="2.4" fill="#b00000" stroke="none"/><circle cx="377.3" cy="192.8" r="2.4" fill="#b00000" stroke="none"/><circle cx="428.0" cy="227.8" r="2.4" fill="#b00000" stroke="none"/><circle cx="400.2" cy="235.7" r="2.4" fill="#b00000" stroke="none"/></g>
<use href="#st"/>
</g>
<text class="b t" x="243.9" y="75.8" text-anchor="end">100</text><text class="b r" x="247.3" y="64.8" text-anchor="middle">o</text><text class="b t" x="254.5" y="75.8">W</text>
<text class="b t" x="303.6" y="75.8" text-anchor="end">90</text><text class="b r" x="306.9" y="64.8" text-anchor="middle">o</text><text class="b t" x="314.1" y="75.8">W</text>
<text class="b t" x="366.6" y="75.8" text-anchor="end">80</text><text class="b r" x="369.9" y="64.8" text-anchor="middle">o</text><text class="b t" x="377.1" y="75.8">W</text>
<text class="b t" x="431.9" y="75.8" text-anchor="end">70</text><text class="b r" x="435.3" y="64.8" text-anchor="middle">o</text><text class="b t" x="442.5" y="75.8">W</text>
<text class="b t" x="163.8" y="317.6" text-anchor="end">22</text>
<text class="b r" x="168.2" y="306.3" text-anchor="middle">o</text>
<text class="b t" x="175.2" y="317.6">N</text>
<text class="b t" x="163.8" y="303.8" text-anchor="end">24</text>
<text class="b r" x="168.2" y="292.5" text-anchor="middle">o</text>
<text class="b t" x="175.2" y="303.8">N</text>
<text class="b t" x="163.8" y="289.8" text-anchor="end">26</text>
<text class="b r" x="168.2" y="278.5" text-anchor="middle">o</text>
<text class="b t" x="175.2" y="289.8">N</text>
<text class="b t" x="163.8" y="275.6" text-anchor="end">28</text>
<text class="b r" x="168.2" y="264.3" text-anchor="middle">o</text>
<text class="b t" x="175.2" y="275.6">N</text>
<text class="b t" x="163.8" y="261.1" text-anchor="end">30</text>
<text class="b r" x="168.2" y="249.8" text-anchor="middle">o</text>
<text class="b t" x="175.2" y="261.1">N</text>
<text class="b t" x="163.8" y="246.3" text-anchor="end">32</text>
<text class="b r" x="168.2" y="235.0" text-anchor="middle">o</text>
<text class="b t" x="175.2" y="246.3">N</text>
<text class="b t" x="163.8" y="231.2" text-anchor="end">34</text>
<text class="b r" x="168.2" y="219.9" text-anchor="middle">o</text>
<text class="b t" x="175.2" y="231.2">N</text>
<text class="b t" x="163.8" y="215.8" text-anchor="end">36</text>
<text class="b r" x="168.2" y="204.5" text-anchor="middle">o</text>
<text class="b t" x="175.2" y="215.8">N</text>
<text class="b t" x="163.8" y="199.9" text-anchor="end">38</text>
<text class="b r" x="168.2" y="188.6" text-anchor="middle">o</text>
<text class="b t" x="175.2" y="199.9">N</text>
<text class="b t" x="163.8" y="183.6" text-anchor="end">40</text>
<text class="b r" x="168.2" y="172.3" text-anchor="middle">o</text>
<text class="b t" x="175.2" y="183.6">N</text>
<text class="b t" x="163.8" y="166.8" text-anchor="end">42</text>
<text class="b r" x="168.2" y="155.5" text-anchor="middle">o</text>
<text class="b t" x="175.2" y="166.8">N</text>
<text class="b t" x="163.8" y="149.5" text-anchor="end">44</text>
<text class="b r" x="168.2" y="138.2" text-anchor="middle">o</text>
<text class="b t" x="175.2" y="149.5">N</text>
<text class="b t" x="163.8" y="131.5" text-anchor="end">46</text>
<text class="b r" x="168.2" y="120.2" text-anchor="middle">o</text>
<text class="b t" x="175.2" y="131.5">N</text>
<text class="b t" x="163.8" y="113.0" text-anchor="end">48</text>
<text class="b r" x="168.2" y="101.7" text-anchor="middle">o</text>
<text class="b t" x="175.2" y="113.0">N</text>
<rect x="443.9" y="95.5" width="23" height="216.4" fill="url(#jet)" stroke="#000" stroke-width="1"/>
<path d="M466.9,203.2h-2.6" stroke="#111" stroke-width="1"/>
<text class="b c" x="475.5" y="102.3">100</text>
<text class="b c" x="475.5" y="209.8">50</text>
<text class="b c" x="475.5" y="317.6">0</text>
<text class="b l" x="139.8" y="342.8">SAT 250 hPa RH (Percent)</text>
</g>
<g transform="translate(0.00,390.00)">
<g transform="translate(196.40,96.90) scale(1,1) translate(-196.40,-96.90)">
<rect x="196.4" y="96.9" width="233.0" height="212.2" fill="#fff" stroke="#000" stroke-width="1"/>
<g clip-path="url(#sw)" fill="none" stroke-width="4.6" stroke-linecap="round"><path stroke="#00009f" d="M331.5,121.5h0m3,0h0m3,0h0m3,0h0m3,0h0M331.5,124.5h0m3,0h0m3,0h0m3,0h0m3,0h0m3,0h0M328.5,127.5h0m3,0h0m3,0h0m3,0h0m3,0h0m3,0h0m3,0h0M325.5,130.5h0m3,0h0m3,0h0m3,0h0m3,0h0m3,0h0m3,0h0m3,0h0M319.5,133.5h0m3,0h0m3,0h0m3,0h0m3,0h0m3,0h0m3,0h0m3,0h0m3,0h0m3,0h0M319.5,136.5h0m3,0h0m3,0h0m3,0h0m3,0h0m3,0h0m3,0h0m3,0h0m3,0h0m3,0h0M319.5,139.5h0m3,0h0m3,0h0m3,0h0m3,0h0m3,0h0m3,0h0m3,0h0m3,0h0m3,0h0M319.5,142.5h0m3,0h0m3,0h0m3,0h0m3,0h0m3,0h0m3,0h0m3,0h0m3,0h0m3,0h0M319.5,145.5h0m3,0h0m3,0h0m3,0h0m3,0h0m3,0h0m3,0h0m3,0h0m3,0h0m3,0h0M322.5,148.5h0m3,0h0m3,0h0m3,0h0m3,0h0m3,0h0m3,0h0m3,0h0M334.5,283.5h0m3,0h0m3,0h0M334.5,286.5h0m3,0h0m3,0h0"/><path stroke="#0000bf" d="M415.5,91.5h0m3,0h0m3,0h0m3,0h0m3,0h0m3,0h0M397.5,94.5h0m3,0h0m3,0h0m3,0h0m3,0h0m3,0h0m3,0h0m3,0h0m3,0h0m3,0h0m3,0h0m3,0h0M382.5,97.5h0m3,0h0m3,0h0m3,0h0m3,0h0m3,0h0m3,0h0m3,0h0m3,0h0m3,0h0m3,0h0m3,0h0m3,0h0m3,0h0m3,0h0m3,0h0m3,0h0M370.5,100.5h0m3,0h0m3,0h0m3,0h0m3,0h0m3,0h0m3,0h0m3,0h0m3,0h0m3,0h0m3,0h0m3,0h0m3,0h0m3,0h0m3,0h0m3,0h0m3,0h0m3,0h0m3,0h0m3,0h0m3,0h0M358.5,103.5h0m3,0h0m3,0h0m3,0h0m3,0h0m3,0h0m3,0h0m3,0h0m3,0h0m3,0h0m3,0h0m3,0h0m3,0h0m3,0h0m3,0h0m3,0h0m3,0h0m3,0h0m3,0h0m3,0h0m3,0h0m3,0h0m3,0h0m3,0h0m3,0h0M346.5,106.5h0m3,0h0m3,0h0m3,0h0m3,0h0m3,0h0m3,0h0m3,0h0m3,0h0m3,0h0m3,0h0m3,0h0m3,0h0m3,0h0m3,0h0m3,0h0m3,0h0m3,0h0m3,0h0m3,0h0m3,0h0m3,0h0m3,0h0m3,0h0m3,0h0m3,0h0m3,0h0m3,0h0m3,0h0M337.5,109.5h0m3,0h0m3,0h0m3,0h0m3,0h0m3,0h0m3,0h0m3,0h0m3,0h0m3,0h0m3,0h0m3,0h0m3,0h0m3,0h0m3,0h0m3,0h0m3,0h0m3,0h0m3,0h0m3,0h0m3,0h0m3,0h0m3,0h0m3,0h0m3,0h0m3,0h0m3,0h0m3,0h0m3,0h0m3,0h0m3,0h0m3,0h0M325.5,112.5h0m3,0h0m3,0h0m3,0h0m3,0h0m3,0h0m3,0h0m3,0h0m3,0h0m3,0h0m3,0h0m3,0h0m3,0h0m3,0h0m3,0h0m3,0h0m3,0h0m3,0h0m3,0h0m3,0h0m3,0h0m3,0h0m3,0h0m3,0h0m3,0h0m3,0h0m3,0h0m3,0h0m3,0h0m3,0h0m3,0h0m3,0h0m3,0h0m3,0h0m3,0h0m3,0h0M316.5,115.5h0m3,0h0m3,0h0m3,0h0m3,0h0m3,0h0m3,0h0m3,0h0m3,0h0m3,0h0m3,0h0m3,0h0m3,0h0m3,0h0m3,0h0m3,0h0m3,0h0m3,0h0m3,0h0m3,0h0m3,0h0m3,0h0m3,0h0m3,0h0m3,0h0m3,0h0m3,0h0m3,0h0m3,0h0m3,0h0m3,0h0m3,0h0m3,0h0m3,0h0m3,0h0m3,0h0m3,0h0m3,0h0m3,0h0M307.5,118.5h0m3,0h0m3,0h0m3,0h0m3,0h0m3,0h0m3,0h0m3,0h0m3,0h0m3,0h0m3,0h0m3,0h0m3,0h0m3,0h0m3,0h0m3,0h0m3,0h0m3,0h0m3,0h0m3,0h0m3,0h0m3,0h0m3,0h0m3,0h0m3,0h0m3,0h0m3,0h0m3,0h0m3,0h0m3,0h0m3,0h0m3,0h0m3,0h0m3,0h0m3,0h0m3,0h0m3,0h0m3,0h0m3,0h0m3,0h0m3,0h0m3,0h0M298.5,121.5h0m3,0h0m3,0h0m3,0h0m3,0h0m3,0h0m3,0h0m3,0h0m3,0h0m3,0h0m3,0h0m18,0h0m3,0h0m3,0h0m3,0h0m3,0h0m3,0h0m3,0h0m3,0h0m3,0h0m3,0h0m3,0h0m3,0h0m3,0h0m3,0h0m3,0h0m3,0h0m3,0h0m3,0h0m3,0h0m3,0h0m3,0h0m3,0h0m3,0h0m3,0h0m3,0h0m3,0h0m3,0h0m3,0h0m3,0h0M289.5,124.5h0m3,0h0m3,0h0m3,0h0m3,0h0m3,0h0m3,0h0m3,0h0m3,0h0m3,0h0m3,0h0m3,0h0m3,0h0m3,0h0m21,0h0m3,0h0m3,0h0m3,0h0m3,0h0m3,0h0m3,0h0m3,0h0m3,0h0m3,0h0m3,0h0m3,0h0m3,0h0m3,0h0m3,0h0m3,0h0m3,0h0m3,0h0m3,0h0m3,0h0m3,0h0m3,0h0m3,0h0m3,0h0m3,0h0m3,0h0m3,0h0m3,0h0M283.5,127.5h0m3,0h0m3,0h0m3,0h0m3,0h0m3,0h0m3,0h0m3,0h0m3,0h0m3,0h0m3,0h0m3,0h0m3,0h0m3,0h0m3,0h0m24,0h0m3,0h0m3,0h0m3,0h0m3,0h0m3,0h0m3,0h0m3,0h0m3,0h0m3,0h0m3,0h0m3,0h0m3,0h0m3,0h0m3,0h0m3,0h0m3,0h0m3,0h0m3,0h0m3,0h0m3,0h0m3,0h0m3,0h0m3,0h0m3,0h0m3,0h0m3,0h0m3,0h0M283.5,130.5h0m3,0h0m3,0h0m3,0h0m3,0h0m3,0h0m3,0h0m3,0h0m3,0h0m3,0h0m3,0h0m3,0h0m3,0h0m3,0h0m27,0h0m3,0h0m3,0h0m3,0h0m3,0h0m3,0h0m3,0h0m3,0h0m3,0h0m3,0h0m3,0h0m3,0h0m3,0h0m3,0h0m3,0h0m3,0h0m3,0h0m3,0h0m3,0h0m3,0h0m3,0h0m3,0h0m3,0h0m3,0h0m3,0h0m3,0h0m3,0h0m3,0h0M283.5,133.5h0m3,0h0m3,0h0m3,0h0m3,0h0m3,0h0m3,0h0m3,0h0m3,0h0m3,0h0m3,0h0m3,0h0m33,0h0m3,0h0m3,0h0m3,0h0m3,0h0m3,0h0m3,0h0m3,0h0m3,0h0m3,0h0m3,0h0m3,0h0m3,0h0m3,0h0m3,0h0m3,0h0m3,0h0m3,0h0m3,0h0m3,0h0m3,0h0m3,0h0m3,0h0m3,0h0m3,0h0m3,0h0m3,0h0m3,0h0M283.5,136.5h0m3,0h0m3,0h0m3,0h0m3,0h0m3,0h0m3,0h0m3,0h0m3,0h0m3,0h0m3,0h0m3,0h0m33,0h0m3,0h0m3,0h0m3,0h0m3,0h0m3,0h0m3,0h0m3,0h0m3,0h0m3,0h0m3,0h0m3,0h0m3,0h0m3,0h0m3,0h0m3,0h0m3,0h0m3,0h0m3,0h0m3,0h0m3,0h0m3,0h0m3,0h0m3,0h0m3,0h0m3,0h0m3,0h0m3,0h0M280.5,139.5h0m3,0h0m3,0h0m3,0h0m3,0h0m3,0h0m3,0h0m3,0h0m3,0h0m3,0h0m3,0h0m3,0h0m3,0h0m33,0h0m3,0h0m3,0h0m3,0h0m3,0h0m3,0h0m3,0h0m3,0h0m3,0h0m3,0h0m3,0h0m3,0h0m3,0h0m3,0h0m3,0h0m3,0h0m3,0h0m3,0h0m3,0h0m3,0h0m3,0h0m3,0h0m3,0h0M277.5,142.5h0m3,0h0m3,0h0m3,0h0m3,0h0m3,0h0m3,0h0m3,0h0m3,0h0m3,0h0m3,0h0m3,0h0m3,0h0m3,0h0m33,0h0m3,0h0m3,0h0m3,0h0m3,0h0m3,0h0m3,0h0m3,0h0m3,0h0m3,0h0m3,0h0m3,0h0m3,0h0m3,0h0m3,0h0m3,0h0m3,0h0m3,0h0m3,0h0m3,0h0m3,0h0m3,0h0M271.5,145.5h0m3,0h0m3,0h0m3,0h0m3,0h0m3,0h0m3,0h0m3,0h0m3,0h0m3,0h0m3,0h0m3,0h0m3,0h0m3,0h0m3,0h0m3,0h0m33,0h0m3,0h0m3,0h0m3,0h0m3,0h0m3,0h0m3,0h0m3,0h0m3,0h0m3,0h0m3,0h0m3,0h0m3,0h0m3,0h0m3,0h0m3,0h0m3,0h0m3,0h0m3,0h0m3,0h0m3,0h0m3,0h0M271.5,148.5h0m3,0h0m3,0h0m3,0h0m3,0h0m3,0h0m3,0h0m3,0h0m3,0h0m3,0h0m3,0h0m3,0h0m3,0h0m3,0h0m3,0h0m3,0h0m3,0h0m27,0h0m3,0h0m3,0h0m3,0h0m3,0h0m3,0h0m3,0h0m3,0h0m3,0h0m3,0h0m3,0h0m3,0h0m3,0h0m3,0h0m3,0h0m3,0h0m3,0h0m3,0h0m3,0h0m3,0h0m3,0h0M271.5,151.5h0m3,0h0m3,0h0m3,0h0m3,0h0m3,0h0m3,0h0m3,0h0m3,0h0m3,0h0m3,0h0m3,0h0m3,0h0m3,0h0m3,0h0m3,0h0m3,0h0m3,0h0m3,0h0m3,0h0m3,0h0m3,0h0m3,0h0m3,0h0m3,0h0m3,0h0m3,0h0m3,0h0m3,0h0m3,0h0m3,0h0m3,0h0m3,0h0m3,0h0m3,0h0m3,0h0m3,0h0m3,0h0m3,0h0m3,0h0m3,0h0m3,0h0m3,0h0m3,0h0m3,0h0M271.5,154.5h0m3,0h0m3,0h0m3,0h0m3,0h0m3,0h0m3,0h0m3,0h0m3,0h0m3,0h0m3,0h0m3,0h0m3,0h0m3,0h0m3,0h0m3,0h0m3,0h0m3,0h0m3,0h0m3,0h0m3,0h0m3,0h0m3,0h0m3,0h0m3,0h0m3,0h0m3,0h0m3,0h0m3,0h0m3,0h0m3,0h0m3,0h0m3,0h0m3,0h0m3,0h0m3,0h0m3,0h0m3,0h0m3,0h0m3,0h0m3,0h0m3,0h0m3,0h0m3,0h0m3,0h0M271.5,157.5h0m3,0h0m3,0h0m3,0h0m3,0h0m3,0h0m3,0h0m3,0h0m3,0h0m3,0h0m3,0h0m3,0h0m3,0h0m21,0h0m3,0h0m9,0h0m3,0h0m3,0h0m6,0h0m3,0h0m3,0h0m6,0h0m3,0h0m6,0h0m9,0h0m6,0h0m3,0h0m3,0h0m9,0h0m3,0h0m3,0h0M271.5,160.5h0m3,0h0m3,0h0m3,0h0m3,0h0m3,0h0m3,0h0m3,0h0m3,0h0m3,0h0m3,0h0m3,0h0m27,0h0m27,0h0m6,0h0m9,0h0m6,0h0m3,0h0m18,0h0m9,0h0M271.5,163.5h0m3,0h0m3,0h0m3,0h0m3,0h0m3,0h0m3,0h0m3,0h0m3,0h0m3,0h0m3,0h0m3,0h0M271.5,166.5h0m3,0h0m3,0h0m3,0h0m3,0h0m12,0h0m3,0h0m3,0h0m3,0h0m3,0h0M268.5,169.5h0m3,0h0m3,0h0m21,0h0m9,0h0M265.5,172.5h0m3,0h0m3,0h0m3,0h0m21,0h0M265.5,175.5h0m3,0h0m3,0h0M265.5,178.5h0m6,0h0m3,0h0M271.5,181.5h0M331.5,280.5h0m3,0h0m3,0h0m3,0h0m3,0h0m3,0h0M328.5,283.5h0m3,0h0m12,0h0m3,0h0M328.5,286.5h0m3,0h0m12,0h0m3,0h0M331.5,289.5h0m3,0h0m3,0h0m3,0h0m3,0h0m3,0h0"/><path stroke="#0000df" d="M280.5,130.5h0M280.5,133.5h0M280.5,136.5h0M277.5,139.5h0m141,0h0m3,0h0M271.5,142.5h0m3,0h0m141,0h0m3,0h0M415.5,145.5h0M409.5,148.5h0m3,0h0M406.5,151.5h0m3,0h0M406.5,154.5h0M268.5,157.5h0m42,0h0m3,0h0m3,0h0m3,0h0m3,0h0M268.5,160.5h0m39,0h0m3,0h0m30,0h0m3,0h0M265.5,163.5h0m3,0h0m39,0h0m24,0h0m12,0h0m21,0h0M262.5,166.5h0m3,0h0m3,0h0m18,0h0m3,0h0m3,0h0M262.5,169.5h0m3,0h0m12,0h0m3,0h0M277.5,172.5h0M274.5,181.5h0M268.5,184.5h0m3,0h0M322.5,274.5h0m3,0h0m3,0h0m3,0h0m3,0h0m3,0h0m3,0h0m3,0h0m3,0h0m3,0h0m3,0h0M322.5,277.5h0m3,0h0m3,0h0m3,0h0m3,0h0m3,0h0m3,0h0m3,0h0m3,0h0m3,0h0m3,0h0M322.5,280.5h0m3,0h0m3,0h0m21,0h0m3,0h0m3,0h0M316.5,283.5h0m3,0h0m3,0h0m3,0h0m24,0h0m3,0h0m3,0h0m3,0h0m3,0h0M307.5,286.5h0m3,0h0m3,0h0m3,0h0m3,0h0m3,0h0m3,0h0m24,0h0m3,0h0m3,0h0m3,0h0m3,0h0m3,0h0m3,0h0m3,0h0m3,0h0M307.5,289.5h0m3,0h0m3,0h0m3,0h0m3,0h0m3,0h0m3,0h0m3,0h0m21,0h0m3,0h0m3,0h0m3,0h0m3,0h0m3,0h0m3,0h0m3,0h0m3,0h0M307.5,292.5h0m3,0h0m3,0h0m3,0h0m3,0h0m3,0h0m3,0h0m3,0h0m3,0h0m3,0h0m3,0h0m3,0h0m3,0h0m3,0h0m3,0h0m3,0h0m3,0h0m3,0h0m3,0h0m3,0h0m3,0h0m3,0h0m3,0h0m3,0h0M310.5,295.5h0m3,0h0m3,0h0m3,0h0m3,0h0m3,0h0m3,0h0m3,0h0m3,0h0m3,0h0m3,0h0m3,0h0m3,0h0m3,0h0m3,0h0m3,0h0m3,0h0m3,0h0m3,0h0m3,0h0m3,0h0m3,0h0m3,0h0m3,0h0m3,0h0M310.5,298.5h0m3,0h0m3,0h0m3,0h0m3,0h0m3,0h0m3,0h0m3,0h0m3,0h0m3,0h0m3,0h0m3,0h0m3,0h0m3,0h0m3,0h0m3,0h0m3,0h0m3,0h0m3,0h0m3,0h0m3,0h0m3,0h0m3,0h0m3,0h0m3,0h0M310.5,301.5h0m3,0h0m3,0h0m3,0h0m3,0h0m3,0h0m3,0h0m3,0h0m3,0h0m3,0h0m3,0h0m3,0h0m3,0h0m3,0h0m3,0h0m3,0h0m3,0h0m3,0h0m3,0h0m3,0h0m3,0h0m3,0h0m3,0h0m3,0h0m3,0h0m3,0h0M313.5,304.5h0m3,0h0m3,0h0m3,0h0m3,0h0m3,0h0m3,0h0m3,0h0m3,0h0m3,0h0m3,0h0m3,0h0m3,0h0m3,0h0m3,0h0m3,0h0m3,0h0m3,0h0m3,0h0m3,0h0m3,0h0m3,0h0m3,0h0m3,0h0m3,0h0m3,0h0m3,0h0m3,0h0m3,0h0m3,0h0m3,0h0M313.5,307.5h0m3,0h0m3,0h0m3,0h0m3,0h0m3,0h0m3,0h0m3,0h0m3,0h0m3,0h0m3,0h0m3,0h0m3,0h0m3,0h0m3,0h0m3,0h0m3,0h0m3,0h0m3,0h0m3,0h0m3,0h0m3,0h0m3,0h0m3,0h0m3,0h0m3,0h0m3,0h0m3,0h0m3,0h0m3,0h0m3,0h0M313.5,310.5h0m3,0h0m3,0h0m3,0h0m3,0h0m3,0h0m3,0h0m3,0h0m3,0h0m3,0h0m3,0h0m3,0h0m3,0h0m3,0h0m3,0h0m3,0h0m3,0h0m3,0h0m3,0h0m3,0h0m3,0h0m3,0h0m3,0h0m3,0h0m3,0h0m3,0h0m3,0h0m3,0h0m3,0h0m3,0h0m3,0h0"/><path stroke="#0000ff" d="M277.5,130.5h0M277.5,133.5h0M274.5,136.5h0m3,0h0M271.5,139.5h0m3,0h0m150,0h0m3,0h0m3,0h0M268.5,142.5h0m153,0h0M268.5,145.5h0m150,0h0M268.5,148.5h0m147,0h0M268.5,151.5h0m144,0h0M268.5,154.5h0m141,0h0M265.5,157.5h0M262.5,160.5h0m3,0h0m48,0h0m3,0h0M262.5,163.5h0m48,0h0M283.5,169.5h0m3,0h0m3,0h0M280.5,172.5h0M322.5,271.5h0m3,0h0m3,0h0m3,0h0m3,0h0m3,0h0m3,0h0m3,0h0m3,0h0m3,0h0m3,0h0M319.5,274.5h0m36,0h0M316.5,277.5h0m3,0h0m36,0h0m3,0h0M310.5,280.5h0m3,0h0m3,0h0m3,0h0m39,0h0m3,0h0m3,0h0m3,0h0m3,0h0m3,0h0M304.5,283.5h0m3,0h0m3,0h0m3,0h0m51,0h0m3,0h0m3,0h0m3,0h0m3,0h0M376.5,286.5h0m3,0h0M376.5,289.5h0m3,0h0m3,0h0M379.5,292.5h0m3,0h0m3,0h0M385.5,295.5h0m3,0h0M385.5,298.5h0m3,0h0m3,0h0M388.5,301.5h0m3,0h0m3,0h0m3,0h0m3,0h0m3,0h0m3,0h0M406.5,304.5h0M406.5,307.5h0M406.5,310.5h0"/><path stroke="#0020ff" d="M268.5,133.5h0m3,0h0m3,0h0M265.5,136.5h0m3,0h0m3,0h0M259.5,139.5h0m3,0h0m3,0h0m3,0h0M253.5,142.5h0m3,0h0m3,0h0m3,0h0m3,0h0m159,0h0m3,0h0m3,0h0M253.5,145.5h0m3,0h0m3,0h0m3,0h0m3,0h0m156,0h0M256.5,148.5h0m3,0h0m3,0h0m3,0h0m153,0h0M256.5,151.5h0m3,0h0m3,0h0m3,0h0m150,0h0M256.5,154.5h0m3,0h0m3,0h0m3,0h0m147,0h0M259.5,157.5h0m3,0h0M259.5,160.5h0m60,0h0m3,0h0M313.5,163.5h0M310.5,166.5h0M292.5,169.5h0M283.5,172.5h0m3,0h0M274.5,175.5h0m6,0h0m3,0h0M277.5,205.5h0m3,0h0m3,0h0m3,0h0m3,0h0m3,0h0m3,0h0M277.5,208.5h0m3,0h0m3,0h0m3,0h0m3,0h0m3,0h0M277.5,211.5h0m3,0h0m3,0h0m3,0h0m3,0h0m3,0h0M280.5,214.5h0m3,0h0m3,0h0m3,0h0m3,0h0M322.5,265.5h0m3,0h0m3,0h0m3,0h0m3,0h0m3,0h0m3,0h0m3,0h0m3,0h0m3,0h0m3,0h0M322.5,268.5h0m3,0h0m3,0h0m3,0h0m3,0h0m3,0h0m3,0h0m3,0h0m3,0h0m3,0h0m3,0h0m3,0h0M319.5,271.5h0m36,0h0m3,0h0M313.5,274.5h0m3,0h0m42,0h0m3,0h0M307.5,277.5h0m3,0h0m3,0h0m48,0h0m3,0h0m3,0h0m3,0h0m3,0h0M304.5,280.5h0m3,0h0m69,0h0M379.5,283.5h0M382.5,286.5h0m3,0h0m3,0h0m3,0h0M385.5,289.5h0m3,0h0m3,0h0M388.5,292.5h0m3,0h0M391.5,295.5h0m3,0h0m3,0h0m3,0h0m3,0h0m3,0h0m3,0h0m3,0h0M394.5,298.5h0m3,0h0m3,0h0m3,0h0m3,0h0m3,0h0m3,0h0M409.5,301.5h0m3,0h0M409.5,304.5h0m3,0h0m3,0h0m15,0h0M409.5,307.5h0m3,0h0m3,0h0m3,0h0m3,0h0m3,0h0m3,0h0m3,0h0M409.5,310.5h0m3,0h0m3,0h0m3,0h0m3,0h0m3,0h0m3,0h0m3,0h0"/><path stroke="#0040ff" d="M424.5,145.5h0m3,0h0m3,0h0M421.5,148.5h0m3,0h0M418.5,151.5h0M415.5,154.5h0M418.5,157.5h0M403.5,160.5h0m3,0h0M316.5,163.5h0m3,0h0m90,0h0M316.5,166.5h0M307.5,169.5h0m9,0h0M289.5,172.5h0m3,0h0M283.5,178.5h0m3,0h0M280.5,181.5h0m6,0h0M298.5,187.5h0M301.5,190.5h0m3,0h0M301.5,193.5h0m3,0h0m3,0h0m15,0h0m3,0h0M298.5,196.5h0m3,0h0m3,0h0m18,0h0m3,0h0M277.5,199.5h0m21,0h0m3,0h0m3,0h0M274.5,202.5h0m3,0h0m3,0h0m9,0h0m3,0h0m3,0h0m3,0h0m3,0h0m3,0h0m84,0h0M298.5,205.5h0m3,0h0m3,0h0m87,0h0m3,0h0M295.5,208.5h0m3,0h0m3,0h0m93,0h0m36,0h0M295.5,211.5h0m3,0h0m132,0h0M295.5,214.5h0m135,0h0M280.5,217.5h0m3,0h0m3,0h0m3,0h0m3,0h0M280.5,220.5h0m3,0h0m3,0h0M346.5,262.5h0m3,0h0m3,0h0M319.5,265.5h0m36,0h0M316.5,268.5h0m3,0h0m39,0h0M313.5,271.5h0m3,0h0m45,0h0m3,0h0m3,0h0m3,0h0m3,0h0M307.5,274.5h0m3,0h0m54,0h0m3,0h0m3,0h0m3,0h0m3,0h0M301.5,277.5h0m3,0h0m72,0h0m3,0h0M379.5,280.5h0m3,0h0M382.5,283.5h0m3,0h0m3,0h0m3,0h0m3,0h0M394.5,286.5h0m3,0h0M394.5,289.5h0m3,0h0m3,0h0M394.5,292.5h0m3,0h0m3,0h0m3,0h0m3,0h0m3,0h0M415.5,295.5h0m15,0h0M415.5,298.5h0m3,0h0m9,0h0m3,0h0M415.5,301.5h0m3,0h0m3,0h0m3,0h0m3,0h0m3,0h0M418.5,304.5h0m3,0h0m3,0h0m3,0h0"/><path stroke="#0060ff" d="M427.5,148.5h0m3,0h0M421.5,151.5h0m3,0h0M418.5,154.5h0m3,0h0M322.5,163.5h0M322.5,187.5h0M319.5,190.5h0m3,0h0m3,0h0m3,0h0M298.5,193.5h0m18,0h0m3,0h0m9,0h0M277.5,196.5h0m6,0h0m3,0h0m21,0h0m3,0h0m6,0h0m3,0h0m9,0h0M280.5,199.5h0m6,0h0m3,0h0m18,0h0m3,0h0m9,0h0m3,0h0m3,0h0m69,0h0m3,0h0M307.5,202.5h0m3,0h0m12,0h0M307.5,205.5h0m3,0h0m78,0h0M304.5,208.5h0m3,0h0m84,0h0m36,0h0M301.5,211.5h0m3,0h0M298.5,214.5h0M295.5,217.5h0m3,0h0m129,0h0m3,0h0M289.5,220.5h0m3,0h0m3,0h0M283.5,223.5h0m3,0h0m3,0h0M283.5,226.5h0M349.5,259.5h0m3,0h0m3,0h0M319.5,262.5h0m3,0h0m3,0h0m3,0h0m3,0h0m3,0h0m3,0h0m3,0h0m3,0h0m12,0h0m3,0h0M316.5,265.5h0m42,0h0m3,0h0M304.5,268.5h0m3,0h0m3,0h0m3,0h0m48,0h0m3,0h0m3,0h0m3,0h0m3,0h0M301.5,271.5h0m3,0h0m3,0h0m3,0h0m66,0h0M301.5,274.5h0m3,0h0m75,0h0M382.5,277.5h0m3,0h0m3,0h0m3,0h0M385.5,280.5h0m3,0h0m3,0h0m3,0h0M397.5,283.5h0M400.5,286.5h0M403.5,289.5h0m3,0h0m21,0h0m3,0h0M412.5,292.5h0m3,0h0m3,0h0m9,0h0m3,0h0M418.5,295.5h0m9,0h0M421.5,298.5h0m3,0h0"/><path stroke="#0080ff" d="M427.5,151.5h0m3,0h0M424.5,154.5h0M325.5,160.5h0m3,0h0m90,0h0M418.5,163.5h0M319.5,166.5h0m3,0h0m3,0h0m3,0h0M319.5,169.5h0m6,0h0M298.5,172.5h0m3,0h0M286.5,175.5h0m6,0h0m3,0h0m3,0h0m3,0h0M292.5,178.5h0m3,0h0m3,0h0M322.5,181.5h0m6,0h0m3,0h0m3,0h0m12,0h0m3,0h0M322.5,184.5h0m3,0h0m3,0h0m9,0h0m3,0h0m3,0h0m3,0h0m15,0h0m3,0h0M319.5,187.5h0m6,0h0m3,0h0m3,0h0m3,0h0m3,0h0m3,0h0m3,0h0m18,0h0m3,0h0M316.5,190.5h0m15,0h0m3,0h0m3,0h0m3,0h0m3,0h0m3,0h0m12,0h0m3,0h0m3,0h0m3,0h0M313.5,193.5h0m18,0h0m3,0h0m3,0h0m3,0h0m3,0h0m3,0h0m3,0h0m3,0h0m3,0h0m3,0h0m3,0h0m3,0h0m3,0h0m3,0h0m3,0h0M313.5,196.5h0m18,0h0m3,0h0m3,0h0m3,0h0m3,0h0m3,0h0m3,0h0m3,0h0m3,0h0m3,0h0m3,0h0m3,0h0m3,0h0m3,0h0M313.5,199.5h0m3,0h0m12,0h0m45,0h0m3,0h0M313.5,202.5h0m3,0h0m3,0h0m6,0h0m51,0h0m9,0h0M313.5,205.5h0m3,0h0m3,0h0m3,0h0m60,0h0m3,0h0m12,0h0m3,0h0m3,0h0m3,0h0m3,0h0m3,0h0M310.5,208.5h0m3,0h0m3,0h0m69,0h0m3,0h0m9,0h0m3,0h0m15,0h0M307.5,211.5h0m3,0h0m3,0h0m81,0h0m21,0h0M301.5,214.5h0m3,0h0m3,0h0m3,0h0m3,0h0m102,0h0m3,0h0m3,0h0M301.5,217.5h0m120,0h0m3,0h0M298.5,220.5h0m123,0h0m3,0h0m3,0h0m3,0h0M292.5,223.5h0m3,0h0m126,0h0m3,0h0M286.5,226.5h0m3,0h0m3,0h0m129,0h0m3,0h0m3,0h0M421.5,229.5h0m3,0h0m3,0h0M415.5,232.5h0m3,0h0m3,0h0m3,0h0M412.5,235.5h0m3,0h0m3,0h0m3,0h0M412.5,238.5h0m3,0h0m3,0h0M412.5,241.5h0m3,0h0M412.5,244.5h0M352.5,253.5h0M301.5,256.5h0m3,0h0m45,0h0m3,0h0m3,0h0M301.5,259.5h0m3,0h0m15,0h0m3,0h0m3,0h0m3,0h0m3,0h0m3,0h0m3,0h0m3,0h0m3,0h0m3,0h0m12,0h0M298.5,262.5h0m3,0h0m3,0h0m3,0h0m3,0h0m3,0h0m3,0h0m45,0h0M298.5,265.5h0m3,0h0m3,0h0m3,0h0m3,0h0m3,0h0m51,0h0m3,0h0m3,0h0m3,0h0M298.5,268.5h0m3,0h0m75,0h0M379.5,271.5h0M382.5,274.5h0m3,0h0m3,0h0m3,0h0m3,0h0M394.5,277.5h0m3,0h0M397.5,280.5h0m3,0h0M400.5,283.5h0m3,0h0m21,0h0m3,0h0m3,0h0M403.5,286.5h0m3,0h0m15,0h0m3,0h0m3,0h0m3,0h0M409.5,289.5h0m3,0h0m3,0h0m3,0h0m3,0h0m3,0h0M421.5,292.5h0m3,0h0M421.5,295.5h0m3,0h0"/><path stroke="#009fff" d="M427.5,154.5h0m3,0h0M325.5,175.5h0M322.5,178.5h0M295.5,181.5h0m66,0h0m3,0h0m3,0h0M283.5,184.5h0m75,0h0m9,0h0M316.5,187.5h0m30,0h0m3,0h0m6,0h0m3,0h0m9,0h0m3,0h0M313.5,190.5h0m36,0h0m3,0h0m3,0h0m15,0h0m6,0h0M376.5,193.5h0M376.5,196.5h0m3,0h0M331.5,199.5h0m3,0h0m3,0h0m3,0h0m3,0h0m3,0h0m3,0h0m3,0h0m3,0h0m3,0h0m3,0h0m3,0h0m3,0h0m3,0h0m9,0h0m3,0h0m18,0h0m6,0h0m3,0h0m3,0h0m3,0h0M328.5,202.5h0m3,0h0m51,0h0m21,0h0m3,0h0m9,0h0M325.5,205.5h0m3,0h0m51,0h0m39,0h0m3,0h0M319.5,208.5h0m3,0h0m3,0h0m57,0h0m27,0h0m3,0h0m9,0h0m3,0h0M316.5,211.5h0m3,0h0m3,0h0m63,0h0m3,0h0m3,0h0m30,0h0M316.5,214.5h0m3,0h0M304.5,217.5h0m3,0h0m3,0h0m3,0h0m3,0h0m102,0h0M301.5,220.5h0m3,0h0m3,0h0m3,0h0m3,0h0m105,0h0M298.5,223.5h0m120,0h0m9,0h0m3,0h0M295.5,226.5h0m3,0h0m117,0h0m3,0h0M286.5,229.5h0m3,0h0m3,0h0m3,0h0m117,0h0m3,0h0m3,0h0M286.5,232.5h0m123,0h0m3,0h0M406.5,235.5h0m3,0h0M406.5,238.5h0m3,0h0m12,0h0M406.5,241.5h0m3,0h0m9,0h0m3,0h0M406.5,244.5h0m3,0h0m6,0h0m3,0h0M412.5,247.5h0M352.5,250.5h0m3,0h0M301.5,253.5h0m3,0h0m45,0h0m6,0h0m3,0h0M298.5,256.5h0m9,0h0m3,0h0m33,0h0m3,0h0m12,0h0M295.5,259.5h0m3,0h0m9,0h0m3,0h0m3,0h0m3,0h0m45,0h0m3,0h0m3,0h0m3,0h0m3,0h0M364.5,262.5h0m3,0h0m3,0h0m3,0h0m3,0h0M376.5,265.5h0m3,0h0M379.5,268.5h0m3,0h0m3,0h0m3,0h0m3,0h0M382.5,271.5h0m3,0h0m3,0h0m3,0h0m3,0h0M397.5,274.5h0M400.5,277.5h0M403.5,280.5h0m18,0h0m3,0h0m3,0h0m3,0h0M406.5,283.5h0m12,0h0m3,0h0M409.5,286.5h0m3,0h0m3,0h0m3,0h0"/><path stroke="#00bfff" d="M325.5,157.5h0m9,0h0m3,0h0m24,0h0m9,0h0m6,0h0m3,0h0m6,0h0m12,0h0m3,0h0m12,0h0m3,0h0m9,0h0m3,0h0M334.5,160.5h0m3,0h0m15,0h0m3,0h0m6,0h0m6,0h0m3,0h0m6,0h0m9,0h0m3,0h0m3,0h0m3,0h0m3,0h0m15,0h0M325.5,163.5h0m3,0h0m6,0h0m12,0h0m3,0h0m6,0h0m3,0h0m3,0h0m6,0h0m3,0h0m3,0h0m3,0h0m3,0h0m3,0h0m3,0h0m3,0h0m3,0h0m3,0h0m3,0h0m3,0h0m3,0h0m3,0h0m6,0h0m3,0h0M331.5,166.5h0m21,0h0m6,0h0m3,0h0m3,0h0m3,0h0m3,0h0m3,0h0m3,0h0m3,0h0m3,0h0m3,0h0m3,0h0m3,0h0m3,0h0m3,0h0m3,0h0m3,0h0m3,0h0M331.5,169.5h0m30,0h0m3,0h0m3,0h0m3,0h0m3,0h0m3,0h0m3,0h0m3,0h0m3,0h0m3,0h0m9,0h0m3,0h0m3,0h0m12,0h0M364.5,172.5h0m3,0h0m3,0h0m3,0h0m3,0h0m3,0h0m3,0h0m18,0h0m3,0h0m27,0h0M364.5,175.5h0m3,0h0m3,0h0m3,0h0m3,0h0m3,0h0m24,0h0m3,0h0M268.5,178.5h0m9,0h0m3,0h0m81,0h0m3,0h0m3,0h0m3,0h0m3,0h0m3,0h0M268.5,181.5h0m9,0h0m42,0h0m39,0h0m12,0h0m3,0h0M274.5,184.5h0m3,0h0m72,0h0m3,0h0m3,0h0m15,0h0m3,0h0M310.5,187.5h0m3,0h0m39,0h0M310.5,190.5h0M310.5,193.5h0M373.5,196.5h0m9,0h0m6,0h0m21,0h0m3,0h0M334.5,202.5h0m3,0h0m3,0h0m3,0h0m3,0h0m3,0h0m3,0h0m3,0h0m3,0h0m3,0h0m3,0h0m3,0h0m3,0h0m3,0h0m6,0h0M331.5,205.5h0m3,0h0m3,0h0m3,0h0m3,0h0m3,0h0m3,0h0m3,0h0m3,0h0m3,0h0m3,0h0m3,0h0m6,0h0m3,0h0m3,0h0m48,0h0M328.5,208.5h0m3,0h0m3,0h0m3,0h0m3,0h0m3,0h0m18,0h0m9,0h0m6,0h0m3,0h0m24,0h0m3,0h0M325.5,211.5h0m3,0h0m3,0h0m3,0h0m3,0h0m3,0h0m3,0h0m36,0h0m3,0h0m15,0h0m3,0h0m9,0h0m3,0h0M322.5,214.5h0m3,0h0m3,0h0m3,0h0m3,0h0m3,0h0m3,0h0m3,0h0m39,0h0m3,0h0m3,0h0m3,0h0m21,0h0M319.5,217.5h0m3,0h0m3,0h0m9,0h0m3,0h0m3,0h0m3,0h0m69,0h0m3,0h0M316.5,220.5h0m3,0h0m3,0h0m78,0h0m12,0h0m3,0h0M301.5,223.5h0m3,0h0m3,0h0m3,0h0m3,0h0m3,0h0m3,0h0m3,0h0m87,0h0m3,0h0m3,0h0M301.5,226.5h0m3,0h0m3,0h0m6,0h0m3,0h0m3,0h0m3,0h0m3,0h0m75,0h0m3,0h0m3,0h0m3,0h0m3,0h0m18,0h0M298.5,229.5h0m3,0h0m3,0h0m57,0h0m39,0h0m3,0h0m3,0h0m3,0h0m21,0h0M289.5,232.5h0m3,0h0m3,0h0m3,0h0m3,0h0m12,0h0m48,0h0m39,0h0m3,0h0m3,0h0m21,0h0M286.5,235.5h0m3,0h0m3,0h0m3,0h0m3,0h0m3,0h0m102,0h0m21,0h0M352.5,238.5h0m51,0h0m21,0h0M349.5,241.5h0m3,0h0m9,0h0m3,0h0m15,0h0m6,0h0m18,0h0m21,0h0M346.5,244.5h0m3,0h0m3,0h0m3,0h0m3,0h0m3,0h0m3,0h0m3,0h0m3,0h0m6,0h0m3,0h0m3,0h0m3,0h0m3,0h0m3,0h0m3,0h0m3,0h0m3,0h0m3,0h0m18,0h0m3,0h0m3,0h0m3,0h0M352.5,247.5h0m3,0h0m3,0h0m3,0h0m3,0h0m3,0h0m3,0h0m3,0h0m3,0h0m3,0h0m3,0h0m3,0h0m3,0h0m3,0h0m3,0h0m3,0h0m3,0h0m3,0h0m3,0h0m3,0h0m6,0h0m3,0h0M349.5,250.5h0m9,0h0m3,0h0m3,0h0m3,0h0m3,0h0m3,0h0m3,0h0m3,0h0m3,0h0m3,0h0m3,0h0m3,0h0m3,0h0m3,0h0m3,0h0m3,0h0M298.5,253.5h0m9,0h0m3,0h0m36,0h0m15,0h0m3,0h0m3,0h0m3,0h0m3,0h0m3,0h0m3,0h0m3,0h0m3,0h0m3,0h0m3,0h0m3,0h0m3,0h0m3,0h0m3,0h0M295.5,256.5h0m18,0h0m3,0h0m3,0h0m3,0h0m3,0h0m3,0h0m3,0h0m3,0h0m3,0h0m3,0h0m21,0h0m3,0h0m3,0h0m3,0h0m3,0h0m3,0h0m3,0h0m3,0h0m3,0h0m3,0h0m3,0h0m3,0h0m3,0h0m9,0h0M376.5,259.5h0m3,0h0m3,0h0m3,0h0m3,0h0m3,0h0m3,0h0m9,0h0M379.5,262.5h0m3,0h0m3,0h0m3,0h0m3,0h0M382.5,265.5h0m3,0h0m3,0h0m3,0h0M394.5,268.5h0M397.5,271.5h0m6,0h0m18,0h0M400.5,274.5h0m3,0h0m15,0h0m3,0h0m3,0h0m3,0h0m3,0h0M403.5,277.5h0m18,0h0m3,0h0m3,0h0m3,0h0M406.5,280.5h0m12,0h0M409.5,283.5h0m6,0h0"/><path stroke="#00dfff" d="M430.5,157.5h0M424.5,160.5h0m3,0h0M340.5,166.5h0m15,0h0m54,0h0m3,0h0m9,0h0M355.5,169.5h0m3,0h0m33,0h0m3,0h0m12,0h0m3,0h0m9,0h0M331.5,172.5h0m6,0h0m21,0h0m3,0h0m27,0h0m9,0h0m9,0h0M322.5,175.5h0m39,0h0m24,0h0m3,0h0m39,0h0m3,0h0M358.5,178.5h0m21,0h0m6,0h0m3,0h0m3,0h0m12,0h0m9,0h0m12,0h0m3,0h0m3,0h0M355.5,181.5h0m21,0h0m3,0h0M310.5,184.5h0m66,0h0M274.5,187.5h0m3,0h0M274.5,190.5h0m105,0h0M271.5,193.5h0M346.5,208.5h0m3,0h0m3,0h0m21,0h0M346.5,211.5h0m30,0h0m27,0h0m3,0h0M346.5,214.5h0m24,0h0m9,0h0m30,0h0M328.5,217.5h0m3,0h0m15,0h0m30,0h0m3,0h0m3,0h0m3,0h0m3,0h0m21,0h0M325.5,220.5h0m3,0h0m54,0h0m15,0h0m9,0h0m3,0h0M325.5,223.5h0m9,0h0m51,0h0m15,0h0m3,0h0m3,0h0M310.5,226.5h0M307.5,229.5h0m3,0h0m9,0h0m3,0h0m6,0h0M304.5,232.5h0m3,0h0m12,0h0m3,0h0m3,0h0m30,0h0m9,0h0m30,0h0M304.5,235.5h0m57,0h0m3,0h0m36,0h0M289.5,238.5h0m3,0h0m3,0h0m3,0h0m3,0h0m48,0h0m9,0h0m3,0h0m3,0h0m3,0h0m9,0h0m3,0h0m18,0h0m3,0h0M355.5,241.5h0m3,0h0m9,0h0m3,0h0m12,0h0m12,0h0m3,0h0m3,0h0M349.5,247.5h0m72,0h0m3,0h0M298.5,250.5h0m3,0h0m3,0h0m3,0h0m3,0h0m36,0h0m60,0h0m3,0h0m3,0h0m3,0h0M295.5,253.5h0m18,0h0m3,0h0m3,0h0m3,0h0m3,0h0m3,0h0m3,0h0m3,0h0m3,0h0m3,0h0m3,0h0m63,0h0m24,0h0M400.5,256.5h0m9,0h0m21,0h0M397.5,259.5h0m3,0h0m30,0h0M394.5,262.5h0m3,0h0m33,0h0M394.5,265.5h0m36,0h0M397.5,268.5h0m30,0h0m3,0h0M400.5,271.5h0m9,0h0m3,0h0m6,0h0m6,0h0m3,0h0m3,0h0M406.5,277.5h0m12,0h0M409.5,280.5h0m6,0h0M412.5,283.5h0"/><path stroke="#00ffff" d="M430.5,160.5h0M412.5,169.5h0M355.5,172.5h0m54,0h0M277.5,175.5h0m78,0h0m3,0h0M355.5,178.5h0M310.5,181.5h0m117,0h0m3,0h0M307.5,184.5h0m90,0h0M349.5,211.5h0m3,0h0m21,0h0M349.5,214.5h0m27,0h0m30,0h0M406.5,217.5h0M331.5,220.5h0m72,0h0M328.5,223.5h0M364.5,229.5h0M310.5,232.5h0m57,0h0M307.5,235.5h0m51,0h0m9,0h0m30,0h0M304.5,238.5h0m3,0h0m48,0h0m15,0h0m24,0h0M289.5,241.5h0m3,0h0m3,0h0m3,0h0m3,0h0m3,0h0M298.5,247.5h0m3,0h0m3,0h0m3,0h0m3,0h0m33,0h0m3,0h0m81,0h0m3,0h0M292.5,250.5h0m3,0h0m18,0h0m3,0h0m3,0h0m3,0h0m3,0h0m3,0h0m3,0h0m3,0h0m3,0h0m3,0h0m3,0h0m75,0h0m3,0h0m3,0h0m3,0h0m3,0h0M409.5,253.5h0m18,0h0M427.5,256.5h0M427.5,259.5h0M400.5,262.5h0m27,0h0M397.5,265.5h0m3,0h0m27,0h0M400.5,268.5h0m24,0h0M409.5,277.5h0m3,0h0m3,0h0M412.5,280.5h0"/><path stroke="#20ffdf" d="M349.5,157.5h0m72,0h0M346.5,160.5h0m3,0h0m66,0h0m6,0h0M337.5,163.5h0m3,0h0m12,0h0m69,0h0m3,0h0m3,0h0m3,0h0M313.5,166.5h0m21,0h0m3,0h0m9,0h0m3,0h0m66,0h0m3,0h0m9,0h0m3,0h0M298.5,169.5h0m3,0h0m9,0h0m12,0h0m6,0h0m6,0h0m3,0h0m12,0h0m3,0h0m75,0h0m3,0h0M304.5,172.5h0m3,0h0m3,0h0m18,0h0m6,0h0m18,0h0m60,0h0m3,0h0M304.5,175.5h0m3,0h0m3,0h0m3,0h0m18,0h0m78,0h0M301.5,178.5h0m3,0h0m3,0h0m3,0h0m3,0h0m3,0h0m3,0h0m12,0h0m3,0h0m3,0h0m15,0h0M283.5,181.5h0m6,0h0m9,0h0m3,0h0m3,0h0m3,0h0m6,0h0m3,0h0m21,0h0m15,0h0M280.5,184.5h0m21,0h0m3,0h0m9,0h0m3,0h0m3,0h0m12,0h0M301.5,187.5h0m3,0h0m3,0h0M307.5,190.5h0M367.5,205.5h0M355.5,208.5h0m3,0h0m6,0h0m3,0h0M355.5,211.5h0m3,0h0m9,0h0m3,0h0M352.5,214.5h0m21,0h0m21,0h0m3,0h0m3,0h0m3,0h0M349.5,217.5h0m24,0h0m21,0h0m3,0h0m3,0h0m3,0h0M334.5,220.5h0m3,0h0m36,0h0M331.5,223.5h0m42,0h0M328.5,226.5h0m3,0h0m30,0h0m3,0h0m3,0h0m3,0h0m3,0h0M313.5,229.5h0m3,0h0m42,0h0m9,0h0m3,0h0m3,0h0M358.5,232.5h0m12,0h0m3,0h0m24,0h0M310.5,235.5h0m42,0h0m3,0h0m15,0h0m3,0h0m18,0h0m3,0h0M310.5,238.5h0m63,0h0m18,0h0m36,0h0M307.5,241.5h0m3,0h0m36,0h0m45,0h0m36,0h0M289.5,244.5h0m3,0h0m3,0h0m3,0h0m3,0h0m3,0h0m3,0h0m3,0h0m3,0h0m30,0h0m30,0h0M292.5,247.5h0m3,0h0m18,0h0m3,0h0m3,0h0m3,0h0m3,0h0m3,0h0m3,0h0m3,0h0m3,0h0m3,0h0M412.5,253.5h0m3,0h0m3,0h0m3,0h0m3,0h0M403.5,256.5h0m9,0h0m12,0h0M406.5,259.5h0m18,0h0M403.5,262.5h0m21,0h0M421.5,265.5h0m3,0h0M403.5,268.5h0m18,0h0M406.5,271.5h0M406.5,274.5h0m3,0h0m3,0h0m3,0h0"/><path stroke="#40ffbf" d="M343.5,166.5h0M340.5,169.5h0m3,0h0m78,0h0M319.5,172.5h0m21,0h0m3,0h0m6,0h0M316.5,175.5h0m18,0h0m3,0h0m75,0h0m3,0h0M406.5,178.5h0m3,0h0m6,0h0m3,0h0M412.5,181.5h0M289.5,184.5h0m3,0h0m6,0h0M280.5,187.5h0m3,0h0M283.5,190.5h0m3,0h0m12,0h0M361.5,211.5h0M367.5,214.5h0M352.5,217.5h0m18,0h0M370.5,220.5h0m6,0h0M337.5,223.5h0m12,0h0m15,0h0m3,0h0m3,0h0m6,0h0M355.5,226.5h0m3,0h0m18,0h0M331.5,229.5h0m24,0h0m21,0h0m12,0h0m3,0h0m3,0h0M331.5,232.5h0m45,0h0m12,0h0m3,0h0M313.5,235.5h0m30,0h0m3,0h0m3,0h0m27,0h0m3,0h0M313.5,238.5h0m3,0h0M313.5,241.5h0m3,0h0m3,0h0m24,0h0M316.5,244.5h0m3,0h0m3,0h0m3,0h0m3,0h0m3,0h0m3,0h0m3,0h0m3,0h0M415.5,256.5h0m3,0h0m3,0h0M412.5,259.5h0m6,0h0m3,0h0M421.5,262.5h0M406.5,265.5h0m12,0h0M409.5,268.5h0m3,0h0m3,0h0M415.5,271.5h0"/><path stroke="#60ff9f" d="M418.5,181.5h0M355.5,217.5h0m12,0h0M364.5,220.5h0m3,0h0M361.5,223.5h0M334.5,226.5h0M352.5,232.5h0M316.5,235.5h0M319.5,238.5h0M322.5,241.5h0m3,0h0m3,0h0m3,0h0m3,0h0m3,0h0m3,0h0M415.5,259.5h0M418.5,262.5h0"/><path stroke="#80ff80" d="M358.5,217.5h0m3,0h0m3,0h0M355.5,220.5h0m3,0h0m3,0h0M355.5,223.5h0m3,0h0M337.5,226.5h0M334.5,229.5h0m18,0h0M349.5,232.5h0M319.5,235.5h0M322.5,238.5h0m3,0h0m3,0h0m3,0h0m3,0h0m3,0h0m3,0h0M415.5,262.5h0"/><path stroke="#9fff60" d="M313.5,169.5h0M313.5,172.5h0m3,0h0m69,0h0M289.5,175.5h0m111,0h0M289.5,178.5h0m39,0h0M325.5,181.5h0M427.5,211.5h0M427.5,214.5h0M340.5,226.5h0m9,0h0m3,0h0M337.5,229.5h0m3,0h0m6,0h0m3,0h0M334.5,232.5h0m3,0h0m9,0h0M322.5,235.5h0m105,0h0M388.5,238.5h0M373.5,241.5h0m3,0h0m12,0h0m42,0h0M403.5,265.5h0"/><path stroke="#bfff40" d="M424.5,166.5h0M424.5,169.5h0M322.5,172.5h0m3,0h0m66,0h0m3,0h0m24,0h0m3,0h0m3,0h0m3,0h0M319.5,175.5h0m9,0h0m63,0h0m3,0h0m3,0h0m27,0h0M325.5,178.5h0m69,0h0M292.5,181.5h0m96,0h0M286.5,184.5h0m9,0h0M289.5,187.5h0m3,0h0m3,0h0M289.5,190.5h0m6,0h0M430.5,202.5h0M430.5,205.5h0M364.5,211.5h0M355.5,214.5h0m3,0h0m3,0h0m3,0h0M340.5,220.5h0m3,0h0m3,0h0m3,0h0m3,0h0M340.5,223.5h0m3,0h0m3,0h0m6,0h0M343.5,226.5h0m3,0h0m33,0h0M325.5,229.5h0m18,0h0m36,0h0M316.5,232.5h0m12,0h0m12,0h0m3,0h0m36,0h0m3,0h0m3,0h0m45,0h0M325.5,235.5h0m3,0h0m3,0h0m3,0h0m3,0h0m3,0h0m42,0h0m3,0h0m3,0h0m42,0h0M343.5,238.5h0m3,0h0m36,0h0m3,0h0m45,0h0M409.5,259.5h0M406.5,262.5h0m3,0h0m3,0h0M409.5,265.5h0m3,0h0m3,0h0M406.5,268.5h0m12,0h0"/><path stroke="#dfff20" d="M397.5,181.5h0m27,0h0M421.5,184.5h0M268.5,187.5h0m3,0h0M271.5,190.5h0m21,0h0M292.5,193.5h0M274.5,199.5h0"/><path stroke="#ffff00" d="M346.5,169.5h0M346.5,172.5h0M346.5,175.5h0m3,0h0m3,0h0M340.5,178.5h0m3,0h0m3,0h0m3,0h0M340.5,181.5h0m3,0h0M334.5,184.5h0M277.5,190.5h0M274.5,193.5h0m3,0h0m3,0h0M274.5,196.5h0M391.5,217.5h0M379.5,220.5h0m6,0h0m3,0h0m3,0h0m3,0h0M379.5,223.5h0m18,0h0M397.5,226.5h0M397.5,229.5h0"/><path stroke="#ffdf00" d="M340.5,175.5h0m3,0h0M382.5,223.5h0m6,0h0m3,0h0m3,0h0M382.5,226.5h0m3,0h0m3,0h0m3,0h0m3,0h0M382.5,229.5h0m3,0h0"/><path stroke="#ff8000" d="M382.5,175.5h0M373.5,187.5h0M415.5,205.5h0M418.5,211.5h0m6,0h0M424.5,214.5h0"/><path stroke="#ff6000" d="M382.5,178.5h0M382.5,181.5h0m3,0h0M379.5,184.5h0m3,0h0M376.5,187.5h0m3,0h0M421.5,202.5h0M427.5,205.5h0M418.5,208.5h0"/><path stroke="#ff4000" d="M385.5,184.5h0M382.5,187.5h0M427.5,196.5h0M421.5,199.5h0m3,0h0M424.5,202.5h0"/><path stroke="#ff2000" d="M373.5,190.5h0"/><path stroke="#ff0000" d="M418.5,175.5h0m3,0h0M400.5,178.5h0M286.5,187.5h0m99,0h0M283.5,199.5h0m9,0h0m3,0h0m90,0h0m6,0h0m12,0h0M283.5,202.5h0m3,0h0m111,0h0m3,0h0m9,0h0m3,0h0"/><path stroke="#df0000" d="M421.5,178.5h0M403.5,181.5h0m3,0h0m3,0h0m6,0h0m6,0h0M403.5,184.5h0m3,0h0m3,0h0m3,0h0m3,0h0m3,0h0m6,0h0m3,0h0m3,0h0M388.5,187.5h0m15,0h0m3,0h0m3,0h0m3,0h0m3,0h0m3,0h0m3,0h0m3,0h0m3,0h0m3,0h0M280.5,190.5h0m102,0h0m3,0h0m18,0h0m3,0h0m3,0h0m3,0h0m3,0h0m3,0h0m3,0h0m3,0h0m3,0h0m3,0h0M283.5,193.5h0m3,0h0m3,0h0m6,0h0m84,0h0m3,0h0m3,0h0m18,0h0m3,0h0m3,0h0m3,0h0m3,0h0m3,0h0m3,0h0m3,0h0m3,0h0m3,0h0M280.5,196.5h0m9,0h0m3,0h0m3,0h0m90,0h0m6,0h0m12,0h0m3,0h0m9,0h0m3,0h0m3,0h0m3,0h0m6,0h0M418.5,199.5h0m9,0h0m3,0h0M391.5,202.5h0m3,0h0m24,0h0m9,0h0"/><path stroke="#bf0000" d="M397.5,178.5h0M391.5,181.5h0m9,0h0M391.5,187.5h0m6,0h0m3,0h0M388.5,190.5h0m9,0h0m3,0h0M388.5,193.5h0m9,0h0m3,0h0M388.5,199.5h0"/><path stroke="#9f0000" d="M394.5,181.5h0M388.5,184.5h0m3,0h0m3,0h0m6,0h0M394.5,187.5h0M391.5,190.5h0m3,0h0M391.5,193.5h0m3,0h0M394.5,196.5h0m3,0h0m3,0h0"/><path d="M427.8,178h6v22.5h-6z" fill="#fff" stroke="none"/><path d="M429.4,177.5V201" stroke="#000" stroke-width="1" stroke-linecap="butt"/><polygon fill="#fff" stroke="none" points="398.5,200.0 400.0,194.0 402.0,188.0 404.0,181.0 407.0,176.0 430.0,175.5 433.0,176.0 433.0,198.5 420.0,199.5 410.0,200.0"/><circle cx="410.0" cy="176.7" r="3.1" fill="#d90000" stroke="none"/><circle cx="414.7" cy="179.5" r="3.1" fill="#d90000" stroke="none"/><circle cx="420.0" cy="175.8" r="3.1" fill="#d90000" stroke="none"/><circle cx="408.0" cy="185.5" r="3.1" fill="#d90000" stroke="none"/><circle cx="401.8" cy="184.0" r="3.1" fill="#d90000" stroke="none"/><circle cx="414.4" cy="193.0" r="3.1" fill="#d90000" stroke="none"/><circle cx="425.0" cy="192.7" r="3.1" fill="#d90000" stroke="none"/><circle cx="399.5" cy="194.3" r="3.1" fill="#d90000" stroke="none"/><circle cx="408.0" cy="197.0" r="3.1" fill="#d90000" stroke="none"/><circle cx="425.3" cy="201.3" r="3.1" fill="#d90000" stroke="none"/></g>
<use href="#st"/>
</g>
<text class="b t" x="241.9" y="76.8" text-anchor="end">100</text><text class="b r" x="245.3" y="65.8" text-anchor="middle">o</text><text class="b t" x="252.5" y="76.8">W</text>
<text class="b t" x="303.0" y="76.8" text-anchor="end">90</text><text class="b r" x="306.3" y="65.8" text-anchor="middle">o</text><text class="b t" x="313.5" y="76.8">W</text>
<text class="b t" x="366.4" y="76.8" text-anchor="end">80</text><text class="b r" x="369.8" y="65.8" text-anchor="middle">o</text><text class="b t" x="377.0" y="76.8">W</text>
<text class="b t" x="429.4" y="76.8" text-anchor="end">70</text><text class="b r" x="432.7" y="65.8" text-anchor="middle">o</text><text class="b t" x="439.9" y="76.8">W</text>
<text class="b t" x="163.5" y="313.8" text-anchor="end">22</text>
<text class="b r" x="167.9" y="302.5" text-anchor="middle">o</text>
<text class="b t" x="174.9" y="313.8">N</text>
<text class="b t" x="163.5" y="302.0" text-anchor="end">24</text>
<text class="b r" x="167.9" y="290.7" text-anchor="middle">o</text>
<text class="b t" x="174.9" y="302.0">N</text>
<text class="b t" x="163.5" y="288.1" text-anchor="end">26</text>
<text class="b r" x="167.9" y="276.8" text-anchor="middle">o</text>
<text class="b t" x="174.9" y="288.1">N</text>
<text class="b t" x="163.5" y="274.0" text-anchor="end">28</text>
<text class="b r" x="167.9" y="262.7" text-anchor="middle">o</text>
<text class="b t" x="174.9" y="274.0">N</text>
<text class="b t" x="163.5" y="259.7" text-anchor="end">30</text>
<text class="b r" x="167.9" y="248.4" text-anchor="middle">o</text>
<text class="b t" x="174.9" y="259.7">N</text>
<text class="b t" x="163.5" y="245.0" text-anchor="end">32</text>
<text class="b r" x="167.9" y="233.7" text-anchor="middle">o</text>
<text class="b t" x="174.9" y="245.0">N</text>
<text class="b t" x="163.5" y="230.1" text-anchor="end">34</text>
<text class="b r" x="167.9" y="218.8" text-anchor="middle">o</text>
<text class="b t" x="174.9" y="230.1">N</text>
<text class="b t" x="163.5" y="214.7" text-anchor="end">36</text>
<text class="b r" x="167.9" y="203.4" text-anchor="middle">o</text>
<text class="b t" x="174.9" y="214.7">N</text>
<text class="b t" x="163.5" y="199.0" text-anchor="end">38</text>
<text class="b r" x="167.9" y="187.7" text-anchor="middle">o</text>
<text class="b t" x="174.9" y="199.0">N</text>
<text class="b t" x="163.5" y="182.9" text-anchor="end">40</text>
<text class="b r" x="167.9" y="171.6" text-anchor="middle">o</text>
<text class="b t" x="174.9" y="182.9">N</text>
<text class="b t" x="163.5" y="166.2" text-anchor="end">42</text>
<text class="b r" x="167.9" y="154.9" text-anchor="middle">o</text>
<text class="b t" x="174.9" y="166.2">N</text>
<text class="b t" x="163.5" y="149.0" text-anchor="end">44</text>
<text class="b r" x="167.9" y="137.7" text-anchor="middle">o</text>
<text class="b t" x="174.9" y="149.0">N</text>
<text class="b t" x="163.5" y="131.3" text-anchor="end">46</text>
<text class="b r" x="167.9" y="120.0" text-anchor="middle">o</text>
<text class="b t" x="174.9" y="131.3">N</text>
<text class="b t" x="163.5" y="112.9" text-anchor="end">48</text>
<text class="b r" x="167.9" y="101.6" text-anchor="middle">o</text>
<text class="b t" x="174.9" y="112.9">N</text>
<rect x="441.6" y="95.5" width="23" height="214.4" fill="url(#jet)" stroke="#000" stroke-width="1"/>
<path d="M464.6,203.2h-2.6" stroke="#111" stroke-width="1"/>
<text class="b c" x="473.2" y="102.3">100</text>
<text class="b c" x="473.2" y="209.8">50</text>
<text class="b c" x="473.2" y="317.6">0</text>
<text class="b l" x="139.6" y="340.8">SAT 300 hPa RH (Percent)</text>
</g>
<g transform="translate(420.70,390.00)">
<g transform="translate(196.40,96.90) scale(1,1) translate(-196.40,-96.90)">
<rect x="196.4" y="96.9" width="233.0" height="212.2" fill="#fff" stroke="#000" stroke-width="1"/>
<g clip-path="url(#sw)" fill="none" stroke-width="4.6" stroke-linecap="round"><path stroke="#00009f" d="M331.5,121.5h0m3,0h0m3,0h0m3,0h0m3,0h0M331.5,124.5h0m3,0h0m3,0h0m3,0h0m3,0h0m3,0h0M328.5,127.5h0m3,0h0m3,0h0m3,0h0m3,0h0m3,0h0m3,0h0M325.5,130.5h0m3,0h0m3,0h0m3,0h0m3,0h0m3,0h0m3,0h0m3,0h0M319.5,133.5h0m3,0h0m3,0h0m3,0h0m3,0h0m3,0h0m3,0h0m3,0h0m3,0h0m3,0h0M319.5,136.5h0m3,0h0m3,0h0m3,0h0m3,0h0m3,0h0m3,0h0m3,0h0m3,0h0m3,0h0M319.5,139.5h0m3,0h0m3,0h0m3,0h0m3,0h0m3,0h0m3,0h0m3,0h0m3,0h0m3,0h0M319.5,142.5h0m3,0h0m3,0h0m3,0h0m3,0h0m3,0h0m3,0h0m3,0h0m3,0h0m3,0h0M319.5,145.5h0m3,0h0m3,0h0m3,0h0m3,0h0m3,0h0m3,0h0m3,0h0m3,0h0m3,0h0M322.5,148.5h0m3,0h0m3,0h0m3,0h0m3,0h0m3,0h0m3,0h0m3,0h0"/><path stroke="#0000bf" d="M415.5,91.5h0m3,0h0m3,0h0m3,0h0m3,0h0m3,0h0M397.5,94.5h0m3,0h0m3,0h0m3,0h0m3,0h0m3,0h0m3,0h0m3,0h0m3,0h0m3,0h0m3,0h0m3,0h0M382.5,97.5h0m3,0h0m3,0h0m3,0h0m3,0h0m3,0h0m3,0h0m3,0h0m3,0h0m3,0h0m3,0h0m3,0h0m3,0h0m3,0h0m3,0h0m3,0h0m3,0h0M370.5,100.5h0m3,0h0m3,0h0m3,0h0m3,0h0m3,0h0m3,0h0m3,0h0m3,0h0m3,0h0m3,0h0m3,0h0m3,0h0m3,0h0m3,0h0m3,0h0m3,0h0m3,0h0m3,0h0m3,0h0m3,0h0M358.5,103.5h0m3,0h0m3,0h0m3,0h0m3,0h0m3,0h0m3,0h0m3,0h0m3,0h0m3,0h0m3,0h0m3,0h0m3,0h0m3,0h0m3,0h0m3,0h0m3,0h0m3,0h0m3,0h0m3,0h0m3,0h0m3,0h0m3,0h0m3,0h0m3,0h0M346.5,106.5h0m3,0h0m3,0h0m3,0h0m3,0h0m3,0h0m3,0h0m3,0h0m3,0h0m3,0h0m3,0h0m3,0h0m3,0h0m3,0h0m3,0h0m3,0h0m3,0h0m3,0h0m3,0h0m3,0h0m3,0h0m3,0h0m3,0h0m3,0h0m3,0h0m3,0h0m3,0h0m3,0h0m3,0h0M337.5,109.5h0m3,0h0m3,0h0m3,0h0m3,0h0m3,0h0m3,0h0m3,0h0m3,0h0m3,0h0m3,0h0m3,0h0m3,0h0m3,0h0m3,0h0m3,0h0m3,0h0m3,0h0m3,0h0m3,0h0m3,0h0m3,0h0m3,0h0m3,0h0m3,0h0m3,0h0m3,0h0m3,0h0m3,0h0m3,0h0m3,0h0m3,0h0M325.5,112.5h0m3,0h0m3,0h0m3,0h0m3,0h0m3,0h0m3,0h0m3,0h0m3,0h0m3,0h0m3,0h0m3,0h0m3,0h0m3,0h0m3,0h0m3,0h0m3,0h0m3,0h0m3,0h0m3,0h0m3,0h0m3,0h0m3,0h0m3,0h0m3,0h0m3,0h0m3,0h0m3,0h0m3,0h0m3,0h0m3,0h0m3,0h0m3,0h0m3,0h0m3,0h0m3,0h0M316.5,115.5h0m3,0h0m3,0h0m3,0h0m3,0h0m3,0h0m3,0h0m3,0h0m3,0h0m3,0h0m3,0h0m3,0h0m3,0h0m3,0h0m3,0h0m3,0h0m3,0h0m3,0h0m3,0h0m3,0h0m3,0h0m3,0h0m3,0h0m3,0h0m3,0h0m3,0h0m3,0h0m3,0h0m3,0h0m3,0h0m3,0h0m3,0h0m3,0h0m3,0h0m3,0h0m3,0h0m3,0h0m3,0h0m3,0h0M307.5,118.5h0m3,0h0m3,0h0m3,0h0m3,0h0m3,0h0m3,0h0m3,0h0m3,0h0m3,0h0m3,0h0m3,0h0m3,0h0m3,0h0m3,0h0m3,0h0m3,0h0m3,0h0m3,0h0m3,0h0m3,0h0m3,0h0m3,0h0m3,0h0m3,0h0m3,0h0m3,0h0m3,0h0m3,0h0m3,0h0m3,0h0m3,0h0m3,0h0m3,0h0m3,0h0m3,0h0m3,0h0m3,0h0m3,0h0m3,0h0m3,0h0m3,0h0M298.5,121.5h0m3,0h0m3,0h0m3,0h0m3,0h0m3,0h0m3,0h0m3,0h0m3,0h0m3,0h0m3,0h0m18,0h0m3,0h0m3,0h0m3,0h0m3,0h0m3,0h0m3,0h0m3,0h0m3,0h0m3,0h0m3,0h0m3,0h0m3,0h0m3,0h0m3,0h0m3,0h0m3,0h0m3,0h0m3,0h0m3,0h0m3,0h0m3,0h0m3,0h0m3,0h0m3,0h0m3,0h0m3,0h0m3,0h0m3,0h0M289.5,124.5h0m3,0h0m3,0h0m3,0h0m3,0h0m3,0h0m3,0h0m3,0h0m3,0h0m3,0h0m3,0h0m3,0h0m3,0h0m3,0h0m21,0h0m3,0h0m3,0h0m3,0h0m3,0h0m3,0h0m3,0h0m3,0h0m3,0h0m3,0h0m3,0h0m3,0h0m3,0h0m3,0h0m3,0h0m3,0h0m3,0h0m3,0h0m3,0h0m3,0h0m3,0h0m3,0h0m3,0h0m3,0h0m3,0h0m3,0h0m3,0h0m3,0h0M283.5,127.5h0m3,0h0m3,0h0m3,0h0m3,0h0m3,0h0m3,0h0m3,0h0m3,0h0m3,0h0m3,0h0m3,0h0m3,0h0m3,0h0m3,0h0m24,0h0m3,0h0m3,0h0m3,0h0m3,0h0m3,0h0m3,0h0m3,0h0m3,0h0m3,0h0m3,0h0m3,0h0m3,0h0m3,0h0m3,0h0m3,0h0m3,0h0m3,0h0m3,0h0m3,0h0m3,0h0m3,0h0m3,0h0m3,0h0m3,0h0m3,0h0m3,0h0m3,0h0M283.5,130.5h0m3,0h0m3,0h0m3,0h0m3,0h0m3,0h0m3,0h0m3,0h0m3,0h0m3,0h0m3,0h0m3,0h0m3,0h0m3,0h0m27,0h0m3,0h0m3,0h0m3,0h0m3,0h0m3,0h0m3,0h0m3,0h0m3,0h0m3,0h0m3,0h0m3,0h0m3,0h0m3,0h0m3,0h0m3,0h0m3,0h0m3,0h0m3,0h0m3,0h0m3,0h0m3,0h0m3,0h0m3,0h0m3,0h0m3,0h0m3,0h0m3,0h0M283.5,133.5h0m3,0h0m3,0h0m3,0h0m3,0h0m3,0h0m3,0h0m3,0h0m3,0h0m3,0h0m3,0h0m3,0h0m33,0h0m3,0h0m3,0h0m3,0h0m3,0h0m3,0h0m3,0h0m3,0h0m3,0h0m3,0h0m3,0h0m3,0h0m3,0h0m3,0h0m3,0h0m3,0h0m3,0h0m3,0h0m3,0h0m3,0h0m3,0h0m3,0h0m3,0h0m3,0h0m3,0h0m3,0h0m3,0h0m3,0h0M283.5,136.5h0m3,0h0m3,0h0m3,0h0m3,0h0m3,0h0m3,0h0m3,0h0m3,0h0m3,0h0m3,0h0m3,0h0m33,0h0m3,0h0m3,0h0m3,0h0m3,0h0m3,0h0m3,0h0m3,0h0m3,0h0m3,0h0m3,0h0m3,0h0m3,0h0m3,0h0m3,0h0m3,0h0m3,0h0m3,0h0m3,0h0m3,0h0m3,0h0m3,0h0m3,0h0m3,0h0m3,0h0m3,0h0m3,0h0m3,0h0M280.5,139.5h0m3,0h0m3,0h0m3,0h0m3,0h0m3,0h0m3,0h0m3,0h0m3,0h0m3,0h0m3,0h0m3,0h0m3,0h0m33,0h0m3,0h0m3,0h0m3,0h0m3,0h0m3,0h0m3,0h0m3,0h0m3,0h0m3,0h0m3,0h0m3,0h0m3,0h0m3,0h0m3,0h0m3,0h0m3,0h0m3,0h0m3,0h0m3,0h0m3,0h0m3,0h0m3,0h0m3,0h0m3,0h0m3,0h0m3,0h0m3,0h0M277.5,142.5h0m3,0h0m3,0h0m3,0h0m3,0h0m3,0h0m3,0h0m3,0h0m3,0h0m3,0h0m3,0h0m3,0h0m3,0h0m3,0h0m33,0h0m3,0h0m3,0h0m3,0h0m3,0h0m3,0h0m3,0h0m3,0h0m3,0h0m3,0h0m3,0h0m3,0h0m3,0h0m3,0h0m3,0h0m3,0h0m3,0h0m3,0h0m3,0h0m3,0h0m3,0h0m3,0h0m3,0h0m3,0h0m3,0h0m3,0h0m3,0h0m3,0h0M274.5,145.5h0m3,0h0m3,0h0m3,0h0m3,0h0m3,0h0m3,0h0m3,0h0m3,0h0m3,0h0m3,0h0m3,0h0m3,0h0m3,0h0m3,0h0m33,0h0m3,0h0m3,0h0m3,0h0m3,0h0m3,0h0m3,0h0m3,0h0m3,0h0m3,0h0m3,0h0m3,0h0m3,0h0m3,0h0m3,0h0m3,0h0m3,0h0m3,0h0m3,0h0m3,0h0m3,0h0m3,0h0m3,0h0m3,0h0m3,0h0m3,0h0m3,0h0m3,0h0M274.5,148.5h0m3,0h0m3,0h0m3,0h0m3,0h0m3,0h0m3,0h0m3,0h0m3,0h0m3,0h0m3,0h0m3,0h0m3,0h0m3,0h0m3,0h0m3,0h0m27,0h0m3,0h0m3,0h0m3,0h0m3,0h0m3,0h0m3,0h0m3,0h0m33,0h0m3,0h0m3,0h0m3,0h0m3,0h0m3,0h0M271.5,151.5h0m3,0h0m3,0h0m3,0h0m3,0h0m3,0h0m3,0h0m3,0h0m3,0h0m3,0h0m3,0h0m3,0h0m3,0h0m3,0h0m3,0h0m3,0h0m3,0h0m3,0h0m3,0h0m3,0h0m3,0h0m3,0h0m3,0h0m3,0h0m3,0h0m3,0h0m3,0h0m3,0h0m3,0h0m3,0h0m3,0h0m3,0h0m39,0h0m3,0h0m3,0h0m3,0h0m3,0h0M256.5,154.5h0m3,0h0m3,0h0m3,0h0m3,0h0m3,0h0m3,0h0m3,0h0m3,0h0m3,0h0m3,0h0m3,0h0m3,0h0m3,0h0m3,0h0m3,0h0m3,0h0m3,0h0m3,0h0m3,0h0m3,0h0m3,0h0m3,0h0m3,0h0m3,0h0m3,0h0m3,0h0m3,0h0m3,0h0m3,0h0m3,0h0m3,0h0m3,0h0m3,0h0m3,0h0m3,0h0m3,0h0m39,0h0m3,0h0m3,0h0m3,0h0M259.5,157.5h0m3,0h0m3,0h0m3,0h0m3,0h0m3,0h0m3,0h0m3,0h0m3,0h0m3,0h0m3,0h0m3,0h0m3,0h0m3,0h0m3,0h0m3,0h0m3,0h0m3,0h0m3,0h0m3,0h0m3,0h0M259.5,160.5h0m3,0h0m3,0h0m3,0h0m3,0h0m3,0h0m3,0h0m3,0h0m3,0h0m3,0h0m3,0h0m3,0h0m3,0h0m3,0h0m3,0h0m3,0h0m3,0h0m3,0h0m3,0h0M262.5,163.5h0m3,0h0m3,0h0m3,0h0m3,0h0m3,0h0m3,0h0m3,0h0m3,0h0m3,0h0m3,0h0m3,0h0m3,0h0m3,0h0m3,0h0m3,0h0m3,0h0m3,0h0M262.5,166.5h0m3,0h0m3,0h0m3,0h0m3,0h0m3,0h0m3,0h0m3,0h0m3,0h0m3,0h0m3,0h0m3,0h0m3,0h0m6,0h0m3,0h0m3,0h0m3,0h0m3,0h0m3,0h0M262.5,169.5h0m3,0h0m3,0h0m3,0h0m3,0h0m3,0h0m3,0h0m3,0h0m3,0h0m3,0h0m3,0h0m12,0h0m3,0h0M265.5,172.5h0m3,0h0m3,0h0m3,0h0m3,0h0m3,0h0m3,0h0m3,0h0m3,0h0m3,0h0M265.5,175.5h0m3,0h0m3,0h0m3,0h0m3,0h0m3,0h0m3,0h0m3,0h0m3,0h0m3,0h0M265.5,178.5h0m3,0h0m3,0h0m3,0h0m3,0h0m3,0h0m3,0h0m3,0h0m102,0h0M268.5,181.5h0m3,0h0m3,0h0m3,0h0m3,0h0m3,0h0m108,0h0M268.5,184.5h0m3,0h0m3,0h0m3,0h0m3,0h0m3,0h0m108,0h0M268.5,187.5h0m3,0h0m3,0h0m117,0h0m3,0h0M391.5,190.5h0m3,0h0m3,0h0m3,0h0M391.5,193.5h0m3,0h0m3,0h0M391.5,196.5h0"/><path stroke="#0000df" d="M280.5,130.5h0M280.5,133.5h0M280.5,136.5h0M277.5,139.5h0M274.5,142.5h0M271.5,145.5h0M271.5,148.5h0m99,0h0m3,0h0m3,0h0m3,0h0m3,0h0m3,0h0m3,0h0m3,0h0m3,0h0m3,0h0m21,0h0m3,0h0m3,0h0M268.5,151.5h0m99,0h0m30,0h0m3,0h0m18,0h0M367.5,154.5h0m33,0h0m15,0h0M322.5,157.5h0m3,0h0m3,0h0m3,0h0m3,0h0m3,0h0m3,0h0m3,0h0m3,0h0m3,0h0m3,0h0m3,0h0m3,0h0m3,0h0m3,0h0m39,0h0m3,0h0m3,0h0m3,0h0M316.5,160.5h0m3,0h0M316.5,163.5h0M301.5,166.5h0M295.5,169.5h0m3,0h0M295.5,172.5h0M295.5,175.5h0M289.5,178.5h0m3,0h0M286.5,181.5h0m3,0h0M286.5,184.5h0M277.5,187.5h0m3,0h0m3,0h0M271.5,190.5h0m3,0h0m3,0h0M271.5,193.5h0m114,0h0M394.5,196.5h0M301.5,256.5h0m3,0h0M301.5,259.5h0m3,0h0M298.5,262.5h0m3,0h0m3,0h0m3,0h0m3,0h0M298.5,265.5h0m3,0h0m3,0h0m3,0h0m3,0h0m3,0h0m3,0h0m3,0h0m3,0h0m3,0h0m3,0h0m3,0h0m3,0h0m3,0h0m3,0h0m3,0h0m3,0h0m3,0h0m3,0h0M298.5,268.5h0m3,0h0m3,0h0m15,0h0m3,0h0m3,0h0m3,0h0m3,0h0m3,0h0m3,0h0m3,0h0m3,0h0m3,0h0m3,0h0m3,0h0M322.5,271.5h0m3,0h0m3,0h0m3,0h0m3,0h0m3,0h0m3,0h0m3,0h0m3,0h0m3,0h0m3,0h0M322.5,274.5h0m3,0h0m3,0h0m3,0h0m3,0h0m3,0h0m3,0h0m3,0h0m3,0h0m3,0h0m3,0h0M349.5,277.5h0m3,0h0M352.5,280.5h0M352.5,283.5h0M352.5,286.5h0"/><path stroke="#0000ff" d="M277.5,130.5h0M277.5,133.5h0M277.5,136.5h0M271.5,139.5h0m3,0h0M271.5,142.5h0M268.5,148.5h0m159,0h0m3,0h0M256.5,151.5h0m3,0h0m3,0h0m3,0h0m105,0h0m3,0h0m3,0h0m3,0h0m3,0h0m3,0h0m3,0h0m3,0h0m3,0h0m27,0h0m3,0h0M370.5,154.5h0m27,0h0m21,0h0M367.5,157.5h0m30,0h0m3,0h0m15,0h0M322.5,160.5h0m3,0h0m3,0h0m3,0h0m3,0h0m3,0h0m3,0h0m3,0h0m3,0h0m3,0h0m3,0h0m3,0h0m3,0h0m3,0h0m3,0h0m36,0h0m3,0h0m3,0h0m3,0h0m3,0h0M319.5,163.5h0M301.5,169.5h0M298.5,172.5h0M295.5,178.5h0M292.5,181.5h0M289.5,184.5h0M286.5,187.5h0m3,0h0M280.5,190.5h0m3,0h0m3,0h0M274.5,193.5h0m3,0h0m3,0h0M274.5,196.5h0M394.5,199.5h0M301.5,253.5h0m3,0h0M298.5,256.5h0m9,0h0m3,0h0M295.5,259.5h0m3,0h0m9,0h0m3,0h0m3,0h0m3,0h0m3,0h0m3,0h0m3,0h0m3,0h0m3,0h0m3,0h0m3,0h0m3,0h0m3,0h0m3,0h0m3,0h0m3,0h0M313.5,262.5h0m3,0h0m3,0h0m3,0h0m3,0h0m3,0h0m3,0h0m3,0h0m3,0h0m3,0h0m3,0h0m3,0h0m3,0h0m3,0h0m3,0h0M355.5,265.5h0m3,0h0M307.5,268.5h0m3,0h0m3,0h0m3,0h0m39,0h0m3,0h0M301.5,271.5h0m3,0h0m3,0h0m3,0h0m6,0h0m3,0h0m36,0h0m3,0h0M301.5,274.5h0m3,0h0m15,0h0m36,0h0m3,0h0M301.5,277.5h0m18,0h0m3,0h0m3,0h0m3,0h0m3,0h0m3,0h0m3,0h0m3,0h0m3,0h0m3,0h0m9,0h0m3,0h0M325.5,280.5h0m3,0h0m3,0h0m3,0h0m3,0h0m3,0h0m3,0h0m3,0h0m3,0h0m6,0h0m3,0h0M346.5,283.5h0m3,0h0m6,0h0m3,0h0M355.5,286.5h0M343.5,289.5h0m12,0h0"/><path stroke="#0020ff" d="M274.5,133.5h0M271.5,136.5h0m3,0h0M268.5,142.5h0M268.5,145.5h0M265.5,148.5h0M427.5,151.5h0m3,0h0M373.5,154.5h0m3,0h0m3,0h0m3,0h0m3,0h0m3,0h0m3,0h0m3,0h0m27,0h0M370.5,157.5h0m24,0h0m24,0h0m3,0h0M367.5,160.5h0m27,0h0m3,0h0m18,0h0m3,0h0M322.5,163.5h0m3,0h0m3,0h0m3,0h0m3,0h0m3,0h0m3,0h0m3,0h0m3,0h0m3,0h0m3,0h0m3,0h0m3,0h0m3,0h0m3,0h0m30,0h0m3,0h0m3,0h0m3,0h0m3,0h0m3,0h0m3,0h0M322.5,166.5h0M298.5,175.5h0M295.5,181.5h0M292.5,184.5h0M292.5,187.5h0m63,0h0m3,0h0m3,0h0M289.5,190.5h0m3,0h0m63,0h0m3,0h0m3,0h0M283.5,193.5h0m3,0h0m3,0h0m3,0h0m63,0h0m3,0h0m3,0h0M277.5,196.5h0m3,0h0m3,0h0m3,0h0m3,0h0m3,0h0m3,0h0m3,0h0m3,0h0m96,0h0M274.5,199.5h0m3,0h0m3,0h0m3,0h0m3,0h0m3,0h0m3,0h0m3,0h0m3,0h0m3,0h0m96,0h0M274.5,202.5h0m3,0h0m3,0h0m3,0h0m3,0h0m3,0h0m3,0h0m3,0h0m3,0h0m3,0h0m90,0h0m3,0h0M277.5,205.5h0m3,0h0m3,0h0m3,0h0m3,0h0m3,0h0m3,0h0M277.5,208.5h0m3,0h0m3,0h0m3,0h0m3,0h0m3,0h0M277.5,211.5h0m3,0h0m3,0h0m3,0h0m3,0h0m3,0h0M280.5,214.5h0m3,0h0m3,0h0m3,0h0m3,0h0M280.5,217.5h0m3,0h0m3,0h0m3,0h0m3,0h0M280.5,220.5h0m3,0h0m3,0h0m3,0h0m3,0h0M283.5,223.5h0m3,0h0m3,0h0m3,0h0M301.5,250.5h0m3,0h0M295.5,253.5h0m3,0h0m9,0h0m3,0h0M295.5,256.5h0m18,0h0m3,0h0m3,0h0m3,0h0m3,0h0m3,0h0m3,0h0m3,0h0m3,0h0m3,0h0m3,0h0m3,0h0m3,0h0m3,0h0M355.5,259.5h0M358.5,262.5h0m24,0h0M361.5,265.5h0m3,0h0m3,0h0m3,0h0m3,0h0m3,0h0m3,0h0m3,0h0m3,0h0m3,0h0m3,0h0M361.5,268.5h0m3,0h0m3,0h0m3,0h0m3,0h0m3,0h0m3,0h0m3,0h0m3,0h0m3,0h0m3,0h0M313.5,271.5h0m48,0h0m3,0h0m3,0h0m3,0h0m3,0h0m3,0h0m3,0h0m3,0h0m3,0h0m3,0h0m3,0h0M307.5,274.5h0m3,0h0m3,0h0m3,0h0m45,0h0m3,0h0m3,0h0m3,0h0m3,0h0m3,0h0m3,0h0m3,0h0m3,0h0m3,0h0m3,0h0M304.5,277.5h0m3,0h0m3,0h0m3,0h0m3,0h0m45,0h0m3,0h0m3,0h0m3,0h0m3,0h0M304.5,280.5h0m3,0h0m3,0h0m3,0h0m3,0h0m3,0h0m3,0h0m39,0h0m3,0h0m3,0h0m3,0h0m3,0h0M304.5,283.5h0m3,0h0m3,0h0m3,0h0m3,0h0m3,0h0m3,0h0m3,0h0m3,0h0m3,0h0m3,0h0m3,0h0m3,0h0m3,0h0m18,0h0m3,0h0m3,0h0m3,0h0m3,0h0M307.5,286.5h0m3,0h0m3,0h0m3,0h0m3,0h0m3,0h0m24,0h0m3,0h0m9,0h0m3,0h0m3,0h0m3,0h0m3,0h0m3,0h0m30,0h0m3,0h0m3,0h0m3,0h0M307.5,289.5h0m3,0h0m3,0h0m3,0h0m3,0h0m3,0h0m27,0h0m9,0h0m3,0h0m3,0h0m3,0h0m3,0h0m3,0h0m30,0h0m3,0h0m3,0h0m3,0h0M307.5,292.5h0m3,0h0m3,0h0m3,0h0m3,0h0m3,0h0m33,0h0m3,0h0m3,0h0m3,0h0m3,0h0m3,0h0m3,0h0m30,0h0m3,0h0m3,0h0m3,0h0M310.5,295.5h0m3,0h0m3,0h0m3,0h0m3,0h0m33,0h0m3,0h0m3,0h0m3,0h0m3,0h0m36,0h0m3,0h0m3,0h0m3,0h0M310.5,298.5h0m3,0h0m3,0h0m3,0h0m3,0h0m33,0h0m3,0h0m3,0h0m42,0h0m3,0h0m3,0h0m3,0h0M310.5,301.5h0m3,0h0m3,0h0m3,0h0m3,0h0m33,0h0m3,0h0m3,0h0m42,0h0m3,0h0m3,0h0m3,0h0M313.5,304.5h0m3,0h0m3,0h0m3,0h0m3,0h0m27,0h0m3,0h0m3,0h0m3,0h0m42,0h0m3,0h0m3,0h0m3,0h0M313.5,307.5h0m3,0h0m3,0h0m3,0h0m3,0h0m3,0h0m3,0h0m3,0h0m3,0h0m3,0h0m3,0h0m3,0h0m3,0h0m3,0h0m3,0h0m3,0h0m3,0h0m42,0h0m3,0h0m3,0h0m3,0h0M313.5,310.5h0m3,0h0m3,0h0m3,0h0m3,0h0m3,0h0m3,0h0m3,0h0m3,0h0m3,0h0m3,0h0m3,0h0m3,0h0m3,0h0m3,0h0m3,0h0m3,0h0m42,0h0m3,0h0m3,0h0m3,0h0"/><path stroke="#0040ff" d="M268.5,133.5h0m3,0h0M265.5,136.5h0m3,0h0M268.5,139.5h0M265.5,145.5h0M256.5,148.5h0m3,0h0m3,0h0M424.5,154.5h0m3,0h0M373.5,157.5h0m3,0h0m3,0h0m3,0h0m3,0h0m3,0h0m3,0h0m33,0h0M370.5,160.5h0m18,0h0m3,0h0m30,0h0M367.5,163.5h0m21,0h0m3,0h0m24,0h0m3,0h0M325.5,166.5h0m3,0h0m3,0h0m3,0h0m3,0h0m3,0h0m3,0h0m3,0h0m3,0h0m3,0h0m3,0h0m3,0h0m3,0h0m3,0h0m27,0h0m3,0h0m3,0h0m3,0h0m3,0h0m3,0h0m3,0h0m3,0h0M319.5,169.5h0M301.5,172.5h0M298.5,178.5h0M298.5,181.5h0m63,0h0M295.5,184.5h0m57,0h0m3,0h0m3,0h0m3,0h0m3,0h0M295.5,187.5h0m3,0h0m51,0h0m3,0h0m12,0h0M295.5,190.5h0m3,0h0m3,0h0m48,0h0m3,0h0m12,0h0M295.5,193.5h0m3,0h0m3,0h0m3,0h0m45,0h0m3,0h0m12,0h0M304.5,196.5h0m3,0h0m45,0h0m3,0h0m3,0h0m3,0h0m3,0h0m36,0h0M304.5,199.5h0m3,0h0m3,0h0m78,0h0M304.5,202.5h0m3,0h0m3,0h0m3,0h0m84,0h0m15,0h0M298.5,205.5h0m3,0h0m3,0h0m3,0h0m3,0h0m3,0h0m3,0h0m75,0h0m3,0h0m15,0h0m3,0h0m3,0h0M295.5,208.5h0m3,0h0m3,0h0m3,0h0m3,0h0m3,0h0m3,0h0m96,0h0m3,0h0m3,0h0M295.5,211.5h0m3,0h0m111,0h0m3,0h0m3,0h0M295.5,214.5h0m114,0h0m3,0h0m3,0h0M295.5,217.5h0m117,0h0M295.5,220.5h0M295.5,223.5h0M283.5,226.5h0m3,0h0m3,0h0m3,0h0m3,0h0M295.5,250.5h0m3,0h0m9,0h0m3,0h0M313.5,253.5h0m3,0h0m3,0h0m3,0h0m3,0h0m3,0h0m3,0h0m3,0h0m3,0h0m3,0h0m3,0h0m3,0h0m3,0h0m3,0h0m3,0h0m27,0h0m3,0h0M355.5,256.5h0m3,0h0m21,0h0m3,0h0m3,0h0M358.5,259.5h0m3,0h0m15,0h0m3,0h0m3,0h0m3,0h0m3,0h0M361.5,262.5h0m3,0h0m3,0h0m3,0h0m3,0h0m3,0h0m3,0h0m6,0h0m3,0h0m3,0h0m3,0h0M394.5,265.5h0M394.5,268.5h0M394.5,271.5h0M394.5,274.5h0M376.5,277.5h0m3,0h0m3,0h0m3,0h0m3,0h0m3,0h0m3,0h0M376.5,280.5h0m3,0h0M376.5,283.5h0m24,0h0m3,0h0m3,0h0m3,0h0m3,0h0m3,0h0m15,0h0M325.5,286.5h0m3,0h0m3,0h0m3,0h0m3,0h0m3,0h0m3,0h0m33,0h0m24,0h0m15,0h0m15,0h0M325.5,289.5h0m21,0h0m30,0h0m24,0h0m15,0h0M325.5,292.5h0m18,0h0m3,0h0m30,0h0m24,0h0m15,0h0M325.5,295.5h0m27,0h0m18,0h0m3,0h0m3,0h0m24,0h0m15,0h0M325.5,298.5h0m27,0h0m12,0h0m3,0h0m3,0h0m3,0h0m27,0h0m15,0h0M325.5,301.5h0m3,0h0m21,0h0m3,0h0m12,0h0m3,0h0m33,0h0m15,0h0M328.5,304.5h0m3,0h0m3,0h0m3,0h0m3,0h0m3,0h0m3,0h0m3,0h0m15,0h0m3,0h0m33,0h0m15,0h0M364.5,307.5h0m36,0h0m15,0h0M364.5,310.5h0m36,0h0m15,0h0"/><path stroke="#0060ff" d="M259.5,139.5h0m3,0h0m3,0h0M265.5,142.5h0M430.5,154.5h0M427.5,157.5h0M373.5,160.5h0m3,0h0m3,0h0m3,0h0m3,0h0m39,0h0M370.5,163.5h0m15,0h0m36,0h0M367.5,166.5h0m3,0h0m18,0h0m27,0h0m3,0h0M325.5,169.5h0m3,0h0m3,0h0m3,0h0m3,0h0m3,0h0m15,0h0m3,0h0m3,0h0m3,0h0m3,0h0m21,0h0m3,0h0m3,0h0m3,0h0m3,0h0M325.5,172.5h0m3,0h0m3,0h0m33,0h0m27,0h0M301.5,175.5h0M301.5,178.5h0m60,0h0m3,0h0m3,0h0M301.5,181.5h0m51,0h0m3,0h0m3,0h0m6,0h0m3,0h0M298.5,184.5h0m48,0h0m3,0h0m18,0h0m3,0h0M301.5,187.5h0m3,0h0m42,0h0m21,0h0m3,0h0M304.5,190.5h0m3,0h0m39,0h0m21,0h0m3,0h0M307.5,193.5h0m3,0h0m36,0h0m21,0h0m3,0h0M310.5,196.5h0m36,0h0m3,0h0m18,0h0M313.5,199.5h0m3,0h0m39,0h0m3,0h0m3,0h0m3,0h0m36,0h0m9,0h0m3,0h0m3,0h0m3,0h0M316.5,202.5h0m3,0h0m81,0h0m6,0h0m3,0h0m6,0h0m3,0h0M319.5,205.5h0m69,0h0m9,0h0m3,0h0m6,0h0m12,0h0M316.5,208.5h0m3,0h0m72,0h0m3,0h0m3,0h0m9,0h0m12,0h0M301.5,211.5h0m3,0h0m3,0h0m3,0h0m3,0h0m3,0h0m90,0h0m12,0h0M298.5,214.5h0m3,0h0m105,0h0m12,0h0M298.5,217.5h0m108,0h0m3,0h0m6,0h0m3,0h0M298.5,220.5h0m111,0h0m3,0h0m3,0h0m3,0h0M298.5,223.5h0M298.5,226.5h0M286.5,229.5h0m3,0h0m3,0h0m3,0h0m3,0h0M286.5,232.5h0m3,0h0m3,0h0M292.5,247.5h0m3,0h0m3,0h0m3,0h0m3,0h0m3,0h0m3,0h0m3,0h0m39,0h0m30,0h0M292.5,250.5h0m21,0h0m3,0h0m3,0h0m6,0h0m3,0h0m3,0h0m3,0h0m3,0h0m3,0h0m6,0h0m3,0h0m3,0h0m3,0h0m3,0h0m21,0h0m3,0h0m3,0h0m3,0h0M358.5,253.5h0m18,0h0m3,0h0m9,0h0M361.5,256.5h0m15,0h0m12,0h0m3,0h0M364.5,259.5h0m3,0h0m3,0h0m3,0h0m18,0h0m3,0h0m3,0h0M397.5,262.5h0m3,0h0M397.5,265.5h0m3,0h0M397.5,268.5h0m3,0h0M397.5,271.5h0m3,0h0M397.5,274.5h0m3,0h0M397.5,277.5h0m3,0h0m3,0h0m3,0h0m3,0h0m3,0h0M382.5,280.5h0m3,0h0m3,0h0m3,0h0m3,0h0m3,0h0m3,0h0m3,0h0m3,0h0m3,0h0m3,0h0m3,0h0m3,0h0m9,0h0m3,0h0M379.5,283.5h0m3,0h0m12,0h0m3,0h0m21,0h0m9,0h0M379.5,286.5h0m18,0h0m21,0h0m9,0h0M328.5,289.5h0m3,0h0m48,0h0m18,0h0m21,0h0m9,0h0m3,0h0M328.5,292.5h0m51,0h0m18,0h0m21,0h0M349.5,295.5h0m30,0h0m18,0h0m21,0h0M328.5,298.5h0m21,0h0m27,0h0m3,0h0m18,0h0m21,0h0M331.5,301.5h0m3,0h0m3,0h0m3,0h0m3,0h0m3,0h0m24,0h0m3,0h0m3,0h0m21,0h0m21,0h0M370.5,304.5h0m27,0h0m21,0h0M367.5,307.5h0m3,0h0m27,0h0m21,0h0M367.5,310.5h0m3,0h0m27,0h0m21,0h0"/><path stroke="#0080ff" d="M253.5,142.5h0m3,0h0m3,0h0m3,0h0M253.5,145.5h0m3,0h0m3,0h0m3,0h0M430.5,157.5h0M427.5,160.5h0M373.5,163.5h0m3,0h0m3,0h0m3,0h0m42,0h0M373.5,166.5h0m3,0h0m3,0h0m3,0h0m3,0h0m36,0h0M310.5,169.5h0m6,0h0m6,0h0m21,0h0m3,0h0m3,0h0m3,0h0m18,0h0m3,0h0m3,0h0m3,0h0m3,0h0m3,0h0m18,0h0m3,0h0m3,0h0m3,0h0m3,0h0m3,0h0M307.5,172.5h0m12,0h0m3,0h0m12,0h0m3,0h0m21,0h0m3,0h0m6,0h0m3,0h0m3,0h0m3,0h0m3,0h0m3,0h0m3,0h0m3,0h0m6,0h0m3,0h0M304.5,175.5h0m18,0h0m3,0h0m3,0h0m3,0h0m3,0h0m27,0h0m3,0h0m3,0h0m3,0h0m3,0h0m3,0h0m3,0h0m3,0h0m6,0h0m3,0h0m3,0h0M304.5,178.5h0m24,0h0m3,0h0m3,0h0m21,0h0m3,0h0m12,0h0m3,0h0m3,0h0m3,0h0m12,0h0M304.5,181.5h0m3,0h0m24,0h0m3,0h0m3,0h0m9,0h0m3,0h0m21,0h0m3,0h0m3,0h0m12,0h0M301.5,184.5h0m3,0h0m3,0h0m3,0h0m3,0h0m18,0h0m3,0h0m3,0h0m3,0h0m3,0h0m30,0h0m12,0h0m3,0h0M307.5,187.5h0m3,0h0m3,0h0m18,0h0m3,0h0m3,0h0m3,0h0m3,0h0m30,0h0M310.5,190.5h0m3,0h0m3,0h0m12,0h0m3,0h0m3,0h0m3,0h0m3,0h0m3,0h0m30,0h0M313.5,193.5h0m3,0h0m3,0h0m3,0h0m3,0h0m3,0h0m3,0h0m3,0h0m3,0h0m3,0h0m3,0h0m30,0h0m30,0h0m3,0h0m3,0h0m3,0h0m3,0h0m3,0h0m3,0h0m3,0h0m3,0h0m3,0h0M313.5,196.5h0m3,0h0m3,0h0m3,0h0m3,0h0m3,0h0m3,0h0m3,0h0m3,0h0m3,0h0m3,0h0m27,0h0m3,0h0m30,0h0m3,0h0m3,0h0m3,0h0m3,0h0m3,0h0m3,0h0m3,0h0m3,0h0m3,0h0M319.5,199.5h0m3,0h0m3,0h0m3,0h0m3,0h0m3,0h0m3,0h0m3,0h0m3,0h0m3,0h0m3,0h0m3,0h0m15,0h0m3,0h0m15,0h0m18,0h0m3,0h0m15,0h0m3,0h0m3,0h0M322.5,202.5h0m3,0h0m3,0h0m3,0h0m3,0h0m3,0h0m3,0h0m3,0h0m3,0h0m12,0h0m3,0h0m3,0h0m3,0h0m36,0h0m18,0h0m3,0h0M322.5,205.5h0m3,0h0m3,0h0m3,0h0m3,0h0m3,0h0m3,0h0m3,0h0m39,0h0m3,0h0m18,0h0m18,0h0m3,0h0M322.5,208.5h0m3,0h0m3,0h0m3,0h0m3,0h0m3,0h0m3,0h0m3,0h0m42,0h0m3,0h0m12,0h0m3,0h0m18,0h0m3,0h0M319.5,211.5h0m3,0h0m3,0h0m3,0h0m3,0h0m3,0h0m3,0h0m3,0h0m3,0h0m51,0h0m3,0h0m3,0h0m3,0h0m18,0h0m3,0h0M304.5,214.5h0m3,0h0m3,0h0m3,0h0m3,0h0m3,0h0m3,0h0m3,0h0m3,0h0m3,0h0m3,0h0m3,0h0m3,0h0m3,0h0m60,0h0m18,0h0m3,0h0M301.5,217.5h0m3,0h0m3,0h0m3,0h0m3,0h0m3,0h0m3,0h0m3,0h0m3,0h0m3,0h0m3,0h0m69,0h0m3,0h0m18,0h0m3,0h0M301.5,220.5h0m3,0h0m3,0h0m3,0h0m3,0h0m3,0h0m3,0h0m3,0h0m3,0h0m75,0h0m3,0h0m3,0h0m15,0h0m3,0h0M301.5,223.5h0m3,0h0m3,0h0m3,0h0m3,0h0m3,0h0m3,0h0m3,0h0m3,0h0m75,0h0m3,0h0m3,0h0m3,0h0m3,0h0m3,0h0m3,0h0m3,0h0m3,0h0M301.5,226.5h0m3,0h0m3,0h0m3,0h0m3,0h0m3,0h0m84,0h0m3,0h0m3,0h0m3,0h0m3,0h0m3,0h0m3,0h0m3,0h0m3,0h0M301.5,229.5h0m3,0h0m3,0h0m3,0h0m3,0h0m87,0h0m3,0h0m3,0h0m3,0h0m3,0h0m3,0h0m3,0h0m3,0h0m3,0h0M295.5,232.5h0m3,0h0m3,0h0m3,0h0m3,0h0m3,0h0m3,0h0m87,0h0m3,0h0m3,0h0m3,0h0m3,0h0m3,0h0m3,0h0m3,0h0m3,0h0M286.5,235.5h0m3,0h0m3,0h0m3,0h0m3,0h0m3,0h0m3,0h0m3,0h0m3,0h0m3,0h0m90,0h0m3,0h0m3,0h0m3,0h0m3,0h0m3,0h0m3,0h0m3,0h0m6,0h0M289.5,238.5h0m3,0h0m3,0h0m3,0h0m3,0h0m3,0h0m3,0h0m3,0h0m3,0h0m87,0h0m3,0h0m3,0h0m3,0h0m3,0h0m3,0h0m3,0h0m6,0h0m6,0h0M289.5,241.5h0m3,0h0m3,0h0m3,0h0m3,0h0m3,0h0m3,0h0m3,0h0m3,0h0m84,0h0m3,0h0m3,0h0m3,0h0m3,0h0m3,0h0m3,0h0M289.5,244.5h0m3,0h0m3,0h0m3,0h0m3,0h0m3,0h0m3,0h0m3,0h0m3,0h0m39,0h0m3,0h0m3,0h0m3,0h0m3,0h0m3,0h0m3,0h0m3,0h0m3,0h0m3,0h0m3,0h0m3,0h0m3,0h0m3,0h0m3,0h0m3,0h0m3,0h0m3,0h0m3,0h0m3,0h0m3,0h0m3,0h0M316.5,247.5h0m3,0h0m9,0h0m3,0h0m3,0h0m3,0h0m12,0h0m6,0h0m3,0h0m3,0h0m3,0h0m3,0h0m3,0h0m3,0h0m3,0h0m3,0h0m6,0h0m3,0h0m3,0h0m3,0h0m3,0h0m3,0h0m3,0h0m3,0h0m3,0h0m3,0h0m3,0h0M322.5,250.5h0m21,0h0m18,0h0m3,0h0m3,0h0m3,0h0m3,0h0m3,0h0m15,0h0m3,0h0m3,0h0m3,0h0m3,0h0m3,0h0m3,0h0m3,0h0m3,0h0M361.5,253.5h0m3,0h0m3,0h0m3,0h0m3,0h0m18,0h0m3,0h0m3,0h0m3,0h0m3,0h0m3,0h0m3,0h0m3,0h0m3,0h0M364.5,256.5h0m3,0h0m3,0h0m3,0h0m21,0h0m3,0h0m3,0h0m3,0h0m3,0h0m3,0h0m3,0h0M400.5,259.5h0m3,0h0m3,0h0M403.5,262.5h0M403.5,265.5h0M403.5,268.5h0m3,0h0M403.5,271.5h0m3,0h0m3,0h0M403.5,274.5h0m3,0h0m3,0h0m3,0h0m3,0h0m3,0h0m3,0h0m3,0h0m3,0h0m3,0h0M415.5,277.5h0m3,0h0m3,0h0m3,0h0m3,0h0m3,0h0M421.5,280.5h0m3,0h0M385.5,283.5h0m3,0h0m3,0h0m30,0h0m3,0h0M382.5,286.5h0m3,0h0m3,0h0m3,0h0m3,0h0m27,0h0m3,0h0M334.5,289.5h0m3,0h0m3,0h0m42,0h0m3,0h0m3,0h0m3,0h0m3,0h0m27,0h0m3,0h0M331.5,292.5h0m51,0h0m3,0h0m3,0h0m3,0h0m3,0h0m27,0h0m3,0h0m3,0h0m3,0h0M328.5,295.5h0m54,0h0m3,0h0m3,0h0m3,0h0m3,0h0m27,0h0m3,0h0m3,0h0m3,0h0M331.5,298.5h0m12,0h0m3,0h0m36,0h0m3,0h0m3,0h0m3,0h0m3,0h0m27,0h0m3,0h0m3,0h0m3,0h0M379.5,301.5h0m3,0h0m3,0h0m3,0h0m3,0h0m3,0h0m27,0h0m3,0h0m3,0h0m3,0h0M373.5,304.5h0m3,0h0m3,0h0m3,0h0m3,0h0m3,0h0m3,0h0m3,0h0m27,0h0m3,0h0m3,0h0m3,0h0M373.5,307.5h0m3,0h0m3,0h0m3,0h0m3,0h0m3,0h0m3,0h0m3,0h0m27,0h0m3,0h0m3,0h0m3,0h0M373.5,310.5h0m3,0h0m3,0h0m3,0h0m3,0h0m3,0h0m3,0h0m3,0h0m27,0h0m3,0h0m3,0h0m3,0h0"/><path stroke="#009fff" d="M430.5,160.5h0M427.5,163.5h0m3,0h0M424.5,166.5h0m3,0h0M421.5,169.5h0m3,0h0M340.5,172.5h0m3,0h0m3,0h0m3,0h0m3,0h0m3,0h0m45,0h0m3,0h0m3,0h0m3,0h0m3,0h0m3,0h0m3,0h0M307.5,175.5h0m9,0h0m3,0h0m18,0h0m21,0h0M307.5,178.5h0m3,0h0m3,0h0m3,0h0m3,0h0m3,0h0m3,0h0m12,0h0m3,0h0m3,0h0m3,0h0m3,0h0m3,0h0m30,0h0M310.5,181.5h0m3,0h0m3,0h0m3,0h0m3,0h0m3,0h0m3,0h0m12,0h0m3,0h0m36,0h0m3,0h0M316.5,184.5h0m3,0h0m9,0h0m48,0h0m3,0h0M316.5,187.5h0m3,0h0m6,0h0m3,0h0m48,0h0m3,0h0M319.5,190.5h0m3,0h0m3,0h0m51,0h0m3,0h0m24,0h0m3,0h0m3,0h0m3,0h0m3,0h0m3,0h0m3,0h0m3,0h0m3,0h0m3,0h0M376.5,193.5h0m3,0h0M376.5,196.5h0m3,0h0M373.5,199.5h0m3,0h0m3,0h0m3,0h0m48,0h0M349.5,202.5h0m3,0h0m3,0h0m15,0h0m6,0h0m3,0h0m3,0h0m45,0h0m3,0h0M346.5,205.5h0m3,0h0m9,0h0m3,0h0m3,0h0m3,0h0m12,0h0m48,0h0M346.5,208.5h0m33,0h0m3,0h0m45,0h0M346.5,211.5h0m39,0h0m3,0h0m3,0h0m36,0h0M397.5,214.5h0m3,0h0m27,0h0M334.5,217.5h0m3,0h0m3,0h0m3,0h0m84,0h0M328.5,220.5h0m3,0h0m3,0h0m93,0h0M328.5,223.5h0m69,0h0m30,0h0M319.5,226.5h0m3,0h0m3,0h0m102,0h0M316.5,229.5h0m111,0h0M316.5,232.5h0m111,0h0M397.5,235.5h0m3,0h0M316.5,238.5h0m39,0h0m3,0h0m3,0h0m3,0h0m3,0h0m3,0h0m3,0h0m3,0h0m3,0h0m3,0h0m3,0h0m3,0h0m3,0h0m3,0h0m3,0h0m24,0h0M316.5,241.5h0m36,0h0m3,0h0m3,0h0m3,0h0m3,0h0m3,0h0m3,0h0m3,0h0m3,0h0m3,0h0m3,0h0m3,0h0m3,0h0m3,0h0m3,0h0m24,0h0m3,0h0M316.5,244.5h0m3,0h0m9,0h0m3,0h0m3,0h0m3,0h0m12,0h0m69,0h0M322.5,247.5h0m3,0h0m15,0h0m3,0h0m3,0h0m72,0h0M418.5,250.5h0M418.5,253.5h0M415.5,256.5h0m3,0h0M409.5,259.5h0m3,0h0m3,0h0M406.5,262.5h0m3,0h0M406.5,265.5h0m3,0h0M409.5,268.5h0m3,0h0m3,0h0m3,0h0m3,0h0m3,0h0m3,0h0m3,0h0M412.5,271.5h0m3,0h0m3,0h0m3,0h0m3,0h0m3,0h0m3,0h0M334.5,292.5h0m3,0h0m3,0h0M331.5,295.5h0m15,0h0M334.5,298.5h0m3,0h0m3,0h0"/><path stroke="#00bfff" d="M430.5,166.5h0M313.5,169.5h0m114,0h0m3,0h0M304.5,172.5h0m6,0h0m3,0h0m3,0h0m105,0h0m3,0h0m3,0h0m3,0h0M310.5,175.5h0m3,0h0m27,0h0m3,0h0m3,0h0m3,0h0m3,0h0m3,0h0m30,0h0m12,0h0m3,0h0m3,0h0m3,0h0m3,0h0m3,0h0m3,0h0m3,0h0m3,0h0m3,0h0m3,0h0m3,0h0M385.5,178.5h0m9,0h0m3,0h0m3,0h0m3,0h0m3,0h0m3,0h0m3,0h0m3,0h0m3,0h0m3,0h0m3,0h0m3,0h0m3,0h0M385.5,181.5h0m9,0h0m3,0h0m3,0h0m3,0h0m3,0h0m3,0h0m3,0h0m3,0h0m3,0h0m3,0h0m3,0h0m3,0h0m3,0h0M322.5,184.5h0m3,0h0m57,0h0m12,0h0m3,0h0m3,0h0m3,0h0m3,0h0m3,0h0m3,0h0m3,0h0m3,0h0m3,0h0m3,0h0m3,0h0m3,0h0M322.5,187.5h0m60,0h0m3,0h0m3,0h0m9,0h0m3,0h0m3,0h0m3,0h0m3,0h0m3,0h0m3,0h0m3,0h0m3,0h0m3,0h0m3,0h0m3,0h0M382.5,190.5h0m3,0h0m3,0h0M382.5,193.5h0m6,0h0m12,0h0M382.5,196.5h0m3,0h0m3,0h0M391.5,199.5h0M373.5,202.5h0m12,0h0m3,0h0M352.5,205.5h0m3,0h0m15,0h0m3,0h0m3,0h0m54,0h0M349.5,208.5h0m12,0h0m3,0h0m3,0h0m3,0h0m3,0h0m3,0h0m54,0h0M373.5,211.5h0m3,0h0m3,0h0m3,0h0m48,0h0M346.5,214.5h0m27,0h0m3,0h0m3,0h0m3,0h0m3,0h0m3,0h0m3,0h0m3,0h0m36,0h0M373.5,217.5h0m3,0h0m3,0h0m6,0h0m3,0h0m3,0h0m3,0h0m3,0h0m33,0h0M337.5,220.5h0m3,0h0m33,0h0m3,0h0m21,0h0m33,0h0M331.5,223.5h0m3,0h0m39,0h0m3,0h0m54,0h0M328.5,226.5h0m3,0h0m45,0h0m54,0h0M319.5,229.5h0m3,0h0m54,0h0m54,0h0M370.5,232.5h0m3,0h0m3,0h0m3,0h0m9,0h0m6,0h0m36,0h0M316.5,235.5h0m36,0h0m3,0h0m3,0h0m3,0h0m3,0h0m3,0h0m3,0h0m3,0h0m3,0h0m3,0h0m3,0h0m3,0h0m3,0h0m3,0h0m3,0h0m33,0h0M352.5,238.5h0m75,0h0M319.5,241.5h0m12,0h0m3,0h0m15,0h0m75,0h0m3,0h0M322.5,244.5h0m3,0h0m15,0h0m3,0h0m3,0h0m75,0h0m3,0h0M421.5,247.5h0m3,0h0M421.5,250.5h0m3,0h0M421.5,253.5h0m3,0h0m3,0h0M421.5,256.5h0M418.5,259.5h0m3,0h0m3,0h0M412.5,262.5h0m3,0h0m3,0h0m3,0h0m3,0h0M412.5,265.5h0m3,0h0m3,0h0m3,0h0m3,0h0m3,0h0m3,0h0M352.5,289.5h0M349.5,292.5h0m3,0h0M334.5,295.5h0m3,0h0m3,0h0m3,0h0"/><path stroke="#00dfff" d="M352.5,208.5h0m3,0h0m3,0h0M349.5,211.5h0m15,0h0m3,0h0m3,0h0M349.5,214.5h0m21,0h0M346.5,217.5h0m24,0h0M343.5,220.5h0m27,0h0m15,0h0m6,0h0m3,0h0M337.5,223.5h0m33,0h0M334.5,226.5h0m36,0h0m12,0h0m3,0h0m9,0h0m3,0h0M325.5,229.5h0m3,0h0m3,0h0m36,0h0m3,0h0m9,0h0m3,0h0m3,0h0m9,0h0M319.5,232.5h0m33,0h0m3,0h0m3,0h0m3,0h0m3,0h0m3,0h0M319.5,235.5h0m30,0h0M319.5,238.5h0m27,0h0m3,0h0M322.5,241.5h0m3,0h0m3,0h0m9,0h0m3,0h0m3,0h0m3,0h0m84,0h0M427.5,244.5h0m3,0h0M427.5,247.5h0M424.5,256.5h0m3,0h0M427.5,259.5h0M427.5,262.5h0m3,0h0"/><path stroke="#00ffff" d="M352.5,211.5h0m3,0h0m3,0h0m3,0h0M367.5,214.5h0M349.5,217.5h0m18,0h0M346.5,220.5h0m21,0h0M340.5,223.5h0m27,0h0M337.5,226.5h0m30,0h0M334.5,229.5h0m3,0h0m15,0h0m3,0h0m3,0h0m3,0h0m3,0h0M322.5,232.5h0m3,0h0m3,0h0m21,0h0M346.5,235.5h0M322.5,238.5h0m3,0h0m3,0h0m3,0h0m3,0h0m3,0h0m3,0h0m3,0h0M430.5,256.5h0M430.5,259.5h0"/><path stroke="#20ffdf" d="M352.5,214.5h0m3,0h0m3,0h0m3,0h0m3,0h0M352.5,217.5h0m3,0h0m3,0h0m3,0h0m3,0h0M349.5,220.5h0m3,0h0m3,0h0m3,0h0m3,0h0m3,0h0M343.5,223.5h0m3,0h0m3,0h0m3,0h0m3,0h0m3,0h0m3,0h0m3,0h0M340.5,226.5h0m3,0h0m3,0h0m3,0h0m3,0h0m3,0h0m3,0h0m3,0h0m3,0h0M340.5,229.5h0m3,0h0m3,0h0m3,0h0M331.5,232.5h0m3,0h0m3,0h0m3,0h0m3,0h0m3,0h0M322.5,235.5h0m3,0h0m3,0h0m3,0h0m3,0h0m3,0h0m3,0h0m3,0h0M427.5,250.5h0M430.5,253.5h0"/><path stroke="#40ffbf" d="M430.5,247.5h0"/><path stroke="#9fff60" d="M382.5,217.5h0M379.5,220.5h0M373.5,226.5h0M373.5,229.5h0m24,0h0M382.5,232.5h0m3,0h0m6,0h0m6,0h0"/><path stroke="#bfff40" d="M382.5,220.5h0m6,0h0M379.5,223.5h0m3,0h0m3,0h0m3,0h0m3,0h0m3,0h0M379.5,226.5h0m9,0h0m3,0h0M388.5,229.5h0m3,0h0M430.5,250.5h0"/><path d="M427.8,178h6v22.5h-6z" fill="#fff" stroke="none"/><path d="M429.4,177.5V201" stroke="#000" stroke-width="1" stroke-linecap="butt"/><polygon fill="#fff" stroke="none" points="272.3,187.5 281.3,185.5 288.3,181.7 293.8,179.0 298.3,179.7 301.6,189.7 307.6,198.3 307.0,203.0 301.6,201.7 288.3,203.0 283.6,207.7 279.3,207.7"/><polygon fill="#fff" stroke="none" points="285.3,226.3 294.3,226.3 293.6,234.3 292.3,245.0 295.3,247.0 291.3,247.0"/><polygon fill="#fff" stroke="none" points="405.6,175.0 435.3,175.0 435.3,201.0 421.6,203.7 415.0,198.3 405.6,198.3 396.3,203.7 393.6,197.0 397.6,187.7 401.6,178.3"/><polygon fill="#fff" stroke="none" points="400.3,215.7 408.3,215.7 408.3,221.0 400.3,221.0"/><polygon fill="#fff" stroke="none" points="324.3,182.3 331.0,182.3 331.0,189.0 324.3,189.0"/><polygon fill="#fff" stroke="none" points="372.3,185.0 381.6,185.0 381.6,193.0 372.3,193.0"/><polygon fill="#fff" stroke="none" points="328.3,198.3 333.6,198.3 333.6,202.3 328.3,202.3"/><polygon fill="#fff" stroke="none" points="317.6,205.0 321.6,205.0 321.6,210.3 317.6,210.3"/><polygon fill="#fff" stroke="none" points="308.3,156.7 312.3,156.7 312.3,164.7 308.3,164.7"/><polygon fill="#fff" stroke="none" points="372.3,161.3 383.0,161.3 383.0,164.0 372.3,164.0"/><circle cx="280.3" cy="193.7" r="3.3" fill="#0066ff" stroke="none"/><circle cx="295.6" cy="186.3" r="3" fill="#ffc030" stroke="none"/></g>
<use href="#st"/>
</g>
<text class="b t" x="241.9" y="76.8" text-anchor="end">100</text><text class="b r" x="245.3" y="65.8" text-anchor="middle">o</text><text class="b t" x="252.5" y="76.8">W</text>
<text class="b t" x="303.0" y="76.8" text-anchor="end">90</text><text class="b r" x="306.3" y="65.8" text-anchor="middle">o</text><text class="b t" x="313.5" y="76.8">W</text>
<text class="b t" x="366.4" y="76.8" text-anchor="end">80</text><text class="b r" x="369.8" y="65.8" text-anchor="middle">o</text><text class="b t" x="377.0" y="76.8">W</text>
<text class="b t" x="429.4" y="76.8" text-anchor="end">70</text><text class="b r" x="432.7" y="65.8" text-anchor="middle">o</text><text class="b t" x="439.9" y="76.8">W</text>
<text class="b t" x="163.5" y="313.8" text-anchor="end">22</text>
<text class="b r" x="167.9" y="302.5" text-anchor="middle">o</text>
<text class="b t" x="174.9" y="313.8">N</text>
<text class="b t" x="163.5" y="302.0" text-anchor="end">24</text>
<text class="b r" x="167.9" y="290.7" text-anchor="middle">o</text>
<text class="b t" x="174.9" y="302.0">N</text>
<text class="b t" x="163.5" y="288.1" text-anchor="end">26</text>
<text class="b r" x="167.9" y="276.8" text-anchor="middle">o</text>
<text class="b t" x="174.9" y="288.1">N</text>
<text class="b t" x="163.5" y="274.0" text-anchor="end">28</text>
<text class="b r" x="167.9" y="262.7" text-anchor="middle">o</text>
<text class="b t" x="174.9" y="274.0">N</text>
<text class="b t" x="163.5" y="259.7" text-anchor="end">30</text>
<text class="b r" x="167.9" y="248.4" text-anchor="middle">o</text>
<text class="b t" x="174.9" y="259.7">N</text>
<text class="b t" x="163.5" y="245.0" text-anchor="end">32</text>
<text class="b r" x="167.9" y="233.7" text-anchor="middle">o</text>
<text class="b t" x="174.9" y="245.0">N</text>
<text class="b t" x="163.5" y="230.1" text-anchor="end">34</text>
<text class="b r" x="167.9" y="218.8" text-anchor="middle">o</text>
<text class="b t" x="174.9" y="230.1">N</text>
<text class="b t" x="163.5" y="214.7" text-anchor="end">36</text>
<text class="b r" x="167.9" y="203.4" text-anchor="middle">o</text>
<text class="b t" x="174.9" y="214.7">N</text>
<text class="b t" x="163.5" y="199.0" text-anchor="end">38</text>
<text class="b r" x="167.9" y="187.7" text-anchor="middle">o</text>
<text class="b t" x="174.9" y="199.0">N</text>
<text class="b t" x="163.5" y="182.9" text-anchor="end">40</text>
<text class="b r" x="167.9" y="171.6" text-anchor="middle">o</text>
<text class="b t" x="174.9" y="182.9">N</text>
<text class="b t" x="163.5" y="166.2" text-anchor="end">42</text>
<text class="b r" x="167.9" y="154.9" text-anchor="middle">o</text>
<text class="b t" x="174.9" y="166.2">N</text>
<text class="b t" x="163.5" y="149.0" text-anchor="end">44</text>
<text class="b r" x="167.9" y="137.7" text-anchor="middle">o</text>
<text class="b t" x="174.9" y="149.0">N</text>
<text class="b t" x="163.5" y="131.3" text-anchor="end">46</text>
<text class="b r" x="167.9" y="120.0" text-anchor="middle">o</text>
<text class="b t" x="174.9" y="131.3">N</text>
<text class="b t" x="163.5" y="112.9" text-anchor="end">48</text>
<text class="b r" x="167.9" y="101.6" text-anchor="middle">o</text>
<text class="b t" x="174.9" y="112.9">N</text>
<rect x="441.6" y="95.5" width="23" height="214.4" fill="url(#jet)" stroke="#000" stroke-width="1"/>
<path d="M464.6,203.2h-2.6" stroke="#111" stroke-width="1"/>
<text class="b c" x="473.2" y="102.3">100</text>
<text class="b c" x="473.2" y="209.8">50</text>
<text class="b c" x="473.2" y="317.6">0</text>
<text class="b l" x="139.6" y="340.8">SAT 350 hPa RH (Percent)</text>
</g>
<g transform="translate(841.60,389.00)">
<g transform="translate(196.40,96.90) scale(1.006,1.0092) translate(-196.40,-96.90)">
<rect x="196.4" y="96.9" width="233.0" height="212.2" fill="#fff" stroke="#000" stroke-width="1"/>
<g clip-path="url(#sw)" fill="none" stroke-width="4.6" stroke-linecap="round"><path stroke="#00009f" d="M322.5,118.5h0m3,0h0M319.5,121.5h0m3,0h0m3,0h0m3,0h0m3,0h0M319.5,124.5h0m3,0h0m3,0h0m3,0h0m3,0h0m3,0h0M319.5,127.5h0m3,0h0m3,0h0m3,0h0m3,0h0m3,0h0m3,0h0M319.5,130.5h0m3,0h0m3,0h0m3,0h0m3,0h0m3,0h0m3,0h0m3,0h0M319.5,133.5h0m3,0h0m3,0h0m3,0h0m3,0h0m3,0h0m3,0h0m3,0h0m3,0h0M319.5,136.5h0m3,0h0m3,0h0m3,0h0m3,0h0m3,0h0m3,0h0m3,0h0m3,0h0m3,0h0M319.5,139.5h0m3,0h0m3,0h0m3,0h0m3,0h0m3,0h0m3,0h0m3,0h0m3,0h0m3,0h0M319.5,142.5h0m3,0h0m3,0h0m3,0h0m3,0h0m3,0h0m3,0h0m3,0h0m3,0h0m3,0h0M319.5,145.5h0m3,0h0m3,0h0m3,0h0m3,0h0m3,0h0m3,0h0m3,0h0m3,0h0m3,0h0M322.5,148.5h0m3,0h0m3,0h0m3,0h0m3,0h0m3,0h0m3,0h0m3,0h0"/><path stroke="#0000bf" d="M415.5,91.5h0m3,0h0m3,0h0m3,0h0m3,0h0m3,0h0M397.5,94.5h0m3,0h0m3,0h0m3,0h0m3,0h0m3,0h0m3,0h0m3,0h0m3,0h0m3,0h0m3,0h0m3,0h0M382.5,97.5h0m3,0h0m3,0h0m3,0h0m3,0h0m3,0h0m3,0h0m3,0h0m3,0h0m3,0h0m3,0h0m3,0h0m3,0h0m3,0h0m3,0h0m3,0h0m3,0h0M370.5,100.5h0m3,0h0m3,0h0m3,0h0m3,0h0m3,0h0m3,0h0m3,0h0m3,0h0m3,0h0m3,0h0m3,0h0m3,0h0m3,0h0m3,0h0m3,0h0m3,0h0m3,0h0m3,0h0m3,0h0m3,0h0M358.5,103.5h0m3,0h0m3,0h0m3,0h0m3,0h0m3,0h0m3,0h0m3,0h0m3,0h0m3,0h0m3,0h0m3,0h0m3,0h0m3,0h0m3,0h0m3,0h0m3,0h0m3,0h0m3,0h0m3,0h0m3,0h0m3,0h0m3,0h0m3,0h0m3,0h0M352.5,106.5h0m3,0h0m3,0h0m3,0h0m3,0h0m3,0h0m3,0h0m3,0h0m3,0h0m3,0h0m3,0h0m3,0h0m3,0h0m3,0h0m3,0h0m3,0h0m3,0h0m3,0h0m3,0h0m3,0h0m3,0h0m3,0h0m3,0h0m3,0h0m3,0h0m3,0h0m3,0h0M352.5,109.5h0m3,0h0m3,0h0m3,0h0m3,0h0m3,0h0m3,0h0m3,0h0m3,0h0m3,0h0m3,0h0m3,0h0m3,0h0m3,0h0m3,0h0m3,0h0m3,0h0m3,0h0m3,0h0m3,0h0m3,0h0m3,0h0m3,0h0m3,0h0m3,0h0m3,0h0m3,0h0M325.5,112.5h0m3,0h0m3,0h0m21,0h0m3,0h0m3,0h0m3,0h0m3,0h0m3,0h0m3,0h0m3,0h0m3,0h0m3,0h0m3,0h0m3,0h0m3,0h0m3,0h0m3,0h0m3,0h0m3,0h0m3,0h0m3,0h0m3,0h0m3,0h0m3,0h0m3,0h0m3,0h0m3,0h0m3,0h0m3,0h0M316.5,115.5h0m3,0h0m3,0h0m3,0h0m3,0h0m3,0h0m21,0h0m3,0h0m3,0h0m3,0h0m3,0h0m3,0h0m3,0h0m3,0h0m3,0h0m3,0h0m3,0h0m3,0h0m3,0h0m3,0h0m3,0h0m3,0h0m3,0h0m3,0h0m3,0h0m3,0h0m3,0h0m3,0h0m3,0h0m3,0h0m3,0h0m3,0h0m3,0h0M307.5,118.5h0m3,0h0m3,0h0m3,0h0m3,0h0m9,0h0m3,0h0m3,0h0m18,0h0m3,0h0m3,0h0m3,0h0m3,0h0m3,0h0m3,0h0m3,0h0m3,0h0m3,0h0m3,0h0m3,0h0m3,0h0m3,0h0m3,0h0m3,0h0m3,0h0m3,0h0m3,0h0m3,0h0m3,0h0m3,0h0m3,0h0m3,0h0m3,0h0m3,0h0m3,0h0M298.5,121.5h0m3,0h0m3,0h0m3,0h0m3,0h0m3,0h0m3,0h0m18,0h0m3,0h0m12,0h0m3,0h0m3,0h0m3,0h0m3,0h0m3,0h0m3,0h0m3,0h0m3,0h0m3,0h0m3,0h0m3,0h0m3,0h0m3,0h0m3,0h0m3,0h0m3,0h0m3,0h0m3,0h0m3,0h0m3,0h0m3,0h0m3,0h0m3,0h0m3,0h0m3,0h0m3,0h0m3,0h0M289.5,124.5h0m3,0h0m3,0h0m3,0h0m3,0h0m3,0h0m3,0h0m3,0h0m3,0h0m3,0h0m21,0h0m3,0h0m3,0h0m3,0h0m3,0h0m3,0h0m3,0h0m3,0h0m3,0h0m3,0h0m3,0h0m3,0h0m3,0h0m3,0h0m3,0h0m3,0h0m3,0h0m3,0h0m3,0h0m3,0h0m3,0h0m3,0h0m3,0h0m3,0h0m3,0h0m3,0h0m3,0h0m3,0h0m3,0h0m3,0h0m3,0h0m3,0h0M289.5,127.5h0m3,0h0m3,0h0m3,0h0m3,0h0m3,0h0m3,0h0m3,0h0m3,0h0m3,0h0m24,0h0m3,0h0m3,0h0m3,0h0m3,0h0m3,0h0m3,0h0m3,0h0m3,0h0m3,0h0m3,0h0m3,0h0m3,0h0m3,0h0m3,0h0m3,0h0m3,0h0m3,0h0m3,0h0m3,0h0m3,0h0m3,0h0m3,0h0m3,0h0m3,0h0m3,0h0m3,0h0m3,0h0m3,0h0m3,0h0m3,0h0M277.5,130.5h0m3,0h0m3,0h0m3,0h0m3,0h0m3,0h0m3,0h0m3,0h0m3,0h0m3,0h0m3,0h0m3,0h0m3,0h0m3,0h0m27,0h0m3,0h0m3,0h0m3,0h0m3,0h0m3,0h0m3,0h0m3,0h0m3,0h0m3,0h0m3,0h0m3,0h0m3,0h0m3,0h0m3,0h0m3,0h0m3,0h0m3,0h0m3,0h0m3,0h0m3,0h0m3,0h0m3,0h0m3,0h0m3,0h0m3,0h0m3,0h0m3,0h0m3,0h0m3,0h0M271.5,133.5h0m3,0h0m3,0h0m3,0h0m3,0h0m3,0h0m3,0h0m3,0h0m3,0h0m3,0h0m3,0h0m3,0h0m3,0h0m3,0h0m3,0h0m3,0h0m30,0h0m3,0h0m3,0h0m3,0h0m3,0h0m3,0h0m3,0h0m3,0h0m3,0h0m3,0h0m3,0h0m3,0h0m3,0h0m3,0h0m3,0h0m3,0h0m3,0h0m3,0h0m3,0h0m3,0h0m3,0h0m3,0h0m3,0h0m3,0h0m3,0h0m3,0h0m3,0h0m3,0h0m3,0h0M268.5,136.5h0m3,0h0m3,0h0m3,0h0m3,0h0m3,0h0m3,0h0m3,0h0m3,0h0m3,0h0m3,0h0m3,0h0m3,0h0m3,0h0m3,0h0m3,0h0m3,0h0m33,0h0m3,0h0m3,0h0m3,0h0m3,0h0m3,0h0m3,0h0m3,0h0m3,0h0m3,0h0m3,0h0m3,0h0m3,0h0m3,0h0m3,0h0m3,0h0m3,0h0m3,0h0m3,0h0m3,0h0m3,0h0m3,0h0m3,0h0m3,0h0m3,0h0m3,0h0m3,0h0m3,0h0M268.5,139.5h0m3,0h0m3,0h0m3,0h0m3,0h0m3,0h0m3,0h0m3,0h0m3,0h0m3,0h0m3,0h0m3,0h0m3,0h0m3,0h0m3,0h0m3,0h0m3,0h0m33,0h0m3,0h0m3,0h0m3,0h0m3,0h0m3,0h0m3,0h0m3,0h0m3,0h0m3,0h0m3,0h0m3,0h0m3,0h0m3,0h0m3,0h0m3,0h0m3,0h0m3,0h0m3,0h0m3,0h0m3,0h0m3,0h0m3,0h0m3,0h0m3,0h0m3,0h0m3,0h0m3,0h0M268.5,142.5h0m3,0h0m3,0h0m3,0h0m3,0h0m3,0h0m3,0h0m3,0h0m3,0h0m3,0h0m3,0h0m3,0h0m3,0h0m3,0h0m3,0h0m3,0h0m3,0h0m33,0h0m3,0h0m3,0h0m3,0h0m3,0h0m3,0h0m3,0h0m3,0h0m3,0h0m3,0h0m3,0h0m3,0h0m3,0h0m3,0h0m3,0h0m3,0h0m3,0h0m3,0h0m3,0h0m3,0h0m3,0h0m3,0h0m3,0h0m3,0h0m3,0h0m3,0h0m3,0h0m3,0h0M268.5,145.5h0m3,0h0m3,0h0m3,0h0m3,0h0m3,0h0m3,0h0m3,0h0m3,0h0m3,0h0m3,0h0m3,0h0m3,0h0m3,0h0m3,0h0m3,0h0m3,0h0m33,0h0m3,0h0m3,0h0m3,0h0m3,0h0m3,0h0m3,0h0m3,0h0m3,0h0m3,0h0m3,0h0m3,0h0m3,0h0m3,0h0m3,0h0m3,0h0m3,0h0m3,0h0m3,0h0m3,0h0m3,0h0m3,0h0m3,0h0m3,0h0m3,0h0m3,0h0m3,0h0m3,0h0M268.5,148.5h0m3,0h0m3,0h0m3,0h0m3,0h0m3,0h0m3,0h0m3,0h0m3,0h0m3,0h0m3,0h0m3,0h0m3,0h0m3,0h0m3,0h0m3,0h0m3,0h0m3,0h0m27,0h0m3,0h0m3,0h0m3,0h0m3,0h0m3,0h0m3,0h0m3,0h0m3,0h0m3,0h0m3,0h0m3,0h0m3,0h0m3,0h0m3,0h0m3,0h0m3,0h0m3,0h0m3,0h0m3,0h0m3,0h0m3,0h0m3,0h0m3,0h0m3,0h0m3,0h0m3,0h0m3,0h0m3,0h0M256.5,151.5h0m3,0h0m3,0h0m3,0h0m3,0h0m3,0h0m3,0h0m3,0h0m3,0h0m3,0h0m3,0h0m3,0h0m3,0h0m3,0h0m3,0h0m3,0h0m3,0h0m3,0h0m3,0h0m3,0h0m3,0h0m3,0h0m3,0h0m3,0h0m3,0h0m3,0h0m3,0h0m3,0h0m3,0h0m3,0h0m3,0h0m3,0h0m3,0h0m3,0h0m3,0h0m3,0h0m3,0h0m3,0h0m3,0h0m3,0h0m3,0h0m3,0h0m3,0h0m3,0h0m3,0h0m3,0h0m3,0h0m3,0h0m3,0h0m3,0h0m3,0h0m3,0h0m3,0h0m3,0h0m3,0h0m3,0h0m3,0h0m3,0h0m3,0h0M256.5,154.5h0m3,0h0m3,0h0m3,0h0m3,0h0m3,0h0m3,0h0m3,0h0m3,0h0m3,0h0m3,0h0m3,0h0m3,0h0m3,0h0m3,0h0m3,0h0m3,0h0m3,0h0m3,0h0m3,0h0m3,0h0m3,0h0m3,0h0m3,0h0m3,0h0m3,0h0m3,0h0m3,0h0m3,0h0m3,0h0m3,0h0m3,0h0m3,0h0m3,0h0m3,0h0m3,0h0m3,0h0m3,0h0m3,0h0m3,0h0m3,0h0m3,0h0m3,0h0m3,0h0m3,0h0m3,0h0m3,0h0m3,0h0m3,0h0m3,0h0m3,0h0m3,0h0m3,0h0m3,0h0m3,0h0m3,0h0m3,0h0m3,0h0m3,0h0M259.5,157.5h0m3,0h0m3,0h0m3,0h0m3,0h0m3,0h0m3,0h0m3,0h0m3,0h0m3,0h0m3,0h0m3,0h0m3,0h0m3,0h0m3,0h0m3,0h0m3,0h0m3,0h0m3,0h0m3,0h0m3,0h0m3,0h0m3,0h0m3,0h0m3,0h0m3,0h0m3,0h0m3,0h0m3,0h0m3,0h0m3,0h0m3,0h0m3,0h0m3,0h0m3,0h0m3,0h0m3,0h0m27,0h0m3,0h0m3,0h0m3,0h0m3,0h0m3,0h0m3,0h0m3,0h0m3,0h0m6,0h0m3,0h0m3,0h0M259.5,160.5h0m3,0h0m3,0h0m3,0h0m3,0h0m3,0h0m3,0h0m3,0h0m3,0h0m3,0h0m3,0h0m3,0h0m3,0h0m3,0h0m3,0h0m3,0h0m3,0h0m3,0h0m3,0h0m3,0h0m3,0h0m3,0h0m3,0h0m3,0h0m3,0h0m3,0h0m3,0h0m3,0h0m3,0h0m3,0h0m3,0h0m3,0h0m3,0h0m3,0h0m3,0h0m3,0h0m36,0h0m3,0h0m3,0h0m3,0h0m3,0h0M262.5,163.5h0m3,0h0m3,0h0m3,0h0m3,0h0m3,0h0m3,0h0m3,0h0m3,0h0m3,0h0m3,0h0m3,0h0m3,0h0m3,0h0m3,0h0m3,0h0m3,0h0m3,0h0m3,0h0m3,0h0m3,0h0m3,0h0m3,0h0m3,0h0m3,0h0m3,0h0m3,0h0m3,0h0m3,0h0m3,0h0m3,0h0m3,0h0m3,0h0m3,0h0m39,0h0m3,0h0m3,0h0m3,0h0m3,0h0M262.5,166.5h0m3,0h0m3,0h0m3,0h0m3,0h0m3,0h0m3,0h0m3,0h0m3,0h0m3,0h0m3,0h0m3,0h0m3,0h0m3,0h0m3,0h0m3,0h0m3,0h0m3,0h0m3,0h0m3,0h0m3,0h0m3,0h0m3,0h0m3,0h0m3,0h0m3,0h0m3,0h0m3,0h0m3,0h0m3,0h0m3,0h0m3,0h0m3,0h0m3,0h0m42,0h0m3,0h0m3,0h0m3,0h0M262.5,169.5h0m3,0h0m3,0h0m3,0h0m3,0h0m3,0h0m3,0h0m3,0h0m3,0h0m3,0h0m3,0h0m3,0h0m3,0h0m3,0h0m3,0h0m27,0h0m3,0h0m3,0h0m3,0h0m3,0h0m3,0h0m3,0h0m3,0h0m3,0h0m3,0h0m3,0h0m42,0h0m3,0h0m3,0h0m3,0h0M265.5,172.5h0m3,0h0m3,0h0m3,0h0m3,0h0m3,0h0m3,0h0m3,0h0m3,0h0m3,0h0m3,0h0m3,0h0m3,0h0m3,0h0m27,0h0m3,0h0m3,0h0m3,0h0m3,0h0m3,0h0m3,0h0m3,0h0m3,0h0m3,0h0m3,0h0m42,0h0m3,0h0M265.5,175.5h0m3,0h0m3,0h0m3,0h0m3,0h0m3,0h0m3,0h0m3,0h0m3,0h0m3,0h0m3,0h0m3,0h0m3,0h0m30,0h0m3,0h0m3,0h0m3,0h0m3,0h0m3,0h0m3,0h0m3,0h0m3,0h0m3,0h0m3,0h0m42,0h0m3,0h0M265.5,178.5h0m3,0h0m3,0h0m3,0h0m3,0h0m3,0h0m3,0h0m3,0h0m3,0h0m3,0h0m60,0h0m3,0h0m3,0h0m3,0h0m42,0h0M268.5,181.5h0m3,0h0m3,0h0m3,0h0m3,0h0M268.5,184.5h0m3,0h0m3,0h0m3,0h0M268.5,187.5h0m3,0h0m3,0h0M271.5,190.5h0m3,0h0M271.5,193.5h0"/><path stroke="#0000df" d="M349.5,106.5h0M349.5,109.5h0M334.5,112.5h0m15,0h0M334.5,115.5h0m15,0h0M337.5,118.5h0m9,0h0m3,0h0M340.5,121.5h0m3,0h0m3,0h0M370.5,157.5h0m3,0h0m3,0h0m3,0h0m3,0h0m3,0h0m3,0h0m3,0h0m30,0h0M367.5,160.5h0m3,0h0m24,0h0m3,0h0m18,0h0m3,0h0M364.5,163.5h0m3,0h0m30,0h0m18,0h0M364.5,166.5h0m36,0h0m15,0h0M307.5,169.5h0m3,0h0m3,0h0m3,0h0m3,0h0m3,0h0m3,0h0m3,0h0m36,0h0m36,0h0m15,0h0M307.5,172.5h0m21,0h0m36,0h0m36,0h0M304.5,175.5h0m24,0h0m36,0h0m36,0h0M295.5,178.5h0m3,0h0m3,0h0m3,0h0m27,0h0m3,0h0m3,0h0m3,0h0m3,0h0m3,0h0m3,0h0m15,0h0m36,0h0M295.5,181.5h0m54,0h0M370.5,193.5h0M334.5,232.5h0M319.5,235.5h0m3,0h0m3,0h0m3,0h0m3,0h0m3,0h0M289.5,241.5h0m3,0h0m3,0h0m3,0h0m3,0h0M289.5,244.5h0m3,0h0m3,0h0m3,0h0m3,0h0m3,0h0m3,0h0m3,0h0m3,0h0M292.5,247.5h0m3,0h0m3,0h0m3,0h0m3,0h0m3,0h0m3,0h0M292.5,250.5h0m3,0h0m3,0h0m3,0h0m3,0h0m3,0h0M295.5,253.5h0m3,0h0m3,0h0m3,0h0M295.5,256.5h0m3,0h0m3,0h0m3,0h0M295.5,259.5h0m3,0h0m3,0h0m3,0h0M298.5,262.5h0m3,0h0m3,0h0M298.5,265.5h0m3,0h0m51,0h0M298.5,268.5h0m3,0h0m51,0h0M352.5,271.5h0M352.5,274.5h0m39,0h0M352.5,277.5h0m39,0h0M352.5,280.5h0m3,0h0m36,0h0m3,0h0M352.5,283.5h0m3,0h0m3,0h0m3,0h0m30,0h0m3,0h0m3,0h0m3,0h0M349.5,286.5h0m12,0h0m30,0h0m3,0h0m3,0h0m3,0h0M361.5,289.5h0m3,0h0m27,0h0m3,0h0m3,0h0m3,0h0M364.5,292.5h0m3,0h0m18,0h0m3,0h0m3,0h0m3,0h0m3,0h0m3,0h0M364.5,295.5h0m3,0h0m3,0h0m3,0h0m3,0h0m3,0h0m3,0h0m3,0h0m3,0h0m3,0h0m3,0h0m3,0h0m3,0h0M364.5,298.5h0m3,0h0m3,0h0m3,0h0m3,0h0m3,0h0m3,0h0m3,0h0m3,0h0m3,0h0m3,0h0m3,0h0m3,0h0M361.5,301.5h0m3,0h0m3,0h0m3,0h0m3,0h0m3,0h0m3,0h0m3,0h0m3,0h0m3,0h0m3,0h0m3,0h0m3,0h0m3,0h0M361.5,304.5h0m3,0h0m3,0h0m3,0h0m3,0h0m3,0h0m3,0h0m3,0h0m3,0h0m3,0h0m3,0h0m3,0h0m3,0h0m3,0h0M361.5,307.5h0m3,0h0m3,0h0m3,0h0m3,0h0m3,0h0m3,0h0m3,0h0m3,0h0m3,0h0m3,0h0m3,0h0m3,0h0m3,0h0M361.5,310.5h0m3,0h0m3,0h0m3,0h0m3,0h0m3,0h0m3,0h0m3,0h0m3,0h0m3,0h0m3,0h0m3,0h0m3,0h0m3,0h0"/><path stroke="#0000ff" d="M346.5,106.5h0M337.5,109.5h0m9,0h0M337.5,112.5h0m9,0h0M337.5,115.5h0m9,0h0M340.5,118.5h0m3,0h0M373.5,160.5h0m3,0h0m3,0h0m3,0h0m3,0h0m3,0h0m3,0h0m30,0h0M370.5,163.5h0m24,0h0m24,0h0M367.5,166.5h0m30,0h0m21,0h0M367.5,169.5h0m30,0h0m21,0h0M310.5,172.5h0m3,0h0m3,0h0m3,0h0m3,0h0m3,0h0m42,0h0m30,0h0M307.5,175.5h0m18,0h0m42,0h0M307.5,178.5h0m21,0h0m39,0h0M298.5,181.5h0m3,0h0m3,0h0m33,0h0m3,0h0m3,0h0m3,0h0M298.5,184.5h0M319.5,232.5h0m3,0h0m3,0h0m3,0h0m3,0h0M316.5,235.5h0m21,0h0M295.5,238.5h0m3,0h0m3,0h0m3,0h0m3,0h0m3,0h0m3,0h0m3,0h0m3,0h0m3,0h0m3,0h0m3,0h0m3,0h0m3,0h0M304.5,241.5h0m3,0h0m3,0h0m3,0h0m3,0h0m3,0h0m3,0h0m3,0h0m3,0h0m3,0h0M316.5,244.5h0M313.5,247.5h0m3,0h0M310.5,250.5h0m3,0h0M307.5,253.5h0M307.5,256.5h0M307.5,259.5h0m45,0h0M307.5,262.5h0m42,0h0m3,0h0m3,0h0M304.5,265.5h0m3,0h0m39,0h0m3,0h0m6,0h0m3,0h0M304.5,268.5h0m3,0h0m42,0h0m6,0h0M301.5,271.5h0m3,0h0m45,0h0m6,0h0M301.5,274.5h0m3,0h0m45,0h0m6,0h0m33,0h0m6,0h0m3,0h0M349.5,277.5h0m6,0h0m3,0h0m30,0h0m6,0h0m3,0h0m3,0h0M349.5,280.5h0m9,0h0m3,0h0m3,0h0m24,0h0m9,0h0m3,0h0m3,0h0M364.5,283.5h0m3,0h0m21,0h0m15,0h0m3,0h0M343.5,286.5h0m3,0h0m6,0h0m3,0h0m3,0h0m6,0h0m3,0h0m18,0h0m3,0h0m15,0h0m3,0h0M349.5,289.5h0m9,0h0m9,0h0m3,0h0m3,0h0m3,0h0m3,0h0m3,0h0m3,0h0m3,0h0m15,0h0m3,0h0M349.5,292.5h0m12,0h0m9,0h0m3,0h0m3,0h0m3,0h0m3,0h0m21,0h0m3,0h0M361.5,295.5h0m42,0h0m3,0h0M361.5,298.5h0m42,0h0m3,0h0M358.5,301.5h0m45,0h0m3,0h0M358.5,304.5h0m45,0h0m3,0h0M358.5,307.5h0m45,0h0m3,0h0M358.5,310.5h0m45,0h0m3,0h0"/><path stroke="#0020ff" d="M340.5,109.5h0m3,0h0M340.5,112.5h0m3,0h0M340.5,115.5h0m3,0h0M424.5,160.5h0M373.5,163.5h0m3,0h0m3,0h0m3,0h0m3,0h0m3,0h0m3,0h0m30,0h0m3,0h0M370.5,166.5h0m3,0h0m21,0h0m27,0h0M370.5,169.5h0m24,0h0m27,0h0M370.5,172.5h0M310.5,175.5h0m3,0h0m3,0h0m3,0h0m3,0h0m48,0h0m27,0h0M310.5,178.5h0m3,0h0m12,0h0m45,0h0m27,0h0M307.5,181.5h0m3,0h0m3,0h0M301.5,184.5h0m3,0h0m3,0h0m3,0h0m27,0h0m3,0h0m3,0h0m3,0h0M301.5,187.5h0m3,0h0m42,0h0M292.5,202.5h0m3,0h0m3,0h0m3,0h0m3,0h0M289.5,205.5h0m3,0h0m3,0h0m3,0h0m3,0h0M292.5,208.5h0M322.5,229.5h0m3,0h0m3,0h0m3,0h0M316.5,232.5h0m21,0h0m3,0h0M298.5,235.5h0m3,0h0m3,0h0m3,0h0m3,0h0m3,0h0m27,0h0M337.5,238.5h0m3,0h0M334.5,241.5h0m3,0h0m3,0h0M319.5,244.5h0m3,0h0m3,0h0m3,0h0m3,0h0m3,0h0m3,0h0m3,0h0m3,0h0m3,0h0m3,0h0m3,0h0M319.5,247.5h0m3,0h0m3,0h0m3,0h0m3,0h0m3,0h0m3,0h0m3,0h0m3,0h0m3,0h0m3,0h0m3,0h0M316.5,250.5h0m3,0h0m3,0h0m3,0h0m3,0h0m3,0h0m3,0h0m3,0h0m3,0h0m3,0h0m3,0h0m3,0h0m3,0h0M310.5,253.5h0m3,0h0m3,0h0m3,0h0m3,0h0m3,0h0m3,0h0m3,0h0m3,0h0m3,0h0m3,0h0m3,0h0m3,0h0m3,0h0m3,0h0M310.5,256.5h0m3,0h0m3,0h0m3,0h0m3,0h0m3,0h0m3,0h0m3,0h0m3,0h0m3,0h0m3,0h0m3,0h0m3,0h0m3,0h0m3,0h0m3,0h0m3,0h0m3,0h0m3,0h0m3,0h0m3,0h0M310.5,259.5h0m3,0h0m3,0h0m3,0h0m3,0h0m3,0h0m3,0h0m3,0h0m3,0h0m3,0h0m3,0h0m3,0h0m3,0h0m3,0h0m6,0h0m3,0h0m3,0h0m3,0h0m3,0h0m3,0h0M310.5,262.5h0m3,0h0m3,0h0m3,0h0m3,0h0m3,0h0m3,0h0m3,0h0m3,0h0m3,0h0m3,0h0m3,0h0m3,0h0m12,0h0m3,0h0m3,0h0m3,0h0m3,0h0M310.5,265.5h0m3,0h0m3,0h0m3,0h0m3,0h0m3,0h0m3,0h0m3,0h0m3,0h0m3,0h0m3,0h0m3,0h0m18,0h0m3,0h0m3,0h0m3,0h0M310.5,268.5h0m3,0h0m3,0h0m3,0h0m3,0h0m3,0h0m3,0h0m3,0h0m3,0h0m3,0h0m3,0h0m3,0h0m3,0h0m12,0h0m3,0h0m3,0h0m3,0h0m3,0h0M307.5,271.5h0m3,0h0m3,0h0m3,0h0m3,0h0m3,0h0m3,0h0m3,0h0m3,0h0m3,0h0m3,0h0m3,0h0m3,0h0m3,0h0m12,0h0m3,0h0m3,0h0m3,0h0m3,0h0m18,0h0m3,0h0m3,0h0m3,0h0M307.5,274.5h0m3,0h0m3,0h0m3,0h0m3,0h0m3,0h0m3,0h0m3,0h0m3,0h0m3,0h0m3,0h0m3,0h0m3,0h0m3,0h0m12,0h0m3,0h0m3,0h0m3,0h0m3,0h0m3,0h0m3,0h0m3,0h0m3,0h0m3,0h0m15,0h0m3,0h0m3,0h0m3,0h0M301.5,277.5h0m3,0h0m3,0h0m3,0h0m36,0h0m15,0h0m3,0h0m3,0h0m3,0h0m3,0h0m3,0h0m3,0h0m3,0h0m3,0h0m18,0h0m3,0h0m3,0h0M304.5,280.5h0m3,0h0m3,0h0m36,0h0m21,0h0m3,0h0m3,0h0m3,0h0m3,0h0m3,0h0m3,0h0m21,0h0m3,0h0m3,0h0M304.5,283.5h0m3,0h0m3,0h0m39,0h0m21,0h0m3,0h0m3,0h0m3,0h0m3,0h0m3,0h0m24,0h0m3,0h0m18,0h0M307.5,286.5h0m3,0h0m60,0h0m3,0h0m3,0h0m3,0h0m3,0h0m27,0h0m3,0h0m3,0h0m3,0h0m3,0h0m3,0h0m3,0h0m3,0h0M307.5,289.5h0m3,0h0m45,0h0m54,0h0m3,0h0m3,0h0m3,0h0m3,0h0m3,0h0m3,0h0m3,0h0M307.5,292.5h0m3,0h0m48,0h0m51,0h0m3,0h0m3,0h0m3,0h0m3,0h0m3,0h0m3,0h0m3,0h0M358.5,295.5h0m51,0h0m3,0h0m3,0h0m3,0h0m3,0h0m3,0h0m3,0h0m3,0h0M358.5,298.5h0m51,0h0m3,0h0m3,0h0m3,0h0m3,0h0m3,0h0m3,0h0m3,0h0M355.5,301.5h0m54,0h0m3,0h0m3,0h0m3,0h0m3,0h0m3,0h0m3,0h0m3,0h0M334.5,304.5h0m3,0h0m3,0h0m3,0h0m3,0h0m3,0h0m3,0h0m3,0h0m54,0h0m3,0h0m3,0h0m3,0h0m3,0h0m3,0h0m3,0h0m3,0h0M334.5,307.5h0m3,0h0m3,0h0m3,0h0m3,0h0m3,0h0m3,0h0m3,0h0m54,0h0m3,0h0m3,0h0m3,0h0m3,0h0m3,0h0m3,0h0m3,0h0M334.5,310.5h0m3,0h0m3,0h0m3,0h0m3,0h0m3,0h0m3,0h0m3,0h0m54,0h0m3,0h0m3,0h0m3,0h0m3,0h0m3,0h0m3,0h0m3,0h0"/><path stroke="#0040ff" d="M376.5,166.5h0m3,0h0m3,0h0m3,0h0m3,0h0m3,0h0M373.5,169.5h0m3,0h0m3,0h0M373.5,172.5h0m3,0h0m18,0h0M373.5,175.5h0M316.5,178.5h0m3,0h0m3,0h0m51,0h0M316.5,181.5h0m3,0h0M313.5,184.5h0m3,0h0M307.5,187.5h0m3,0h0m3,0h0m3,0h0m21,0h0m3,0h0m3,0h0M346.5,190.5h0M307.5,202.5h0m3,0h0m3,0h0m3,0h0m12,0h0m3,0h0m3,0h0m57,0h0m3,0h0m15,0h0m3,0h0m3,0h0M304.5,205.5h0m3,0h0m3,0h0m3,0h0m3,0h0m12,0h0m3,0h0m3,0h0m3,0h0m48,0h0m6,0h0m3,0h0m18,0h0m3,0h0M295.5,208.5h0m3,0h0m3,0h0m3,0h0m3,0h0m3,0h0m3,0h0m15,0h0m3,0h0m3,0h0m51,0h0M328.5,211.5h0m3,0h0m3,0h0m54,0h0m15,0h0M328.5,214.5h0m3,0h0m3,0h0m54,0h0M328.5,217.5h0m3,0h0M316.5,229.5h0m3,0h0m18,0h0M298.5,232.5h0m3,0h0m3,0h0m3,0h0m3,0h0m3,0h0M343.5,235.5h0m3,0h0M343.5,238.5h0m3,0h0M343.5,241.5h0m3,0h0m3,0h0m3,0h0M355.5,244.5h0M355.5,247.5h0M355.5,250.5h0m3,0h0m3,0h0m3,0h0m3,0h0m3,0h0M355.5,253.5h0m3,0h0m3,0h0m3,0h0m3,0h0m3,0h0m3,0h0M373.5,256.5h0M373.5,259.5h0M373.5,262.5h0M373.5,265.5h0m3,0h0M373.5,268.5h0m3,0h0m12,0h0m3,0h0m3,0h0M373.5,271.5h0m3,0h0m3,0h0m3,0h0m3,0h0m15,0h0m3,0h0m3,0h0m21,0h0m3,0h0M412.5,274.5h0m3,0h0m15,0h0M313.5,277.5h0m3,0h0m3,0h0m3,0h0m3,0h0m3,0h0m3,0h0m3,0h0m3,0h0m3,0h0m3,0h0m69,0h0m3,0h0m12,0h0m3,0h0M313.5,280.5h0m3,0h0m99,0h0m3,0h0m3,0h0m3,0h0m3,0h0m3,0h0M313.5,283.5h0m3,0h0m30,0h0m69,0h0m3,0h0m3,0h0m3,0h0m3,0h0M313.5,286.5h0m3,0h0M313.5,289.5h0m3,0h0m36,0h0M313.5,292.5h0m3,0h0m39,0h0M310.5,295.5h0m3,0h0m42,0h0M310.5,298.5h0m3,0h0m42,0h0M310.5,301.5h0m36,0h0m3,0h0m3,0h0M328.5,304.5h0m3,0h0M328.5,307.5h0m3,0h0M328.5,310.5h0m3,0h0"/><path stroke="#0060ff" d="M424.5,166.5h0M382.5,169.5h0m3,0h0m3,0h0m3,0h0m33,0h0M379.5,172.5h0m3,0h0m3,0h0m3,0h0m3,0h0M376.5,175.5h0m3,0h0m15,0h0M376.5,178.5h0m18,0h0M319.5,190.5h0m3,0h0m3,0h0m3,0h0m3,0h0m3,0h0m3,0h0m3,0h0m3,0h0M319.5,193.5h0m27,0h0M319.5,196.5h0M319.5,199.5h0m3,0h0m3,0h0m3,0h0m3,0h0m3,0h0m3,0h0M337.5,202.5h0m81,0h0M418.5,205.5h0M337.5,208.5h0m75,0h0M337.5,211.5h0m3,0h0M337.5,214.5h0m3,0h0M334.5,217.5h0m3,0h0M304.5,220.5h0m3,0h0m3,0h0m3,0h0m3,0h0m3,0h0m3,0h0m3,0h0m3,0h0m3,0h0m3,0h0M298.5,226.5h0m18,0h0m3,0h0m3,0h0m3,0h0m3,0h0m3,0h0M298.5,229.5h0m3,0h0m3,0h0m3,0h0m3,0h0m3,0h0M343.5,232.5h0m3,0h0M349.5,235.5h0M349.5,238.5h0m3,0h0m3,0h0M355.5,241.5h0m3,0h0M358.5,244.5h0M358.5,247.5h0m3,0h0m3,0h0m3,0h0m3,0h0M373.5,250.5h0M376.5,253.5h0M376.5,256.5h0m3,0h0M376.5,259.5h0m3,0h0M376.5,262.5h0m3,0h0M379.5,265.5h0M379.5,268.5h0m3,0h0m3,0h0m12,0h0m3,0h0m3,0h0M409.5,271.5h0m3,0h0m3,0h0M418.5,274.5h0m6,0h0m3,0h0M418.5,277.5h0m3,0h0m3,0h0M319.5,280.5h0m3,0h0m3,0h0m3,0h0m3,0h0m3,0h0m3,0h0m3,0h0m3,0h0M319.5,283.5h0m24,0h0M319.5,286.5h0M319.5,289.5h0M319.5,292.5h0m33,0h0M316.5,295.5h0m3,0h0M316.5,298.5h0m3,0h0m30,0h0m3,0h0M313.5,301.5h0m3,0h0m3,0h0m9,0h0m3,0h0m3,0h0m3,0h0m3,0h0m3,0h0M313.5,304.5h0m3,0h0m9,0h0M313.5,307.5h0m3,0h0m9,0h0M325.5,310.5h0"/><path stroke="#0080ff" d="M427.5,166.5h0M427.5,169.5h0M382.5,175.5h0m3,0h0m3,0h0m3,0h0M379.5,178.5h0m3,0h0m3,0h0m3,0h0m3,0h0M322.5,193.5h0m3,0h0m3,0h0m3,0h0m3,0h0m3,0h0m3,0h0m3,0h0M322.5,196.5h0m3,0h0m3,0h0m3,0h0m3,0h0m3,0h0m3,0h0m3,0h0m3,0h0M340.5,199.5h0m3,0h0m3,0h0m42,0h0M349.5,202.5h0m3,0h0m36,0h0m33,0h0M349.5,205.5h0m3,0h0m69,0h0M346.5,208.5h0m3,0h0m45,0h0m21,0h0m3,0h0M343.5,211.5h0m3,0h0m48,0h0m6,0h0M343.5,214.5h0M340.5,217.5h0M337.5,220.5h0M301.5,223.5h0m3,0h0m3,0h0m3,0h0m3,0h0m3,0h0m3,0h0m3,0h0m3,0h0m3,0h0m3,0h0m3,0h0M301.5,226.5h0m3,0h0m3,0h0m3,0h0m3,0h0m21,0h0m3,0h0m3,0h0M334.5,229.5h0m9,0h0m3,0h0M349.5,232.5h0M352.5,235.5h0m3,0h0m3,0h0m3,0h0m3,0h0M358.5,238.5h0m3,0h0m3,0h0M361.5,241.5h0m3,0h0m3,0h0M361.5,244.5h0m3,0h0m3,0h0m3,0h0m3,0h0M373.5,247.5h0m3,0h0M376.5,250.5h0m3,0h0M379.5,253.5h0m3,0h0M382.5,256.5h0M382.5,259.5h0m3,0h0M382.5,262.5h0m3,0h0m3,0h0m3,0h0m3,0h0m3,0h0m3,0h0M382.5,265.5h0m3,0h0m3,0h0m3,0h0m3,0h0m3,0h0m3,0h0m3,0h0m21,0h0M406.5,268.5h0m3,0h0m3,0h0M418.5,271.5h0m6,0h0M421.5,274.5h0M322.5,283.5h0m3,0h0m3,0h0m3,0h0m3,0h0m3,0h0m3,0h0M322.5,286.5h0m3,0h0m3,0h0m3,0h0M322.5,289.5h0m3,0h0M322.5,292.5h0M322.5,295.5h0m3,0h0m24,0h0m3,0h0M322.5,298.5h0m3,0h0m3,0h0m3,0h0m3,0h0m3,0h0m3,0h0m3,0h0m3,0h0M322.5,301.5h0m3,0h0M319.5,304.5h0m3,0h0M319.5,307.5h0m3,0h0M313.5,310.5h0m3,0h0m3,0h0m3,0h0"/><path stroke="#009fff" d="M373.5,190.5h0m3,0h0M385.5,193.5h0M385.5,196.5h0M385.5,199.5h0M355.5,202.5h0m3,0h0m27,0h0m39,0h0m3,0h0M355.5,205.5h0m3,0h0m51,0h0m15,0h0m3,0h0M352.5,208.5h0m3,0h0m66,0h0m3,0h0M349.5,211.5h0m3,0h0m63,0h0m3,0h0m3,0h0M346.5,214.5h0m3,0h0m51,0h0m3,0h0M343.5,217.5h0m3,0h0M340.5,220.5h0m3,0h0m87,0h0M337.5,223.5h0m3,0h0m87,0h0m3,0h0M343.5,226.5h0m87,0h0M349.5,229.5h0m3,0h0m3,0h0m3,0h0m3,0h0m3,0h0M352.5,232.5h0m3,0h0m3,0h0m3,0h0m3,0h0m3,0h0M367.5,235.5h0M367.5,238.5h0m3,0h0M370.5,241.5h0m3,0h0M376.5,244.5h0M379.5,247.5h0M382.5,250.5h0m3,0h0M385.5,253.5h0m3,0h0M385.5,256.5h0m3,0h0M388.5,259.5h0m3,0h0m3,0h0m3,0h0m3,0h0m3,0h0M403.5,262.5h0m3,0h0M406.5,265.5h0m3,0h0M415.5,268.5h0m3,0h0m3,0h0M421.5,271.5h0M334.5,286.5h0m3,0h0m3,0h0M328.5,289.5h0m3,0h0m3,0h0m3,0h0m3,0h0M325.5,292.5h0m3,0h0M328.5,295.5h0m3,0h0m12,0h0m3,0h0"/><path stroke="#00bfff" d="M427.5,160.5h0m3,0h0M427.5,163.5h0m3,0h0M430.5,166.5h0M430.5,169.5h0M379.5,190.5h0m3,0h0M373.5,193.5h0m3,0h0m3,0h0m3,0h0M367.5,196.5h0m3,0h0m3,0h0m3,0h0m3,0h0m3,0h0M364.5,199.5h0m3,0h0m3,0h0m3,0h0m3,0h0m3,0h0m3,0h0M361.5,202.5h0m3,0h0m3,0h0m3,0h0m3,0h0m3,0h0m3,0h0m3,0h0m48,0h0M361.5,205.5h0m3,0h0m3,0h0m3,0h0m3,0h0m3,0h0m3,0h0m3,0h0m48,0h0M358.5,208.5h0m3,0h0m3,0h0m3,0h0m3,0h0m3,0h0m3,0h0m3,0h0m3,0h0m6,0h0m39,0h0m3,0h0M355.5,211.5h0m3,0h0m3,0h0m3,0h0m3,0h0m3,0h0m3,0h0m3,0h0m3,0h0m3,0h0m3,0h0m21,0h0m18,0h0m3,0h0m3,0h0M352.5,214.5h0m3,0h0m3,0h0m3,0h0m3,0h0m3,0h0m3,0h0m3,0h0m3,0h0m3,0h0m3,0h0m3,0h0m21,0h0m12,0h0m3,0h0m3,0h0m3,0h0m3,0h0M349.5,217.5h0m3,0h0m3,0h0m3,0h0m3,0h0m3,0h0m3,0h0m3,0h0m3,0h0m9,0h0m3,0h0m30,0h0m3,0h0m3,0h0m3,0h0m3,0h0m3,0h0M346.5,220.5h0m3,0h0m3,0h0m3,0h0m3,0h0m3,0h0m3,0h0m3,0h0m3,0h0m3,0h0m9,0h0m18,0h0m9,0h0m3,0h0m3,0h0m3,0h0m3,0h0m3,0h0m3,0h0M343.5,223.5h0m3,0h0m3,0h0m3,0h0m3,0h0m3,0h0m3,0h0m3,0h0m3,0h0m3,0h0m36,0h0m3,0h0m3,0h0m3,0h0m3,0h0m3,0h0m3,0h0M346.5,226.5h0m3,0h0m3,0h0m3,0h0m3,0h0m3,0h0m3,0h0m3,0h0m3,0h0m30,0h0m3,0h0m3,0h0m3,0h0m3,0h0m3,0h0m3,0h0m3,0h0m3,0h0m3,0h0M340.5,229.5h0m27,0h0m3,0h0m30,0h0m3,0h0m3,0h0m3,0h0m3,0h0m3,0h0m3,0h0m3,0h0m3,0h0m3,0h0M370.5,232.5h0m30,0h0m3,0h0m3,0h0m3,0h0m3,0h0m3,0h0m3,0h0m3,0h0M370.5,235.5h0m3,0h0m30,0h0m3,0h0m3,0h0m3,0h0m3,0h0m3,0h0m3,0h0M373.5,238.5h0m30,0h0m3,0h0m3,0h0m3,0h0M376.5,241.5h0m24,0h0m3,0h0m3,0h0m3,0h0m3,0h0M379.5,244.5h0m3,0h0m3,0h0m3,0h0m3,0h0m3,0h0m3,0h0m3,0h0m3,0h0m3,0h0m3,0h0m3,0h0M382.5,247.5h0m3,0h0m3,0h0m3,0h0m3,0h0m3,0h0m3,0h0m3,0h0m3,0h0m3,0h0m3,0h0M388.5,250.5h0m3,0h0m3,0h0m3,0h0m3,0h0m3,0h0m3,0h0m3,0h0m3,0h0M391.5,253.5h0m3,0h0m3,0h0m3,0h0m3,0h0m3,0h0m3,0h0m3,0h0M391.5,256.5h0m3,0h0m3,0h0m3,0h0m3,0h0m3,0h0m3,0h0m3,0h0M406.5,259.5h0m3,0h0m3,0h0M409.5,262.5h0m3,0h0m3,0h0M412.5,265.5h0m3,0h0m3,0h0m3,0h0m6,0h0M343.5,289.5h0m3,0h0M331.5,292.5h0m3,0h0m3,0h0m3,0h0m3,0h0m3,0h0M334.5,295.5h0m3,0h0m3,0h0"/><path stroke="#00dfff" d="M376.5,217.5h0m3,0h0m12,0h0m15,0h0M376.5,220.5h0m18,0h0m9,0h0m3,0h0M373.5,223.5h0m3,0h0m12,0h0m15,0h0M373.5,226.5h0M373.5,229.5h0m57,0h0M373.5,232.5h0m51,0h0m3,0h0M376.5,235.5h0m24,0h0m24,0h0M376.5,238.5h0m3,0h0m18,0h0m3,0h0m15,0h0m3,0h0m3,0h0M379.5,241.5h0m3,0h0m3,0h0m3,0h0m3,0h0m3,0h0m3,0h0m18,0h0M415.5,244.5h0M415.5,247.5h0M415.5,250.5h0M415.5,253.5h0M415.5,256.5h0M415.5,259.5h0m3,0h0M418.5,262.5h0m3,0h0"/><path stroke="#00ffff" d="M403.5,217.5h0M379.5,220.5h0M379.5,223.5h0M376.5,226.5h0M376.5,229.5h0M376.5,232.5h0m54,0h0M379.5,235.5h0m18,0h0m30,0h0M382.5,238.5h0m3,0h0m3,0h0m3,0h0m3,0h0m30,0h0M418.5,241.5h0m3,0h0M418.5,244.5h0M418.5,247.5h0M418.5,250.5h0M418.5,253.5h0M418.5,256.5h0M421.5,259.5h0m3,0h0M424.5,262.5h0m3,0h0"/><path stroke="#20ffdf" d="M388.5,205.5h0M391.5,208.5h0m6,0h0m12,0h0M391.5,211.5h0m6,0h0M391.5,214.5h0m3,0h0m3,0h0M388.5,217.5h0m9,0h0m3,0h0M385.5,220.5h0m12,0h0M382.5,223.5h0m15,0h0M379.5,226.5h0M379.5,229.5h0m3,0h0m15,0h0M379.5,232.5h0m3,0h0m12,0h0m3,0h0M382.5,235.5h0m3,0h0m3,0h0m3,0h0m3,0h0m36,0h0M427.5,238.5h0m3,0h0M424.5,241.5h0m3,0h0m3,0h0M421.5,244.5h0m3,0h0m3,0h0m3,0h0M421.5,247.5h0m3,0h0m3,0h0m3,0h0M421.5,250.5h0m3,0h0m3,0h0m3,0h0M421.5,253.5h0m3,0h0m3,0h0m3,0h0M421.5,256.5h0m3,0h0m3,0h0m3,0h0M427.5,259.5h0m3,0h0M430.5,262.5h0M430.5,265.5h0M424.5,268.5h0m3,0h0m3,0h0"/><path stroke="#40ffbf" d="M394.5,217.5h0M388.5,220.5h0M382.5,226.5h0m12,0h0M385.5,229.5h0m9,0h0M385.5,232.5h0m3,0h0m3,0h0"/><path stroke="#60ff9f" d="M385.5,226.5h0M388.5,229.5h0"/><path stroke="#80ff80" d="M388.5,226.5h0M391.5,229.5h0"/><path stroke="#9fff60" d="M400.5,223.5h0M391.5,226.5h0m6,0h0"/><path stroke="#bfff40" d="M391.5,220.5h0M385.5,223.5h0m6,0h0m3,0h0"/><path d="M427.8,178h6v22.5h-6z" fill="#fff" stroke="none"/><path d="M429.4,177.5V201" stroke="#000" stroke-width="1" stroke-linecap="butt"/><circle cx="258.7" cy="144.6" r="3.3" fill="#0050ff" stroke="none"/><circle cx="272.6" cy="149.2" r="3.3" fill="#00c0ff" stroke="none"/></g>
<use href="#st"/>
</g>
<text class="b t" x="243.9" y="75.8" text-anchor="end">100</text><text class="b r" x="247.3" y="64.8" text-anchor="middle">o</text><text class="b t" x="254.5" y="75.8">W</text>
<text class="b t" x="303.6" y="75.8" text-anchor="end">90</text><text class="b r" x="306.9" y="64.8" text-anchor="middle">o</text><text class="b t" x="314.1" y="75.8">W</text>
<text class="b t" x="366.6" y="75.8" text-anchor="end">80</text><text class="b r" x="369.9" y="64.8" text-anchor="middle">o</text><text class="b t" x="377.1" y="75.8">W</text>
<text class="b t" x="431.9" y="75.8" text-anchor="end">70</text><text class="b r" x="435.3" y="64.8" text-anchor="middle">o</text><text class="b t" x="442.5" y="75.8">W</text>
<text class="b t" x="163.8" y="316.7" text-anchor="end">22</text>
<text class="b r" x="168.2" y="305.4" text-anchor="middle">o</text>
<text class="b t" x="175.2" y="316.7">N</text>
<text class="b t" x="163.8" y="303.8" text-anchor="end">24</text>
<text class="b r" x="168.2" y="292.5" text-anchor="middle">o</text>
<text class="b t" x="175.2" y="303.8">N</text>
<text class="b t" x="163.8" y="289.8" text-anchor="end">26</text>
<text class="b r" x="168.2" y="278.5" text-anchor="middle">o</text>
<text class="b t" x="175.2" y="289.8">N</text>
<text class="b t" x="163.8" y="275.6" text-anchor="end">28</text>
<text class="b r" x="168.2" y="264.3" text-anchor="middle">o</text>
<text class="b t" x="175.2" y="275.6">N</text>
<text class="b t" x="163.8" y="261.1" text-anchor="end">30</text>
<text class="b r" x="168.2" y="249.8" text-anchor="middle">o</text>
<text class="b t" x="175.2" y="261.1">N</text>
<text class="b t" x="163.8" y="246.3" text-anchor="end">32</text>
<text class="b r" x="168.2" y="235.0" text-anchor="middle">o</text>
<text class="b t" x="175.2" y="246.3">N</text>
<text class="b t" x="163.8" y="231.2" text-anchor="end">34</text>
<text class="b r" x="168.2" y="219.9" text-anchor="middle">o</text>
<text class="b t" x="175.2" y="231.2">N</text>
<text class="b t" x="163.8" y="215.8" text-anchor="end">36</text>
<text class="b r" x="168.2" y="204.5" text-anchor="middle">o</text>
<text class="b t" x="175.2" y="215.8">N</text>
<text class="b t" x="163.8" y="199.9" text-anchor="end">38</text>
<text class="b r" x="168.2" y="188.6" text-anchor="middle">o</text>
<text class="b t" x="175.2" y="199.9">N</text>
<text class="b t" x="163.8" y="183.6" text-anchor="end">40</text>
<text class="b r" x="168.2" y="172.3" text-anchor="middle">o</text>
<text class="b t" x="175.2" y="183.6">N</text>
<text class="b t" x="163.8" y="166.8" text-anchor="end">42</text>
<text class="b r" x="168.2" y="155.5" text-anchor="middle">o</text>
<text class="b t" x="175.2" y="166.8">N</text>
<text class="b t" x="163.8" y="149.5" text-anchor="end">44</text>
<text class="b r" x="168.2" y="138.2" text-anchor="middle">o</text>
<text class="b t" x="175.2" y="149.5">N</text>
<text class="b t" x="163.8" y="131.5" text-anchor="end">46</text>
<text class="b r" x="168.2" y="120.2" text-anchor="middle">o</text>
<text class="b t" x="175.2" y="131.5">N</text>
<text class="b t" x="163.8" y="113.0" text-anchor="end">48</text>
<text class="b r" x="168.2" y="101.7" text-anchor="middle">o</text>
<text class="b t" x="175.2" y="113.0">N</text>
<rect x="443.9" y="95.5" width="23" height="216.4" fill="url(#jet)" stroke="#000" stroke-width="1"/>
<path d="M466.9,203.2h-2.6" stroke="#111" stroke-width="1"/>
<text class="b c" x="475.5" y="102.3">100</text>
<text class="b c" x="475.5" y="209.8">50</text>
<text class="b c" x="475.5" y="317.6">0</text>
<text class="b l" x="139.8" y="342.8">SAT 400 hPa RH (Percent)</text>
</g>
</svg></body></html>
